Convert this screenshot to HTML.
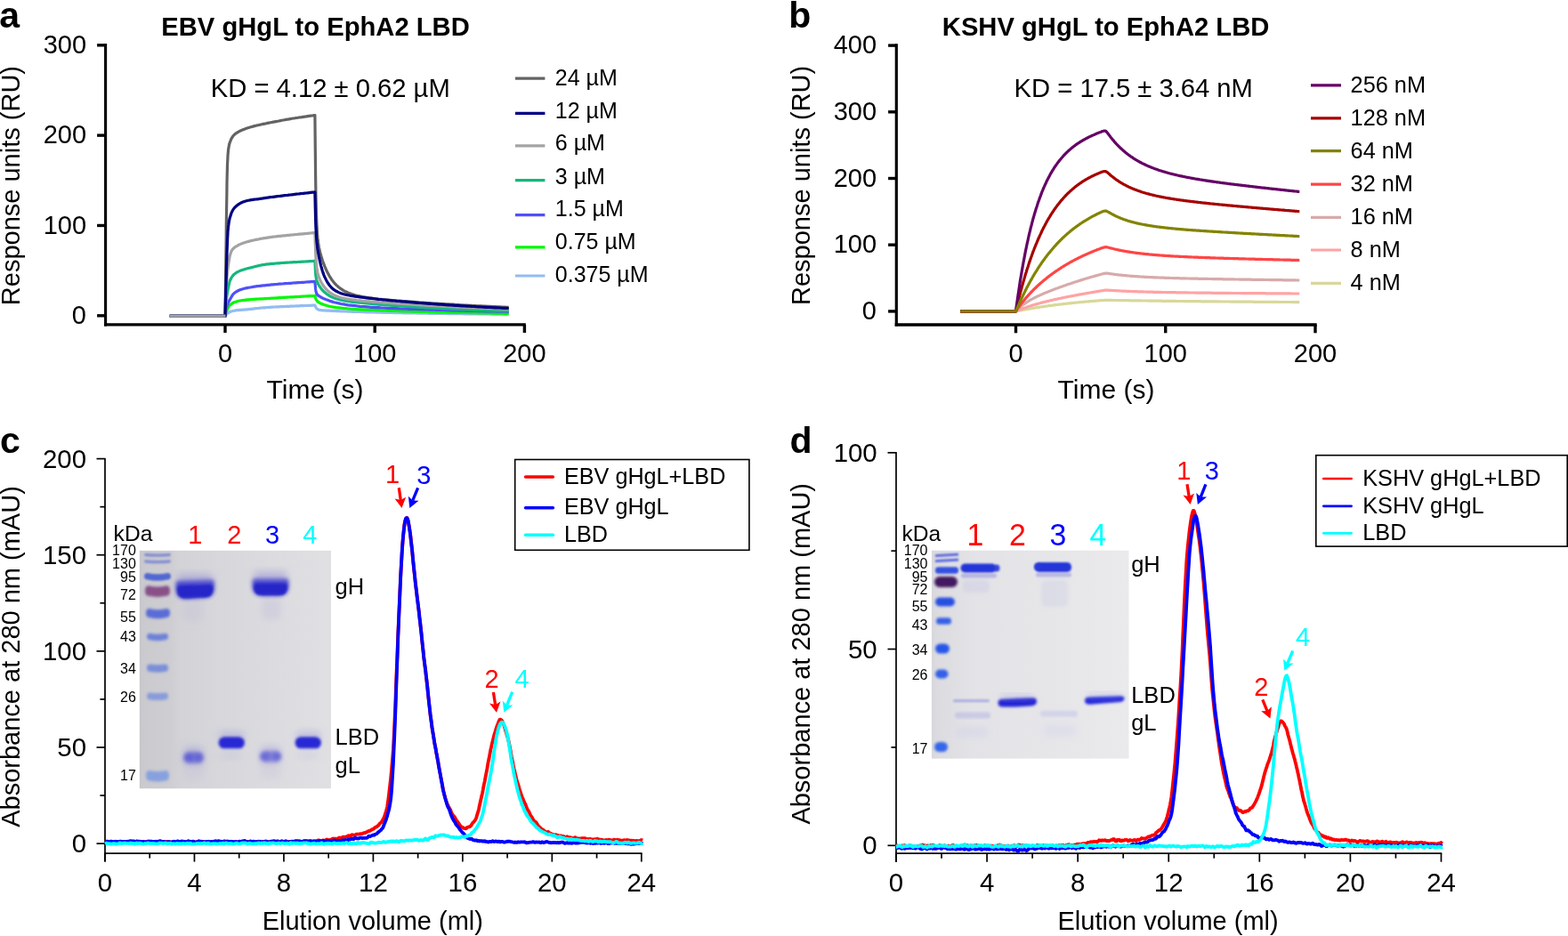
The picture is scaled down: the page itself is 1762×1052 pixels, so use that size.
<!DOCTYPE html><html><head><meta charset="utf-8"><title>Figure</title>
<style>html,body{margin:0;padding:0;background:#fff;overflow:hidden}svg{display:block}text{font-family:"Liberation Sans", Arial, Helvetica, sans-serif}</style></head><body>
<svg width="1762" height="1052" viewBox="0 0 1762 1052">
<rect width="1762" height="1052" fill="#fff"/>
<text x="-0.8" y="31.0" font-size="41" font-weight="bold">a</text>
<text x="181.3" y="39.8" font-size="29.2" font-weight="bold">EBV gHgL to EphA2 LBD</text>
<text x="236.8" y="108.7" font-size="29.2">KD = 4.12 &#177; 0.62 &#181;M</text>
<line x1="118.60" y1="49.10" x2="118.60" y2="366.60" stroke="#000" stroke-width="3.1" stroke-linecap="butt"/>
<line x1="117.05" y1="364.90" x2="590.80" y2="364.90" stroke="#000" stroke-width="3.4" stroke-linecap="butt"/>
<line x1="109.10" y1="354.80" x2="118.60" y2="354.80" stroke="#000" stroke-width="3.4" stroke-linecap="butt"/>
<text transform="translate(97.0,363.8) scale(1,1.03)" font-size="29" text-anchor="end">0</text>
<line x1="109.10" y1="253.47" x2="118.60" y2="253.47" stroke="#000" stroke-width="3.4" stroke-linecap="butt"/>
<text transform="translate(97.0,262.5) scale(1,1.03)" font-size="29" text-anchor="end">100</text>
<line x1="109.10" y1="152.14" x2="118.60" y2="152.14" stroke="#000" stroke-width="3.4" stroke-linecap="butt"/>
<text transform="translate(97.0,161.1) scale(1,1.03)" font-size="29" text-anchor="end">200</text>
<line x1="109.10" y1="50.81" x2="118.60" y2="50.81" stroke="#000" stroke-width="3.4" stroke-linecap="butt"/>
<text transform="translate(97.0,59.8) scale(1,1.03)" font-size="29" text-anchor="end">300</text>
<line x1="253.00" y1="364.90" x2="253.00" y2="374.00" stroke="#000" stroke-width="3.4" stroke-linecap="butt"/>
<text transform="translate(253.0,406.5) scale(1,1.03)" font-size="29" text-anchor="middle">0</text>
<line x1="421.20" y1="364.90" x2="421.20" y2="374.00" stroke="#000" stroke-width="3.4" stroke-linecap="butt"/>
<text transform="translate(421.2,406.5) scale(1,1.03)" font-size="29" text-anchor="middle">100</text>
<line x1="589.40" y1="364.90" x2="589.40" y2="374.00" stroke="#000" stroke-width="3.4" stroke-linecap="butt"/>
<text transform="translate(589.4,406.5) scale(1,1.03)" font-size="29" text-anchor="middle">200</text>
<text x="354.0" y="448.2" font-size="30" text-anchor="middle">Time (s)</text>
<text x="0.0" y="0.0" font-size="29" text-anchor="middle" transform="translate(22.0,208.6) rotate(-90)">Response units (RU)</text>
<line x1="579.00" y1="88.10" x2="612.40" y2="88.10" stroke="#636363" stroke-width="3.2" stroke-linecap="butt"/>
<text x="623.8" y="96.0" font-size="25">24 &#181;M</text>
<line x1="579.00" y1="127.40" x2="612.40" y2="127.40" stroke="#000080" stroke-width="3.2" stroke-linecap="butt"/>
<text x="623.8" y="132.7" font-size="25">12 &#181;M</text>
<line x1="579.00" y1="163.80" x2="612.40" y2="163.80" stroke="#a3a3a3" stroke-width="3.2" stroke-linecap="butt"/>
<text x="623.8" y="169.4" font-size="25">6 &#181;M</text>
<line x1="579.00" y1="202.60" x2="612.40" y2="202.60" stroke="#14b87c" stroke-width="3.2" stroke-linecap="butt"/>
<text x="623.8" y="206.6" font-size="25">3 &#181;M</text>
<line x1="579.00" y1="241.70" x2="612.40" y2="241.70" stroke="#5050fa" stroke-width="3.2" stroke-linecap="butt"/>
<text x="623.8" y="243.2" font-size="25">1.5 &#181;M</text>
<line x1="579.00" y1="277.90" x2="612.40" y2="277.90" stroke="#00f800" stroke-width="3.2" stroke-linecap="butt"/>
<text x="623.8" y="280.4" font-size="25">0.75 &#181;M</text>
<line x1="579.00" y1="310.00" x2="612.40" y2="310.00" stroke="#92bcf2" stroke-width="3.2" stroke-linecap="butt"/>
<text x="623.8" y="317.2" font-size="25">0.375 &#181;M</text>
<path d="M190.8,355.2 L253.0,355.2 L253.0,354.8 L253.2,354.6 L253.3,354.4 L253.5,354.2 L253.7,354.0 L253.8,353.8 L254.0,353.7 L254.2,353.5 L254.3,353.3 L254.5,353.1 L254.7,353.0 L254.9,352.8 L255.0,352.7 L255.2,352.5 L255.4,352.4 L255.5,352.3 L255.7,352.1 L255.9,352.0 L256.0,351.9 L256.2,351.8 L256.4,351.7 L256.5,351.6 L256.7,351.5 L256.9,351.4 L257.0,351.3 L257.2,351.2 L257.4,351.1 L257.5,351.0 L257.7,350.9 L257.9,350.8 L258.0,350.7 L258.4,350.6 L260.0,350.0 L261.6,349.5 L263.2,349.2 L264.9,348.9 L266.5,348.7 L268.1,348.6 L269.7,348.4 L271.3,348.3 L273.0,348.2 L274.6,348.1 L276.2,347.9 L277.8,347.8 L279.4,347.6 L281.1,347.4 L282.7,347.3 L284.3,347.1 L285.9,346.9 L287.5,346.7 L289.1,346.5 L290.8,346.4 L292.4,346.2 L294.0,346.0 L295.6,345.9 L297.2,345.8 L298.9,345.6 L300.5,345.5 L302.1,345.4 L303.7,345.3 L305.3,345.2 L307.0,345.1 L308.6,345.0 L310.2,344.9 L311.8,344.9 L313.4,344.8 L315.1,344.7 L316.7,344.6 L318.3,344.6 L319.9,344.5 L321.5,344.4 L323.2,344.3 L324.8,344.3 L326.4,344.2 L328.0,344.1 L329.6,344.1 L331.3,344.0 L332.9,343.9 L334.5,343.9 L336.1,343.8 L337.7,343.7 L339.3,343.7 L341.0,343.6 L342.6,343.5 L344.2,343.5 L345.8,343.4 L347.4,343.3 L349.1,343.3 L350.7,343.2 L352.3,343.1 L353.9,343.0 L353.9,343.0 L354.3,344.0 L354.6,344.8 L354.9,345.4 L355.3,345.9 L355.6,346.4 L355.9,346.8 L356.3,347.1 L356.6,347.4 L356.9,347.6 L357.3,347.8 L357.6,347.9 L358.0,348.1 L358.3,348.2 L358.6,348.3 L359.0,348.3 L359.3,348.4 L359.6,348.5 L360.0,348.5 L360.3,348.6 L360.6,348.6 L361.0,348.7 L361.3,348.7 L361.7,348.7 L362.0,348.8 L362.3,348.8 L362.7,348.8 L363.0,348.8 L363.3,348.9 L363.7,348.9 L364.0,348.9 L364.9,348.9 L367.5,349.1 L370.1,349.2 L372.7,349.3 L375.3,349.4 L377.9,349.6 L380.6,349.7 L383.2,349.8 L385.8,349.9 L388.4,350.0 L391.0,350.1 L393.7,350.2 L396.3,350.3 L398.9,350.3 L401.5,350.4 L404.1,350.5 L406.8,350.6 L409.4,350.7 L412.0,350.8 L414.6,350.8 L417.2,350.9 L419.8,351.0 L422.5,351.1 L425.1,351.1 L427.7,351.2 L430.3,351.3 L432.9,351.3 L435.6,351.4 L438.2,351.4 L440.8,351.5 L443.4,351.6 L446.0,351.6 L448.7,351.7 L451.3,351.7 L453.9,351.8 L456.5,351.8 L459.1,351.9 L461.7,351.9 L464.4,352.0 L467.0,352.0 L469.6,352.1 L472.2,352.1 L474.8,352.2 L477.5,352.2 L480.1,352.2 L482.7,352.3 L485.3,352.3 L487.9,352.3 L490.6,352.4 L493.2,352.4 L495.8,352.5 L498.4,352.5 L501.0,352.5 L503.6,352.6 L506.3,352.6 L508.9,352.6 L511.5,352.7 L514.1,352.7 L516.7,352.7 L519.4,352.7 L522.0,352.8 L524.6,352.8 L527.2,352.8 L529.8,352.9 L532.5,352.9 L535.1,352.9 L537.7,352.9 L540.3,352.9 L542.9,353.0 L545.6,353.0 L548.2,353.0 L550.8,353.0 L553.4,353.1 L556.0,353.1 L558.6,353.1 L561.3,353.1 L563.9,353.1 L566.5,353.2 L569.1,353.2 L571.7,353.2" fill="none" stroke="#92bcf2" stroke-width="3.2" stroke-linejoin="round" stroke-linecap="butt"/>
<path d="M190.8,355.2 L253.0,355.2 L253.0,354.8 L253.2,354.3 L253.3,353.7 L253.5,353.2 L253.7,352.7 L253.8,352.1 L254.0,351.6 L254.2,351.2 L254.3,350.7 L254.5,350.2 L254.7,349.7 L254.9,349.3 L255.0,348.8 L255.2,348.3 L255.4,347.9 L255.5,347.4 L255.7,347.0 L255.9,346.6 L256.0,346.2 L256.2,345.9 L256.4,345.6 L256.5,345.3 L256.7,345.1 L256.9,344.8 L257.0,344.6 L257.2,344.4 L257.4,344.1 L257.5,343.9 L257.7,343.7 L257.9,343.5 L258.0,343.4 L258.4,343.0 L260.0,341.6 L261.6,340.5 L263.2,339.7 L264.9,339.2 L266.5,338.7 L268.1,338.3 L269.7,338.0 L271.3,337.7 L273.0,337.5 L274.6,337.3 L276.2,337.1 L277.8,336.9 L279.4,336.8 L281.1,336.6 L282.7,336.5 L284.3,336.4 L285.9,336.3 L287.5,336.2 L289.1,336.1 L290.8,336.0 L292.4,335.9 L294.0,335.9 L295.6,335.8 L297.2,335.7 L298.9,335.6 L300.5,335.5 L302.1,335.4 L303.7,335.3 L305.3,335.2 L307.0,335.1 L308.6,335.0 L310.2,334.9 L311.8,334.8 L313.4,334.7 L315.1,334.6 L316.7,334.5 L318.3,334.4 L319.9,334.3 L321.5,334.2 L323.2,334.1 L324.8,334.0 L326.4,333.9 L328.0,333.8 L329.6,333.8 L331.3,333.7 L332.9,333.6 L334.5,333.5 L336.1,333.4 L337.7,333.3 L339.3,333.2 L341.0,333.1 L342.6,333.0 L344.2,332.9 L345.8,332.8 L347.4,332.7 L349.1,332.7 L350.7,332.6 L352.3,332.5 L353.9,332.4 L353.9,332.4 L354.3,333.8 L354.6,335.0 L354.9,335.9 L355.3,336.7 L355.6,337.3 L355.9,337.8 L356.3,338.2 L356.6,338.6 L356.9,338.9 L357.3,339.2 L357.6,339.5 L358.0,339.7 L358.3,339.9 L358.6,340.1 L359.0,340.3 L359.3,340.5 L359.6,340.7 L360.0,340.8 L360.3,341.0 L360.6,341.1 L361.0,341.3 L361.3,341.4 L361.7,341.6 L362.0,341.7 L362.3,341.8 L362.7,342.0 L363.0,342.1 L363.3,342.2 L363.7,342.3 L364.0,342.5 L364.9,342.7 L367.5,343.5 L370.1,344.2 L372.7,344.7 L375.3,345.2 L377.9,345.6 L380.6,345.9 L383.2,346.2 L385.8,346.5 L388.4,346.7 L391.0,347.0 L393.7,347.2 L396.3,347.3 L398.9,347.5 L401.5,347.7 L404.1,347.8 L406.8,347.9 L409.4,348.1 L412.0,348.2 L414.6,348.3 L417.2,348.4 L419.8,348.5 L422.5,348.6 L425.1,348.7 L427.7,348.9 L430.3,348.9 L432.9,349.0 L435.6,349.1 L438.2,349.2 L440.8,349.3 L443.4,349.4 L446.0,349.5 L448.7,349.6 L451.3,349.7 L453.9,349.8 L456.5,349.8 L459.1,349.9 L461.7,350.0 L464.4,350.1 L467.0,350.1 L469.6,350.2 L472.2,350.3 L474.8,350.4 L477.5,350.4 L480.1,350.5 L482.7,350.6 L485.3,350.6 L487.9,350.7 L490.6,350.8 L493.2,350.8 L495.8,350.9 L498.4,351.0 L501.0,351.0 L503.6,351.1 L506.3,351.2 L508.9,351.2 L511.5,351.3 L514.1,351.3 L516.7,351.4 L519.4,351.4 L522.0,351.5 L524.6,351.5 L527.2,351.6 L529.8,351.6 L532.5,351.7 L535.1,351.7 L537.7,351.8 L540.3,351.8 L542.9,351.9 L545.6,351.9 L548.2,352.0 L550.8,352.0 L553.4,352.1 L556.0,352.1 L558.6,352.2 L561.3,352.2 L563.9,352.2 L566.5,352.3 L569.1,352.3 L571.7,352.4" fill="none" stroke="#00f800" stroke-width="3.2" stroke-linejoin="round" stroke-linecap="butt"/>
<path d="M190.8,355.2 L253.0,355.2 L253.0,354.8 L253.2,353.2 L253.3,351.6 L253.5,350.2 L253.7,349.0 L253.8,348.0 L254.0,347.2 L254.2,346.6 L254.3,345.9 L254.5,345.4 L254.7,344.9 L254.9,344.4 L255.0,343.9 L255.2,343.5 L255.4,343.1 L255.5,342.6 L255.7,342.2 L255.9,341.8 L256.0,341.4 L256.2,341.0 L256.4,340.6 L256.5,340.3 L256.7,339.9 L256.9,339.6 L257.0,339.2 L257.2,338.9 L257.4,338.5 L257.5,338.2 L257.7,337.9 L257.9,337.6 L258.0,337.3 L258.4,336.7 L260.0,333.8 L261.6,331.2 L263.2,329.5 L264.9,328.2 L266.5,327.3 L268.1,326.5 L269.7,325.8 L271.3,325.2 L273.0,324.7 L274.6,324.3 L276.2,323.9 L277.8,323.6 L279.4,323.3 L281.1,323.0 L282.7,322.7 L284.3,322.4 L285.9,322.2 L287.5,321.9 L289.1,321.7 L290.8,321.5 L292.4,321.3 L294.0,321.1 L295.6,320.9 L297.2,320.8 L298.9,320.6 L300.5,320.4 L302.1,320.3 L303.7,320.1 L305.3,319.9 L307.0,319.8 L308.6,319.6 L310.2,319.5 L311.8,319.4 L313.4,319.2 L315.1,319.1 L316.7,319.0 L318.3,318.9 L319.9,318.7 L321.5,318.6 L323.2,318.5 L324.8,318.4 L326.4,318.3 L328.0,318.2 L329.6,318.0 L331.3,317.9 L332.9,317.8 L334.5,317.7 L336.1,317.6 L337.7,317.5 L339.3,317.4 L341.0,317.3 L342.6,317.2 L344.2,317.0 L345.8,316.9 L347.4,316.8 L349.1,316.7 L350.7,316.6 L352.3,316.4 L353.9,316.3 L353.9,316.3 L354.3,321.2 L354.6,324.5 L354.9,326.8 L355.3,328.3 L355.6,329.4 L355.9,330.1 L356.3,330.7 L356.6,331.2 L356.9,331.6 L357.3,331.9 L357.6,332.1 L358.0,332.4 L358.3,332.6 L358.6,332.8 L359.0,333.0 L359.3,333.2 L359.6,333.4 L360.0,333.6 L360.3,333.8 L360.6,334.0 L361.0,334.2 L361.3,334.4 L361.7,334.5 L362.0,334.7 L362.3,334.9 L362.7,335.0 L363.0,335.2 L363.3,335.4 L363.7,335.5 L364.0,335.7 L364.9,336.0 L367.5,337.1 L370.1,338.1 L372.7,338.9 L375.3,339.7 L377.9,340.3 L380.6,340.9 L383.2,341.5 L385.8,341.9 L388.4,342.4 L391.0,342.8 L393.7,343.1 L396.3,343.4 L398.9,343.7 L401.5,344.0 L404.1,344.3 L406.8,344.5 L409.4,344.7 L412.0,344.9 L414.6,345.1 L417.2,345.3 L419.8,345.4 L422.5,345.6 L425.1,345.7 L427.7,345.9 L430.3,346.0 L432.9,346.1 L435.6,346.3 L438.2,346.4 L440.8,346.5 L443.4,346.6 L446.0,346.7 L448.7,346.8 L451.3,347.0 L453.9,347.1 L456.5,347.2 L459.1,347.3 L461.7,347.4 L464.4,347.4 L467.0,347.5 L469.6,347.6 L472.2,347.7 L474.8,347.8 L477.5,347.9 L480.1,348.0 L482.7,348.1 L485.3,348.1 L487.9,348.2 L490.6,348.3 L493.2,348.4 L495.8,348.5 L498.4,348.5 L501.0,348.6 L503.6,348.7 L506.3,348.8 L508.9,348.8 L511.5,348.9 L514.1,349.0 L516.7,349.1 L519.4,349.1 L522.0,349.2 L524.6,349.3 L527.2,349.3 L529.8,349.4 L532.5,349.5 L535.1,349.5 L537.7,349.6 L540.3,349.7 L542.9,349.7 L545.6,349.8 L548.2,349.8 L550.8,349.9 L553.4,350.0 L556.0,350.0 L558.6,350.1 L561.3,350.1 L563.9,350.2 L566.5,350.2 L569.1,350.3 L571.7,350.4" fill="none" stroke="#5050fa" stroke-width="3.2" stroke-linejoin="round" stroke-linecap="butt"/>
<path d="M190.8,355.2 L253.0,355.2 L253.0,354.8 L253.2,352.3 L253.3,349.9 L253.5,347.5 L253.7,345.3 L253.8,343.2 L254.0,341.2 L254.2,339.3 L254.3,337.6 L254.5,336.0 L254.7,334.5 L254.9,333.2 L255.0,332.0 L255.2,330.9 L255.4,329.8 L255.5,328.8 L255.7,327.9 L255.9,327.0 L256.0,326.1 L256.2,325.2 L256.4,324.4 L256.5,323.6 L256.7,322.7 L256.9,321.9 L257.0,321.1 L257.2,320.2 L257.4,319.5 L257.5,318.7 L257.7,318.0 L257.9,317.3 L258.0,316.6 L258.4,315.5 L260.0,312.1 L261.6,309.9 L263.2,308.2 L264.9,306.9 L266.5,305.9 L268.1,305.1 L269.7,304.4 L271.3,303.7 L273.0,303.2 L274.6,302.7 L276.2,302.2 L277.8,301.7 L279.4,301.4 L281.1,301.0 L282.7,300.6 L284.3,300.2 L285.9,299.8 L287.5,299.4 L289.1,299.0 L290.8,298.6 L292.4,298.2 L294.0,297.9 L295.6,297.6 L297.2,297.4 L298.9,297.1 L300.5,296.9 L302.1,296.8 L303.7,296.6 L305.3,296.4 L307.0,296.3 L308.6,296.2 L310.2,296.0 L311.8,295.9 L313.4,295.8 L315.1,295.6 L316.7,295.5 L318.3,295.4 L319.9,295.3 L321.5,295.2 L323.2,295.1 L324.8,295.0 L326.4,294.9 L328.0,294.8 L329.6,294.7 L331.3,294.6 L332.9,294.6 L334.5,294.5 L336.1,294.4 L337.7,294.3 L339.3,294.2 L341.0,294.1 L342.6,294.0 L344.2,293.9 L345.8,293.8 L347.4,293.7 L349.1,293.6 L350.7,293.5 L352.3,293.4 L353.9,293.3 L353.9,293.3 L354.3,301.7 L354.6,306.9 L354.9,310.3 L355.3,312.5 L355.6,314.1 L355.9,315.4 L356.3,316.4 L356.6,317.2 L356.9,317.9 L357.3,318.6 L357.6,319.3 L358.0,319.9 L358.3,320.5 L358.6,321.0 L359.0,321.6 L359.3,322.1 L359.6,322.6 L360.0,323.1 L360.3,323.5 L360.6,324.0 L361.0,324.4 L361.3,324.9 L361.7,325.3 L362.0,325.7 L362.3,326.1 L362.7,326.5 L363.0,326.8 L363.3,327.2 L363.7,327.5 L364.0,327.8 L364.9,328.6 L367.5,330.7 L370.1,332.4 L372.7,333.8 L375.3,334.9 L377.9,335.8 L380.6,336.5 L383.2,337.1 L385.8,337.7 L388.4,338.1 L391.0,338.6 L393.7,338.9 L396.3,339.3 L398.9,339.6 L401.5,339.9 L404.1,340.2 L406.8,340.4 L409.4,340.7 L412.0,341.0 L414.6,341.2 L417.2,341.4 L419.8,341.6 L422.5,341.9 L425.1,342.1 L427.7,342.3 L430.3,342.5 L432.9,342.7 L435.6,342.9 L438.2,343.1 L440.8,343.3 L443.4,343.5 L446.0,343.7 L448.7,343.8 L451.3,344.0 L453.9,344.2 L456.5,344.4 L459.1,344.5 L461.7,344.7 L464.4,344.9 L467.0,345.0 L469.6,345.2 L472.2,345.3 L474.8,345.5 L477.5,345.6 L480.1,345.8 L482.7,345.9 L485.3,346.1 L487.9,346.2 L490.6,346.4 L493.2,346.5 L495.8,346.6 L498.4,346.8 L501.0,346.9 L503.6,347.0 L506.3,347.2 L508.9,347.3 L511.5,347.4 L514.1,347.5 L516.7,347.6 L519.4,347.8 L522.0,347.9 L524.6,348.0 L527.2,348.1 L529.8,348.2 L532.5,348.3 L535.1,348.4 L537.7,348.5 L540.3,348.6 L542.9,348.7 L545.6,348.8 L548.2,348.9 L550.8,349.0 L553.4,349.1 L556.0,349.2 L558.6,349.3 L561.3,349.4 L563.9,349.5 L566.5,349.6 L569.1,349.6 L571.7,349.7" fill="none" stroke="#14b87c" stroke-width="3.2" stroke-linejoin="round" stroke-linecap="butt"/>
<path d="M190.8,355.2 L253.0,355.2 L253.0,354.8 L253.2,350.0 L253.3,345.3 L253.5,340.8 L253.7,336.5 L253.8,332.4 L254.0,328.6 L254.2,325.0 L254.3,321.8 L254.5,318.9 L254.7,316.3 L254.9,314.0 L255.0,311.8 L255.2,309.8 L255.4,307.9 L255.5,306.1 L255.7,304.5 L255.9,303.0 L256.0,301.6 L256.2,300.3 L256.4,299.1 L256.5,297.9 L256.7,296.8 L256.9,295.7 L257.0,294.6 L257.2,293.6 L257.4,292.5 L257.5,291.5 L257.7,290.6 L257.9,289.6 L258.0,288.8 L258.4,287.1 L260.0,282.3 L261.6,280.0 L263.2,278.4 L264.9,277.2 L266.5,276.3 L268.1,275.3 L269.7,274.6 L271.3,273.9 L273.0,273.3 L274.6,272.8 L276.2,272.3 L277.8,271.8 L279.4,271.4 L281.1,270.9 L282.7,270.5 L284.3,270.1 L285.9,269.8 L287.5,269.4 L289.1,269.1 L290.8,268.8 L292.4,268.4 L294.0,268.2 L295.6,267.9 L297.2,267.6 L298.9,267.4 L300.5,267.1 L302.1,266.9 L303.7,266.7 L305.3,266.4 L307.0,266.2 L308.6,266.0 L310.2,265.8 L311.8,265.6 L313.4,265.4 L315.1,265.3 L316.7,265.1 L318.3,264.9 L319.9,264.8 L321.5,264.6 L323.2,264.4 L324.8,264.3 L326.4,264.1 L328.0,264.0 L329.6,263.8 L331.3,263.7 L332.9,263.5 L334.5,263.4 L336.1,263.2 L337.7,263.1 L339.3,262.9 L341.0,262.8 L342.6,262.6 L344.2,262.5 L345.8,262.3 L347.4,262.1 L349.1,262.0 L350.7,261.8 L352.3,261.6 L353.9,261.5 L353.9,261.5 L354.3,273.6 L354.6,282.5 L354.9,289.0 L355.3,294.0 L355.6,297.8 L355.9,300.7 L356.3,303.1 L356.6,305.0 L356.9,306.6 L357.3,308.0 L357.6,309.2 L358.0,310.3 L358.3,311.3 L358.6,312.2 L359.0,313.0 L359.3,313.8 L359.6,314.6 L360.0,315.3 L360.3,316.0 L360.6,316.6 L361.0,317.2 L361.3,317.9 L361.7,318.4 L362.0,319.0 L362.3,319.6 L362.7,320.1 L363.0,320.6 L363.3,321.1 L363.7,321.6 L364.0,322.0 L364.9,323.1 L367.5,326.1 L370.1,328.3 L372.7,330.2 L375.3,331.6 L377.9,332.8 L380.6,333.7 L383.2,334.5 L385.8,335.1 L388.4,335.7 L391.0,336.1 L393.7,336.5 L396.3,336.9 L398.9,337.2 L401.5,337.6 L404.1,337.8 L406.8,338.1 L409.4,338.3 L412.0,338.6 L414.6,338.8 L417.2,339.0 L419.8,339.3 L422.5,339.5 L425.1,339.7 L427.7,339.9 L430.3,340.1 L432.9,340.3 L435.6,340.5 L438.2,340.6 L440.8,340.8 L443.4,341.0 L446.0,341.2 L448.7,341.4 L451.3,341.5 L453.9,341.7 L456.5,341.9 L459.1,342.0 L461.7,342.2 L464.4,342.4 L467.0,342.5 L469.6,342.7 L472.2,342.8 L474.8,343.0 L477.5,343.2 L480.1,343.3 L482.7,343.5 L485.3,343.6 L487.9,343.7 L490.6,343.9 L493.2,344.0 L495.8,344.2 L498.4,344.3 L501.0,344.4 L503.6,344.6 L506.3,344.7 L508.9,344.8 L511.5,345.0 L514.1,345.1 L516.7,345.2 L519.4,345.3 L522.0,345.5 L524.6,345.6 L527.2,345.7 L529.8,345.8 L532.5,345.9 L535.1,346.1 L537.7,346.2 L540.3,346.3 L542.9,346.4 L545.6,346.5 L548.2,346.6 L550.8,346.7 L553.4,346.8 L556.0,346.9 L558.6,347.0 L561.3,347.1 L563.9,347.2 L566.5,347.3 L569.1,347.4 L571.7,347.5" fill="none" stroke="#a3a3a3" stroke-width="3.2" stroke-linejoin="round" stroke-linecap="butt"/>
<path d="M190.8,355.2 L253.0,355.2 L253.0,354.8 L253.2,343.1 L253.3,331.2 L253.5,319.0 L253.7,306.6 L253.8,294.0 L254.0,280.7 L254.2,266.7 L254.3,252.9 L254.5,240.0 L254.7,228.6 L254.9,217.3 L255.0,206.5 L255.2,197.2 L255.4,190.1 L255.5,185.5 L255.7,181.6 L255.9,178.1 L256.0,175.1 L256.2,172.6 L256.4,170.6 L256.5,169.1 L256.7,167.8 L256.9,166.6 L257.0,165.6 L257.2,164.6 L257.4,163.7 L257.5,162.9 L257.7,162.2 L257.9,161.5 L258.0,160.9 L258.4,159.8 L260.0,155.9 L261.6,153.3 L263.2,151.5 L264.9,150.1 L266.5,149.0 L268.1,148.1 L269.7,147.2 L271.3,146.5 L273.0,145.8 L274.6,145.2 L276.2,144.6 L277.8,144.0 L279.4,143.5 L281.1,143.0 L282.7,142.5 L284.3,142.1 L285.9,141.6 L287.5,141.2 L289.1,140.8 L290.8,140.5 L292.4,140.1 L294.0,139.8 L295.6,139.4 L297.2,139.1 L298.9,138.8 L300.5,138.4 L302.1,138.1 L303.7,137.8 L305.3,137.5 L307.0,137.2 L308.6,136.9 L310.2,136.6 L311.8,136.3 L313.4,136.0 L315.1,135.6 L316.7,135.3 L318.3,135.0 L319.9,134.7 L321.5,134.4 L323.2,134.2 L324.8,133.9 L326.4,133.6 L328.0,133.3 L329.6,133.0 L331.3,132.8 L332.9,132.5 L334.5,132.3 L336.1,132.0 L337.7,131.8 L339.3,131.6 L341.0,131.3 L342.6,131.1 L344.2,130.9 L345.8,130.6 L347.4,130.4 L349.1,130.2 L350.7,130.0 L352.3,129.7 L353.9,129.5 L353.9,129.5 L354.3,168.8 L354.6,197.1 L354.9,217.6 L355.3,232.7 L355.6,243.8 L355.9,252.1 L356.3,258.4 L356.6,263.3 L356.9,267.2 L357.3,270.4 L357.6,273.0 L358.0,275.2 L358.3,277.2 L358.6,278.9 L359.0,280.5 L359.3,282.0 L359.6,283.4 L360.0,284.7 L360.3,285.9 L360.6,287.1 L361.0,288.3 L361.3,289.4 L361.7,290.5 L362.0,291.5 L362.3,292.5 L362.7,293.5 L363.0,294.5 L363.3,295.4 L363.7,296.3 L364.0,297.2 L364.9,299.4 L367.5,305.3 L370.1,310.1 L372.7,314.2 L375.3,317.6 L377.9,320.4 L380.6,322.7 L383.2,324.7 L385.8,326.4 L388.4,327.8 L391.0,329.0 L393.7,330.0 L396.3,330.9 L398.9,331.7 L401.5,332.4 L404.1,332.9 L406.8,333.5 L409.4,333.9 L412.0,334.4 L414.6,334.8 L417.2,335.1 L419.8,335.5 L422.5,335.8 L425.1,336.1 L427.7,336.3 L430.3,336.6 L432.9,336.9 L435.6,337.1 L438.2,337.3 L440.8,337.6 L443.4,337.8 L446.0,338.0 L448.7,338.2 L451.3,338.4 L453.9,338.6 L456.5,338.8 L459.1,339.0 L461.7,339.2 L464.4,339.4 L467.0,339.6 L469.6,339.8 L472.2,340.0 L474.8,340.1 L477.5,340.3 L480.1,340.5 L482.7,340.6 L485.3,340.8 L487.9,341.0 L490.6,341.1 L493.2,341.3 L495.8,341.5 L498.4,341.6 L501.0,341.8 L503.6,341.9 L506.3,342.1 L508.9,342.2 L511.5,342.4 L514.1,342.5 L516.7,342.7 L519.4,342.8 L522.0,343.0 L524.6,343.1 L527.2,343.3 L529.8,343.4 L532.5,343.5 L535.1,343.7 L537.7,343.8 L540.3,343.9 L542.9,344.1 L545.6,344.2 L548.2,344.3 L550.8,344.4 L553.4,344.6 L556.0,344.7 L558.6,344.8 L561.3,344.9 L563.9,345.0 L566.5,345.1 L569.1,345.3 L571.7,345.4" fill="none" stroke="#636363" stroke-width="3.2" stroke-linejoin="round" stroke-linecap="butt"/>
<path d="M190.8,355.2 L253.0,355.2 L253.0,354.8 L253.2,348.7 L253.3,342.6 L253.5,336.6 L253.7,330.5 L253.8,324.4 L254.0,318.2 L254.2,311.9 L254.3,305.6 L254.5,299.6 L254.7,294.0 L254.9,288.8 L255.0,283.8 L255.2,279.1 L255.4,274.7 L255.5,270.7 L255.7,267.0 L255.9,263.5 L256.0,260.6 L256.2,258.6 L256.4,256.9 L256.5,255.3 L256.7,253.8 L256.9,252.5 L257.0,251.3 L257.2,250.1 L257.4,249.1 L257.5,248.2 L257.7,247.3 L257.9,246.5 L258.0,245.8 L258.4,244.4 L260.0,239.4 L261.6,236.2 L263.2,233.9 L264.9,232.2 L266.5,230.8 L268.1,229.6 L269.7,228.6 L271.3,227.8 L273.0,227.1 L274.6,226.5 L276.2,226.0 L277.8,225.5 L279.4,225.2 L281.1,224.9 L282.7,224.6 L284.3,224.4 L285.9,224.2 L287.5,224.0 L289.1,223.8 L290.8,223.6 L292.4,223.3 L294.0,223.1 L295.6,222.9 L297.2,222.6 L298.9,222.4 L300.5,222.2 L302.1,221.9 L303.7,221.7 L305.3,221.5 L307.0,221.3 L308.6,221.1 L310.2,220.9 L311.8,220.7 L313.4,220.5 L315.1,220.3 L316.7,220.1 L318.3,219.9 L319.9,219.7 L321.5,219.5 L323.2,219.4 L324.8,219.2 L326.4,219.0 L328.0,218.8 L329.6,218.6 L331.3,218.4 L332.9,218.2 L334.5,218.0 L336.1,217.9 L337.7,217.7 L339.3,217.5 L341.0,217.3 L342.6,217.1 L344.2,217.0 L345.8,216.8 L347.4,216.6 L349.1,216.4 L350.7,216.2 L352.3,216.0 L353.9,215.9 L353.9,215.9 L354.3,234.2 L354.6,246.8 L354.9,255.7 L355.3,262.3 L355.6,267.3 L355.9,271.2 L356.3,274.5 L356.6,277.3 L356.9,279.8 L357.3,282.1 L357.6,284.2 L358.0,286.1 L358.3,288.0 L358.6,289.7 L359.0,291.3 L359.3,292.9 L359.6,294.4 L360.0,295.9 L360.3,297.3 L360.6,298.6 L361.0,299.9 L361.3,301.1 L361.7,302.3 L362.0,303.4 L362.3,304.5 L362.7,305.5 L363.0,306.5 L363.3,307.5 L363.7,308.4 L364.0,309.3 L364.9,311.4 L367.5,316.6 L370.1,320.5 L372.7,323.5 L375.3,325.7 L377.9,327.3 L380.6,328.6 L383.2,329.7 L385.8,330.5 L388.4,331.2 L391.0,331.8 L393.7,332.3 L396.3,332.7 L398.9,333.1 L401.5,333.5 L404.1,333.9 L406.8,334.2 L409.4,334.5 L412.0,334.8 L414.6,335.1 L417.2,335.4 L419.8,335.7 L422.5,336.0 L425.1,336.3 L427.7,336.5 L430.3,336.8 L432.9,337.0 L435.6,337.3 L438.2,337.6 L440.8,337.8 L443.4,338.0 L446.0,338.3 L448.7,338.5 L451.3,338.8 L453.9,339.0 L456.5,339.2 L459.1,339.4 L461.7,339.7 L464.4,339.9 L467.0,340.1 L469.6,340.3 L472.2,340.5 L474.8,340.7 L477.5,340.9 L480.1,341.1 L482.7,341.3 L485.3,341.5 L487.9,341.7 L490.6,341.9 L493.2,342.1 L495.8,342.2 L498.4,342.4 L501.0,342.6 L503.6,342.8 L506.3,342.9 L508.9,343.1 L511.5,343.3 L514.1,343.4 L516.7,343.6 L519.4,343.8 L522.0,343.9 L524.6,344.1 L527.2,344.2 L529.8,344.4 L532.5,344.5 L535.1,344.7 L537.7,344.8 L540.3,345.0 L542.9,345.1 L545.6,345.3 L548.2,345.4 L550.8,345.5 L553.4,345.7 L556.0,345.8 L558.6,345.9 L561.3,346.0 L563.9,346.2 L566.5,346.3 L569.1,346.4 L571.7,346.5" fill="none" stroke="#000080" stroke-width="3.2" stroke-linejoin="round" stroke-linecap="butt"/>
<path d="M190.8,355.2 L253.5,355.2" fill="none" stroke="#a3a3a3" stroke-width="3.2" stroke-linejoin="round" stroke-linecap="butt"/>
<text x="886.3" y="30.6" font-size="41" font-weight="bold">b</text>
<text x="1058.8" y="40.0" font-size="29.2" font-weight="bold">KSHV gHgL to EphA2 LBD</text>
<text x="1139.6" y="108.7" font-size="29.2">KD = 17.5 &#177; 3.64 nM</text>
<line x1="1007.30" y1="49.30" x2="1007.30" y2="366.60" stroke="#000" stroke-width="3.2" stroke-linecap="butt"/>
<line x1="1005.70" y1="365.00" x2="1479.70" y2="365.00" stroke="#000" stroke-width="3.4" stroke-linecap="butt"/>
<line x1="998.10" y1="349.90" x2="1007.30" y2="349.90" stroke="#000" stroke-width="3.4" stroke-linecap="butt"/>
<text transform="translate(985.0,358.9) scale(1,1.03)" font-size="29" text-anchor="end">0</text>
<line x1="998.10" y1="275.20" x2="1007.30" y2="275.20" stroke="#000" stroke-width="3.4" stroke-linecap="butt"/>
<text transform="translate(985.0,284.2) scale(1,1.03)" font-size="29" text-anchor="end">100</text>
<line x1="998.10" y1="200.50" x2="1007.30" y2="200.50" stroke="#000" stroke-width="3.4" stroke-linecap="butt"/>
<text transform="translate(985.0,209.5) scale(1,1.03)" font-size="29" text-anchor="end">200</text>
<line x1="998.10" y1="125.80" x2="1007.30" y2="125.80" stroke="#000" stroke-width="3.4" stroke-linecap="butt"/>
<text transform="translate(985.0,134.8) scale(1,1.03)" font-size="29" text-anchor="end">300</text>
<line x1="998.10" y1="51.10" x2="1007.30" y2="51.10" stroke="#000" stroke-width="3.4" stroke-linecap="butt"/>
<text transform="translate(985.0,60.1) scale(1,1.03)" font-size="29" text-anchor="end">400</text>
<line x1="1141.50" y1="365.00" x2="1141.50" y2="374.30" stroke="#000" stroke-width="3.4" stroke-linecap="butt"/>
<text transform="translate(1141.5,406.5) scale(1,1.03)" font-size="29" text-anchor="middle">0</text>
<line x1="1309.75" y1="365.00" x2="1309.75" y2="374.30" stroke="#000" stroke-width="3.4" stroke-linecap="butt"/>
<text transform="translate(1309.8,406.5) scale(1,1.03)" font-size="29" text-anchor="middle">100</text>
<line x1="1478.00" y1="365.00" x2="1478.00" y2="374.30" stroke="#000" stroke-width="3.4" stroke-linecap="butt"/>
<text transform="translate(1478.0,406.5) scale(1,1.03)" font-size="29" text-anchor="middle">200</text>
<text x="1243.0" y="448.2" font-size="30" text-anchor="middle">Time (s)</text>
<text x="0.0" y="0.0" font-size="29" text-anchor="middle" transform="translate(909.7,208.4) rotate(-90)">Response units (RU)</text>
<line x1="1473.00" y1="95.90" x2="1507.00" y2="95.90" stroke="#650065" stroke-width="3.2" stroke-linecap="butt"/>
<text x="1517.6" y="103.9" font-size="25.3">256 nM</text>
<line x1="1473.00" y1="132.90" x2="1507.00" y2="132.90" stroke="#a50000" stroke-width="3.2" stroke-linecap="butt"/>
<text x="1517.6" y="140.9" font-size="25.3">128 nM</text>
<line x1="1473.00" y1="169.70" x2="1507.00" y2="169.70" stroke="#838300" stroke-width="3.2" stroke-linecap="butt"/>
<text x="1517.6" y="177.7" font-size="25.3">64 nM</text>
<line x1="1473.00" y1="207.20" x2="1507.00" y2="207.20" stroke="#ff4545" stroke-width="3.2" stroke-linecap="butt"/>
<text x="1517.6" y="215.2" font-size="25.3">32 nM</text>
<line x1="1473.00" y1="244.30" x2="1507.00" y2="244.30" stroke="#d8aaaa" stroke-width="3.2" stroke-linecap="butt"/>
<text x="1517.6" y="252.3" font-size="25.3">16 nM</text>
<line x1="1473.00" y1="281.00" x2="1507.00" y2="281.00" stroke="#ffa3a3" stroke-width="3.2" stroke-linecap="butt"/>
<text x="1517.6" y="289.0" font-size="25.3">8 nM</text>
<line x1="1473.00" y1="318.40" x2="1507.00" y2="318.40" stroke="#d8d89a" stroke-width="3.2" stroke-linecap="butt"/>
<text x="1517.6" y="326.4" font-size="25.3">4 nM</text>
<path d="M1079.2,349.9 L1141.5,349.9 L1141.5,349.9 L1142.3,349.7 L1143.2,349.6 L1144.0,349.4 L1144.9,349.2 L1145.7,349.1 L1146.5,348.9 L1147.4,348.8 L1148.2,348.6 L1149.1,348.4 L1149.9,348.3 L1150.8,348.1 L1151.6,348.0 L1152.4,347.8 L1153.3,347.7 L1154.1,347.5 L1155.0,347.4 L1155.8,347.2 L1156.6,347.1 L1157.5,346.9 L1158.3,346.8 L1159.2,346.7 L1160.0,346.5 L1160.8,346.4 L1161.7,346.2 L1162.5,346.1 L1163.4,346.0 L1164.2,345.8 L1165.1,345.7 L1165.9,345.6 L1166.7,345.4 L1167.6,345.3 L1168.4,345.2 L1169.3,345.0 L1170.1,344.9 L1170.9,344.8 L1171.8,344.7 L1172.6,344.6 L1173.5,344.4 L1174.3,344.3 L1175.2,344.2 L1176.0,344.1 L1176.8,344.0 L1177.7,343.8 L1178.5,343.7 L1179.4,343.6 L1180.2,343.5 L1181.0,343.4 L1181.9,343.3 L1182.7,343.2 L1183.6,343.0 L1184.4,342.9 L1185.2,342.8 L1186.1,342.7 L1186.9,342.6 L1187.8,342.5 L1188.6,342.4 L1189.5,342.3 L1190.3,342.2 L1191.1,342.1 L1192.0,342.0 L1192.8,341.9 L1193.7,341.8 L1194.5,341.7 L1195.3,341.6 L1196.2,341.5 L1197.0,341.4 L1197.9,341.3 L1198.7,341.2 L1199.5,341.1 L1200.4,341.0 L1201.2,340.9 L1202.1,340.9 L1202.9,340.8 L1203.8,340.7 L1204.6,340.6 L1205.4,340.5 L1206.3,340.4 L1207.1,340.3 L1208.0,340.2 L1208.8,340.2 L1209.6,340.1 L1210.5,340.0 L1211.3,339.9 L1212.2,339.8 L1213.0,339.7 L1213.8,339.7 L1214.7,339.6 L1215.5,339.5 L1216.4,339.4 L1217.2,339.4 L1218.1,339.3 L1218.9,339.2 L1219.7,339.1 L1220.6,339.0 L1221.4,339.0 L1222.3,338.9 L1223.1,338.8 L1223.9,338.8 L1224.8,338.7 L1225.6,338.6 L1226.5,338.5 L1227.3,338.5 L1228.1,338.4 L1229.0,338.3 L1229.8,338.3 L1230.7,338.2 L1231.5,338.1 L1232.4,338.1 L1233.2,338.0 L1234.0,337.9 L1234.9,337.9 L1235.7,337.8 L1236.6,337.7 L1237.4,337.7 L1238.2,337.6 L1239.1,337.6 L1239.9,337.5 L1240.8,337.5 L1241.6,337.4 L1242.5,337.4 L1243.3,337.4 L1244.1,337.4 L1245.0,337.4 L1245.8,337.4 L1246.7,337.4 L1247.5,337.4 L1248.3,337.4 L1249.2,337.4 L1250.0,337.4 L1250.9,337.5 L1251.7,337.5 L1252.5,337.5 L1253.4,337.5 L1254.2,337.5 L1255.1,337.5 L1255.9,337.5 L1256.8,337.6 L1257.6,337.6 L1258.4,337.6 L1259.3,337.6 L1260.1,337.6 L1261.0,337.6 L1261.8,337.6 L1262.6,337.6 L1263.5,337.7 L1264.3,337.7 L1265.2,337.7 L1266.0,337.7 L1266.8,337.7 L1267.7,337.7 L1268.5,337.7 L1269.4,337.8 L1270.2,337.8 L1271.1,337.8 L1271.9,337.8 L1272.7,337.8 L1273.6,337.8 L1274.4,337.8 L1275.3,337.8 L1276.1,337.9 L1276.9,337.9 L1277.8,337.9 L1278.6,337.9 L1279.5,337.9 L1280.3,337.9 L1281.1,337.9 L1282.0,337.9 L1282.8,338.0 L1283.7,338.0 L1284.5,338.0 L1285.4,338.0 L1286.2,338.0 L1287.0,338.0 L1287.9,338.0 L1288.7,338.0 L1289.6,338.0 L1290.4,338.1 L1291.2,338.1 L1292.1,338.1 L1292.9,338.1 L1293.8,338.1 L1294.6,338.1 L1295.4,338.1 L1296.3,338.1 L1297.1,338.1 L1298.0,338.2 L1298.8,338.2 L1299.7,338.2 L1300.5,338.2 L1301.3,338.2 L1302.2,338.2 L1303.0,338.2 L1303.9,338.2 L1304.7,338.2 L1305.5,338.3 L1306.4,338.3 L1307.2,338.3 L1308.1,338.3 L1308.9,338.3 L1309.8,338.3 L1310.6,338.3 L1311.4,338.3 L1312.3,338.3 L1313.1,338.3 L1314.0,338.4 L1314.8,338.4 L1315.6,338.4 L1316.5,338.4 L1317.3,338.4 L1318.2,338.4 L1319.0,338.4 L1319.8,338.4 L1320.7,338.4 L1321.5,338.4 L1322.4,338.5 L1323.2,338.5 L1324.1,338.5 L1324.9,338.5 L1325.7,338.5 L1326.6,338.5 L1327.4,338.5 L1328.3,338.5 L1329.1,338.5 L1329.9,338.5 L1330.8,338.6 L1331.6,338.6 L1332.5,338.6 L1333.3,338.6 L1334.1,338.6 L1335.0,338.6 L1335.8,338.6 L1336.7,338.6 L1337.5,338.6 L1338.4,338.6 L1339.2,338.6 L1340.0,338.7 L1340.9,338.7 L1341.7,338.7 L1342.6,338.7 L1343.4,338.7 L1344.2,338.7 L1345.1,338.7 L1345.9,338.7 L1346.8,338.7 L1347.6,338.7 L1348.4,338.7 L1349.3,338.7 L1350.1,338.8 L1351.0,338.8 L1351.8,338.8 L1352.7,338.8 L1353.5,338.8 L1354.3,338.8 L1355.2,338.8 L1356.0,338.8 L1356.9,338.8 L1357.7,338.8 L1358.5,338.8 L1359.4,338.8 L1360.2,338.9 L1361.1,338.9 L1361.9,338.9 L1362.7,338.9 L1363.6,338.9 L1364.4,338.9 L1365.3,338.9 L1366.1,338.9 L1367.0,338.9 L1367.8,338.9 L1368.6,338.9 L1369.5,338.9 L1370.3,338.9 L1371.2,339.0 L1372.0,339.0 L1372.8,339.0 L1373.7,339.0 L1374.5,339.0 L1375.4,339.0 L1376.2,339.0 L1377.0,339.0 L1377.9,339.0 L1378.7,339.0 L1379.6,339.0 L1380.4,339.0 L1381.3,339.0 L1382.1,339.0 L1382.9,339.1 L1383.8,339.1 L1384.6,339.1 L1385.5,339.1 L1386.3,339.1 L1387.1,339.1 L1388.0,339.1 L1388.8,339.1 L1389.7,339.1 L1390.5,339.1 L1391.4,339.1 L1392.2,339.1 L1393.0,339.1 L1393.9,339.1 L1394.7,339.2 L1395.6,339.2 L1396.4,339.2 L1397.2,339.2 L1398.1,339.2 L1398.9,339.2 L1399.8,339.2 L1400.6,339.2 L1401.4,339.2 L1402.3,339.2 L1403.1,339.2 L1404.0,339.2 L1404.8,339.2 L1405.7,339.2 L1406.5,339.2 L1407.3,339.2 L1408.2,339.3 L1409.0,339.3 L1409.9,339.3 L1410.7,339.3 L1411.5,339.3 L1412.4,339.3 L1413.2,339.3 L1414.1,339.3 L1414.9,339.3 L1415.7,339.3 L1416.6,339.3 L1417.4,339.3 L1418.3,339.3 L1419.1,339.3 L1420.0,339.3 L1420.8,339.3 L1421.6,339.4 L1422.5,339.4 L1423.3,339.4 L1424.2,339.4 L1425.0,339.4 L1425.8,339.4 L1426.7,339.4 L1427.5,339.4 L1428.4,339.4 L1429.2,339.4 L1430.0,339.4 L1430.9,339.4 L1431.7,339.4 L1432.6,339.4 L1433.4,339.4 L1434.3,339.4 L1435.1,339.4 L1435.9,339.4 L1436.8,339.5 L1437.6,339.5 L1438.5,339.5 L1439.3,339.5 L1440.1,339.5 L1441.0,339.5 L1441.8,339.5 L1442.7,339.5 L1443.5,339.5 L1444.3,339.5 L1445.2,339.5 L1446.0,339.5 L1446.9,339.5 L1447.7,339.5 L1448.6,339.5 L1449.4,339.5 L1450.2,339.5 L1451.1,339.5 L1451.9,339.5 L1452.8,339.6 L1453.6,339.6 L1454.4,339.6 L1455.3,339.6 L1456.1,339.6 L1457.0,339.6 L1457.8,339.6 L1458.7,339.6 L1459.5,339.6 L1460.3,339.6 L1460.3,339.6" fill="none" stroke="#d8d89a" stroke-width="3.2" stroke-linejoin="round" stroke-linecap="butt"/>
<path d="M1079.2,349.9 L1141.5,349.9 L1141.5,349.9 L1142.3,349.5 L1143.2,349.2 L1144.0,348.8 L1144.9,348.5 L1145.7,348.2 L1146.5,347.8 L1147.4,347.5 L1148.2,347.2 L1149.1,346.9 L1149.9,346.6 L1150.8,346.3 L1151.6,346.0 L1152.4,345.7 L1153.3,345.4 L1154.1,345.1 L1155.0,344.8 L1155.8,344.5 L1156.6,344.2 L1157.5,344.0 L1158.3,343.7 L1159.2,343.4 L1160.0,343.2 L1160.8,342.9 L1161.7,342.7 L1162.5,342.4 L1163.4,342.2 L1164.2,341.9 L1165.1,341.7 L1165.9,341.4 L1166.7,341.2 L1167.6,341.0 L1168.4,340.8 L1169.3,340.5 L1170.1,340.3 L1170.9,340.1 L1171.8,339.9 L1172.6,339.6 L1173.5,339.4 L1174.3,339.2 L1175.2,339.0 L1176.0,338.8 L1176.8,338.6 L1177.7,338.4 L1178.5,338.2 L1179.4,338.0 L1180.2,337.8 L1181.0,337.6 L1181.9,337.4 L1182.7,337.2 L1183.6,337.0 L1184.4,336.8 L1185.2,336.6 L1186.1,336.4 L1186.9,336.3 L1187.8,336.1 L1188.6,335.9 L1189.5,335.7 L1190.3,335.5 L1191.1,335.4 L1192.0,335.2 L1192.8,335.0 L1193.7,334.8 L1194.5,334.7 L1195.3,334.5 L1196.2,334.3 L1197.0,334.1 L1197.9,334.0 L1198.7,333.8 L1199.5,333.6 L1200.4,333.5 L1201.2,333.3 L1202.1,333.1 L1202.9,333.0 L1203.8,332.8 L1204.6,332.7 L1205.4,332.5 L1206.3,332.3 L1207.1,332.2 L1208.0,332.0 L1208.8,331.9 L1209.6,331.7 L1210.5,331.6 L1211.3,331.4 L1212.2,331.2 L1213.0,331.1 L1213.8,330.9 L1214.7,330.8 L1215.5,330.6 L1216.4,330.5 L1217.2,330.3 L1218.1,330.2 L1218.9,330.0 L1219.7,329.9 L1220.6,329.7 L1221.4,329.6 L1222.3,329.4 L1223.1,329.3 L1223.9,329.1 L1224.8,329.0 L1225.6,328.9 L1226.5,328.7 L1227.3,328.6 L1228.1,328.4 L1229.0,328.3 L1229.8,328.1 L1230.7,328.0 L1231.5,327.8 L1232.4,327.7 L1233.2,327.6 L1234.0,327.4 L1234.9,327.3 L1235.7,327.1 L1236.6,327.0 L1237.4,326.9 L1238.2,326.7 L1239.1,326.6 L1239.9,326.5 L1240.8,326.3 L1241.6,326.2 L1242.5,326.2 L1243.3,326.2 L1244.1,326.2 L1245.0,326.2 L1245.8,326.2 L1246.7,326.3 L1247.5,326.3 L1248.3,326.4 L1249.2,326.4 L1250.0,326.5 L1250.9,326.5 L1251.7,326.6 L1252.5,326.6 L1253.4,326.7 L1254.2,326.7 L1255.1,326.8 L1255.9,326.8 L1256.8,326.9 L1257.6,326.9 L1258.4,326.9 L1259.3,327.0 L1260.1,327.0 L1261.0,327.1 L1261.8,327.1 L1262.6,327.1 L1263.5,327.2 L1264.3,327.2 L1265.2,327.3 L1266.0,327.3 L1266.8,327.3 L1267.7,327.4 L1268.5,327.4 L1269.4,327.4 L1270.2,327.5 L1271.1,327.5 L1271.9,327.5 L1272.7,327.6 L1273.6,327.6 L1274.4,327.6 L1275.3,327.7 L1276.1,327.7 L1276.9,327.7 L1277.8,327.7 L1278.6,327.8 L1279.5,327.8 L1280.3,327.8 L1281.1,327.8 L1282.0,327.9 L1282.8,327.9 L1283.7,327.9 L1284.5,327.9 L1285.4,328.0 L1286.2,328.0 L1287.0,328.0 L1287.9,328.0 L1288.7,328.1 L1289.6,328.1 L1290.4,328.1 L1291.2,328.1 L1292.1,328.2 L1292.9,328.2 L1293.8,328.2 L1294.6,328.2 L1295.4,328.2 L1296.3,328.3 L1297.1,328.3 L1298.0,328.3 L1298.8,328.3 L1299.7,328.3 L1300.5,328.4 L1301.3,328.4 L1302.2,328.4 L1303.0,328.4 L1303.9,328.4 L1304.7,328.4 L1305.5,328.5 L1306.4,328.5 L1307.2,328.5 L1308.1,328.5 L1308.9,328.5 L1309.8,328.5 L1310.6,328.6 L1311.4,328.6 L1312.3,328.6 L1313.1,328.6 L1314.0,328.6 L1314.8,328.6 L1315.6,328.7 L1316.5,328.7 L1317.3,328.7 L1318.2,328.7 L1319.0,328.7 L1319.8,328.7 L1320.7,328.7 L1321.5,328.7 L1322.4,328.8 L1323.2,328.8 L1324.1,328.8 L1324.9,328.8 L1325.7,328.8 L1326.6,328.8 L1327.4,328.8 L1328.3,328.9 L1329.1,328.9 L1329.9,328.9 L1330.8,328.9 L1331.6,328.9 L1332.5,328.9 L1333.3,328.9 L1334.1,328.9 L1335.0,328.9 L1335.8,329.0 L1336.7,329.0 L1337.5,329.0 L1338.4,329.0 L1339.2,329.0 L1340.0,329.0 L1340.9,329.0 L1341.7,329.0 L1342.6,329.0 L1343.4,329.1 L1344.2,329.1 L1345.1,329.1 L1345.9,329.1 L1346.8,329.1 L1347.6,329.1 L1348.4,329.1 L1349.3,329.1 L1350.1,329.1 L1351.0,329.1 L1351.8,329.1 L1352.7,329.2 L1353.5,329.2 L1354.3,329.2 L1355.2,329.2 L1356.0,329.2 L1356.9,329.2 L1357.7,329.2 L1358.5,329.2 L1359.4,329.2 L1360.2,329.2 L1361.1,329.2 L1361.9,329.3 L1362.7,329.3 L1363.6,329.3 L1364.4,329.3 L1365.3,329.3 L1366.1,329.3 L1367.0,329.3 L1367.8,329.3 L1368.6,329.3 L1369.5,329.3 L1370.3,329.3 L1371.2,329.3 L1372.0,329.4 L1372.8,329.4 L1373.7,329.4 L1374.5,329.4 L1375.4,329.4 L1376.2,329.4 L1377.0,329.4 L1377.9,329.4 L1378.7,329.4 L1379.6,329.4 L1380.4,329.4 L1381.3,329.4 L1382.1,329.4 L1382.9,329.4 L1383.8,329.5 L1384.6,329.5 L1385.5,329.5 L1386.3,329.5 L1387.1,329.5 L1388.0,329.5 L1388.8,329.5 L1389.7,329.5 L1390.5,329.5 L1391.4,329.5 L1392.2,329.5 L1393.0,329.5 L1393.9,329.5 L1394.7,329.5 L1395.6,329.6 L1396.4,329.6 L1397.2,329.6 L1398.1,329.6 L1398.9,329.6 L1399.8,329.6 L1400.6,329.6 L1401.4,329.6 L1402.3,329.6 L1403.1,329.6 L1404.0,329.6 L1404.8,329.6 L1405.7,329.6 L1406.5,329.6 L1407.3,329.6 L1408.2,329.7 L1409.0,329.7 L1409.9,329.7 L1410.7,329.7 L1411.5,329.7 L1412.4,329.7 L1413.2,329.7 L1414.1,329.7 L1414.9,329.7 L1415.7,329.7 L1416.6,329.7 L1417.4,329.7 L1418.3,329.7 L1419.1,329.7 L1420.0,329.7 L1420.8,329.7 L1421.6,329.7 L1422.5,329.8 L1423.3,329.8 L1424.2,329.8 L1425.0,329.8 L1425.8,329.8 L1426.7,329.8 L1427.5,329.8 L1428.4,329.8 L1429.2,329.8 L1430.0,329.8 L1430.9,329.8 L1431.7,329.8 L1432.6,329.8 L1433.4,329.8 L1434.3,329.8 L1435.1,329.8 L1435.9,329.9 L1436.8,329.9 L1437.6,329.9 L1438.5,329.9 L1439.3,329.9 L1440.1,329.9 L1441.0,329.9 L1441.8,329.9 L1442.7,329.9 L1443.5,329.9 L1444.3,329.9 L1445.2,329.9 L1446.0,329.9 L1446.9,329.9 L1447.7,329.9 L1448.6,329.9 L1449.4,329.9 L1450.2,329.9 L1451.1,330.0 L1451.9,330.0 L1452.8,330.0 L1453.6,330.0 L1454.4,330.0 L1455.3,330.0 L1456.1,330.0 L1457.0,330.0 L1457.8,330.0 L1458.7,330.0 L1459.5,330.0 L1460.3,330.0 L1460.3,330.0" fill="none" stroke="#ffa3a3" stroke-width="3.2" stroke-linejoin="round" stroke-linecap="butt"/>
<path d="M1079.2,349.9 L1141.5,349.9 L1141.5,349.9 L1142.3,349.0 L1143.2,348.1 L1144.0,347.3 L1144.9,346.5 L1145.7,345.7 L1146.5,345.0 L1147.4,344.3 L1148.2,343.6 L1149.1,342.9 L1149.9,342.3 L1150.8,341.7 L1151.6,341.1 L1152.4,340.5 L1153.3,340.0 L1154.1,339.4 L1155.0,338.9 L1155.8,338.4 L1156.6,337.9 L1157.5,337.4 L1158.3,336.9 L1159.2,336.5 L1160.0,336.0 L1160.8,335.5 L1161.7,335.1 L1162.5,334.7 L1163.4,334.3 L1164.2,333.8 L1165.1,333.4 L1165.9,333.0 L1166.7,332.6 L1167.6,332.2 L1168.4,331.9 L1169.3,331.5 L1170.1,331.1 L1170.9,330.7 L1171.8,330.4 L1172.6,330.0 L1173.5,329.6 L1174.3,329.3 L1175.2,328.9 L1176.0,328.6 L1176.8,328.2 L1177.7,327.9 L1178.5,327.6 L1179.4,327.2 L1180.2,326.9 L1181.0,326.6 L1181.9,326.2 L1182.7,325.9 L1183.6,325.6 L1184.4,325.3 L1185.2,325.0 L1186.1,324.6 L1186.9,324.3 L1187.8,324.0 L1188.6,323.7 L1189.5,323.4 L1190.3,323.1 L1191.1,322.8 L1192.0,322.5 L1192.8,322.2 L1193.7,321.9 L1194.5,321.6 L1195.3,321.3 L1196.2,321.0 L1197.0,320.7 L1197.9,320.4 L1198.7,320.1 L1199.5,319.8 L1200.4,319.5 L1201.2,319.3 L1202.1,319.0 L1202.9,318.7 L1203.8,318.4 L1204.6,318.1 L1205.4,317.9 L1206.3,317.6 L1207.1,317.3 L1208.0,317.0 L1208.8,316.8 L1209.6,316.5 L1210.5,316.2 L1211.3,315.9 L1212.2,315.7 L1213.0,315.4 L1213.8,315.1 L1214.7,314.9 L1215.5,314.6 L1216.4,314.4 L1217.2,314.1 L1218.1,313.8 L1218.9,313.6 L1219.7,313.3 L1220.6,313.1 L1221.4,312.8 L1222.3,312.6 L1223.1,312.3 L1223.9,312.1 L1224.8,311.8 L1225.6,311.6 L1226.5,311.3 L1227.3,311.1 L1228.1,310.8 L1229.0,310.6 L1229.8,310.4 L1230.7,310.1 L1231.5,309.9 L1232.4,309.6 L1233.2,309.4 L1234.0,309.2 L1234.9,308.9 L1235.7,308.7 L1236.6,308.5 L1237.4,308.2 L1238.2,308.0 L1239.1,307.8 L1239.9,307.6 L1240.8,307.4 L1241.6,307.3 L1242.5,307.2 L1243.3,307.2 L1244.1,307.2 L1245.0,307.3 L1245.8,307.4 L1246.7,307.5 L1247.5,307.7 L1248.3,307.8 L1249.2,307.9 L1250.0,308.0 L1250.9,308.1 L1251.7,308.3 L1252.5,308.4 L1253.4,308.5 L1254.2,308.6 L1255.1,308.7 L1255.9,308.8 L1256.8,308.9 L1257.6,309.0 L1258.4,309.1 L1259.3,309.2 L1260.1,309.2 L1261.0,309.3 L1261.8,309.4 L1262.6,309.5 L1263.5,309.6 L1264.3,309.7 L1265.2,309.7 L1266.0,309.8 L1266.8,309.9 L1267.7,310.0 L1268.5,310.0 L1269.4,310.1 L1270.2,310.2 L1271.1,310.3 L1271.9,310.3 L1272.7,310.4 L1273.6,310.4 L1274.4,310.5 L1275.3,310.6 L1276.1,310.6 L1276.9,310.7 L1277.8,310.7 L1278.6,310.8 L1279.5,310.9 L1280.3,310.9 L1281.1,311.0 L1282.0,311.0 L1282.8,311.1 L1283.7,311.1 L1284.5,311.2 L1285.4,311.2 L1286.2,311.3 L1287.0,311.3 L1287.9,311.4 L1288.7,311.4 L1289.6,311.4 L1290.4,311.5 L1291.2,311.5 L1292.1,311.6 L1292.9,311.6 L1293.8,311.6 L1294.6,311.7 L1295.4,311.7 L1296.3,311.8 L1297.1,311.8 L1298.0,311.8 L1298.8,311.9 L1299.7,311.9 L1300.5,311.9 L1301.3,312.0 L1302.2,312.0 L1303.0,312.0 L1303.9,312.1 L1304.7,312.1 L1305.5,312.1 L1306.4,312.2 L1307.2,312.2 L1308.1,312.2 L1308.9,312.3 L1309.8,312.3 L1310.6,312.3 L1311.4,312.3 L1312.3,312.4 L1313.1,312.4 L1314.0,312.4 L1314.8,312.5 L1315.6,312.5 L1316.5,312.5 L1317.3,312.5 L1318.2,312.6 L1319.0,312.6 L1319.8,312.6 L1320.7,312.6 L1321.5,312.7 L1322.4,312.7 L1323.2,312.7 L1324.1,312.7 L1324.9,312.7 L1325.7,312.8 L1326.6,312.8 L1327.4,312.8 L1328.3,312.8 L1329.1,312.9 L1329.9,312.9 L1330.8,312.9 L1331.6,312.9 L1332.5,312.9 L1333.3,313.0 L1334.1,313.0 L1335.0,313.0 L1335.8,313.0 L1336.7,313.0 L1337.5,313.1 L1338.4,313.1 L1339.2,313.1 L1340.0,313.1 L1340.9,313.1 L1341.7,313.1 L1342.6,313.2 L1343.4,313.2 L1344.2,313.2 L1345.1,313.2 L1345.9,313.2 L1346.8,313.3 L1347.6,313.3 L1348.4,313.3 L1349.3,313.3 L1350.1,313.3 L1351.0,313.3 L1351.8,313.4 L1352.7,313.4 L1353.5,313.4 L1354.3,313.4 L1355.2,313.4 L1356.0,313.4 L1356.9,313.4 L1357.7,313.5 L1358.5,313.5 L1359.4,313.5 L1360.2,313.5 L1361.1,313.5 L1361.9,313.5 L1362.7,313.6 L1363.6,313.6 L1364.4,313.6 L1365.3,313.6 L1366.1,313.6 L1367.0,313.6 L1367.8,313.6 L1368.6,313.7 L1369.5,313.7 L1370.3,313.7 L1371.2,313.7 L1372.0,313.7 L1372.8,313.7 L1373.7,313.7 L1374.5,313.8 L1375.4,313.8 L1376.2,313.8 L1377.0,313.8 L1377.9,313.8 L1378.7,313.8 L1379.6,313.8 L1380.4,313.9 L1381.3,313.9 L1382.1,313.9 L1382.9,313.9 L1383.8,313.9 L1384.6,313.9 L1385.5,313.9 L1386.3,313.9 L1387.1,314.0 L1388.0,314.0 L1388.8,314.0 L1389.7,314.0 L1390.5,314.0 L1391.4,314.0 L1392.2,314.0 L1393.0,314.1 L1393.9,314.1 L1394.7,314.1 L1395.6,314.1 L1396.4,314.1 L1397.2,314.1 L1398.1,314.1 L1398.9,314.1 L1399.8,314.2 L1400.6,314.2 L1401.4,314.2 L1402.3,314.2 L1403.1,314.2 L1404.0,314.2 L1404.8,314.2 L1405.7,314.2 L1406.5,314.3 L1407.3,314.3 L1408.2,314.3 L1409.0,314.3 L1409.9,314.3 L1410.7,314.3 L1411.5,314.3 L1412.4,314.3 L1413.2,314.3 L1414.1,314.4 L1414.9,314.4 L1415.7,314.4 L1416.6,314.4 L1417.4,314.4 L1418.3,314.4 L1419.1,314.4 L1420.0,314.4 L1420.8,314.5 L1421.6,314.5 L1422.5,314.5 L1423.3,314.5 L1424.2,314.5 L1425.0,314.5 L1425.8,314.5 L1426.7,314.5 L1427.5,314.6 L1428.4,314.6 L1429.2,314.6 L1430.0,314.6 L1430.9,314.6 L1431.7,314.6 L1432.6,314.6 L1433.4,314.6 L1434.3,314.6 L1435.1,314.7 L1435.9,314.7 L1436.8,314.7 L1437.6,314.7 L1438.5,314.7 L1439.3,314.7 L1440.1,314.7 L1441.0,314.7 L1441.8,314.8 L1442.7,314.8 L1443.5,314.8 L1444.3,314.8 L1445.2,314.8 L1446.0,314.8 L1446.9,314.8 L1447.7,314.8 L1448.6,314.8 L1449.4,314.9 L1450.2,314.9 L1451.1,314.9 L1451.9,314.9 L1452.8,314.9 L1453.6,314.9 L1454.4,314.9 L1455.3,314.9 L1456.1,314.9 L1457.0,315.0 L1457.8,315.0 L1458.7,315.0 L1459.5,315.0 L1460.3,315.0 L1460.3,315.0" fill="none" stroke="#d8aaaa" stroke-width="3.2" stroke-linejoin="round" stroke-linecap="butt"/>
<path d="M1079.2,349.9 L1141.5,349.9 L1141.5,349.9 L1142.3,348.6 L1143.2,347.4 L1144.0,346.2 L1144.9,345.0 L1145.7,343.9 L1146.5,342.8 L1147.4,341.6 L1148.2,340.6 L1149.1,339.5 L1149.9,338.5 L1150.8,337.4 L1151.6,336.4 L1152.4,335.4 L1153.3,334.4 L1154.1,333.5 L1155.0,332.5 L1155.8,331.6 L1156.6,330.7 L1157.5,329.8 L1158.3,328.9 L1159.2,328.0 L1160.0,327.1 L1160.8,326.3 L1161.7,325.4 L1162.5,324.6 L1163.4,323.8 L1164.2,323.0 L1165.1,322.2 L1165.9,321.4 L1166.7,320.6 L1167.6,319.8 L1168.4,319.1 L1169.3,318.3 L1170.1,317.6 L1170.9,316.9 L1171.8,316.2 L1172.6,315.4 L1173.5,314.7 L1174.3,314.1 L1175.2,313.4 L1176.0,312.7 L1176.8,312.0 L1177.7,311.4 L1178.5,310.7 L1179.4,310.1 L1180.2,309.4 L1181.0,308.8 L1181.9,308.2 L1182.7,307.6 L1183.6,307.0 L1184.4,306.4 L1185.2,305.8 L1186.1,305.2 L1186.9,304.6 L1187.8,304.0 L1188.6,303.5 L1189.5,302.9 L1190.3,302.4 L1191.1,301.8 L1192.0,301.3 L1192.8,300.7 L1193.7,300.2 L1194.5,299.7 L1195.3,299.2 L1196.2,298.6 L1197.0,298.1 L1197.9,297.6 L1198.7,297.1 L1199.5,296.6 L1200.4,296.1 L1201.2,295.7 L1202.1,295.2 L1202.9,294.7 L1203.8,294.2 L1204.6,293.8 L1205.4,293.3 L1206.3,292.9 L1207.1,292.4 L1208.0,292.0 L1208.8,291.5 L1209.6,291.1 L1210.5,290.7 L1211.3,290.3 L1212.2,289.8 L1213.0,289.4 L1213.8,289.0 L1214.7,288.6 L1215.5,288.2 L1216.4,287.8 L1217.2,287.4 L1218.1,287.0 L1218.9,286.6 L1219.7,286.2 L1220.6,285.9 L1221.4,285.5 L1222.3,285.1 L1223.1,284.7 L1223.9,284.4 L1224.8,284.0 L1225.6,283.7 L1226.5,283.3 L1227.3,283.0 L1228.1,282.6 L1229.0,282.3 L1229.8,281.9 L1230.7,281.6 L1231.5,281.3 L1232.4,280.9 L1233.2,280.6 L1234.0,280.3 L1234.9,280.0 L1235.7,279.7 L1236.6,279.3 L1237.4,279.0 L1238.2,278.7 L1239.1,278.4 L1239.9,278.2 L1240.8,277.9 L1241.6,277.8 L1242.5,277.7 L1243.3,277.7 L1244.1,277.9 L1245.0,278.0 L1245.8,278.2 L1246.7,278.5 L1247.5,278.7 L1248.3,278.9 L1249.2,279.1 L1250.0,279.3 L1250.9,279.5 L1251.7,279.8 L1252.5,280.0 L1253.4,280.2 L1254.2,280.3 L1255.1,280.5 L1255.9,280.7 L1256.8,280.9 L1257.6,281.1 L1258.4,281.3 L1259.3,281.4 L1260.1,281.6 L1261.0,281.8 L1261.8,281.9 L1262.6,282.1 L1263.5,282.2 L1264.3,282.4 L1265.2,282.5 L1266.0,282.7 L1266.8,282.8 L1267.7,282.9 L1268.5,283.1 L1269.4,283.2 L1270.2,283.3 L1271.1,283.5 L1271.9,283.6 L1272.7,283.7 L1273.6,283.8 L1274.4,284.0 L1275.3,284.1 L1276.1,284.2 L1276.9,284.3 L1277.8,284.4 L1278.6,284.5 L1279.5,284.6 L1280.3,284.7 L1281.1,284.8 L1282.0,284.9 L1282.8,285.0 L1283.7,285.1 L1284.5,285.2 L1285.4,285.3 L1286.2,285.4 L1287.0,285.5 L1287.9,285.6 L1288.7,285.7 L1289.6,285.7 L1290.4,285.8 L1291.2,285.9 L1292.1,286.0 L1292.9,286.1 L1293.8,286.1 L1294.6,286.2 L1295.4,286.3 L1296.3,286.4 L1297.1,286.4 L1298.0,286.5 L1298.8,286.6 L1299.7,286.7 L1300.5,286.7 L1301.3,286.8 L1302.2,286.9 L1303.0,286.9 L1303.9,287.0 L1304.7,287.0 L1305.5,287.1 L1306.4,287.2 L1307.2,287.2 L1308.1,287.3 L1308.9,287.3 L1309.8,287.4 L1310.6,287.5 L1311.4,287.5 L1312.3,287.6 L1313.1,287.6 L1314.0,287.7 L1314.8,287.7 L1315.6,287.8 L1316.5,287.8 L1317.3,287.9 L1318.2,287.9 L1319.0,288.0 L1319.8,288.0 L1320.7,288.1 L1321.5,288.1 L1322.4,288.2 L1323.2,288.2 L1324.1,288.2 L1324.9,288.3 L1325.7,288.3 L1326.6,288.4 L1327.4,288.4 L1328.3,288.5 L1329.1,288.5 L1329.9,288.5 L1330.8,288.6 L1331.6,288.6 L1332.5,288.7 L1333.3,288.7 L1334.1,288.7 L1335.0,288.8 L1335.8,288.8 L1336.7,288.9 L1337.5,288.9 L1338.4,288.9 L1339.2,289.0 L1340.0,289.0 L1340.9,289.0 L1341.7,289.1 L1342.6,289.1 L1343.4,289.1 L1344.2,289.2 L1345.1,289.2 L1345.9,289.2 L1346.8,289.3 L1347.6,289.3 L1348.4,289.3 L1349.3,289.4 L1350.1,289.4 L1351.0,289.4 L1351.8,289.5 L1352.7,289.5 L1353.5,289.5 L1354.3,289.6 L1355.2,289.6 L1356.0,289.6 L1356.9,289.6 L1357.7,289.7 L1358.5,289.7 L1359.4,289.7 L1360.2,289.8 L1361.1,289.8 L1361.9,289.8 L1362.7,289.9 L1363.6,289.9 L1364.4,289.9 L1365.3,289.9 L1366.1,290.0 L1367.0,290.0 L1367.8,290.0 L1368.6,290.0 L1369.5,290.1 L1370.3,290.1 L1371.2,290.1 L1372.0,290.2 L1372.8,290.2 L1373.7,290.2 L1374.5,290.2 L1375.4,290.3 L1376.2,290.3 L1377.0,290.3 L1377.9,290.3 L1378.7,290.4 L1379.6,290.4 L1380.4,290.4 L1381.3,290.4 L1382.1,290.5 L1382.9,290.5 L1383.8,290.5 L1384.6,290.5 L1385.5,290.6 L1386.3,290.6 L1387.1,290.6 L1388.0,290.6 L1388.8,290.7 L1389.7,290.7 L1390.5,290.7 L1391.4,290.7 L1392.2,290.8 L1393.0,290.8 L1393.9,290.8 L1394.7,290.8 L1395.6,290.8 L1396.4,290.9 L1397.2,290.9 L1398.1,290.9 L1398.9,290.9 L1399.8,291.0 L1400.6,291.0 L1401.4,291.0 L1402.3,291.0 L1403.1,291.1 L1404.0,291.1 L1404.8,291.1 L1405.7,291.1 L1406.5,291.1 L1407.3,291.2 L1408.2,291.2 L1409.0,291.2 L1409.9,291.2 L1410.7,291.3 L1411.5,291.3 L1412.4,291.3 L1413.2,291.3 L1414.1,291.3 L1414.9,291.4 L1415.7,291.4 L1416.6,291.4 L1417.4,291.4 L1418.3,291.4 L1419.1,291.5 L1420.0,291.5 L1420.8,291.5 L1421.6,291.5 L1422.5,291.6 L1423.3,291.6 L1424.2,291.6 L1425.0,291.6 L1425.8,291.6 L1426.7,291.7 L1427.5,291.7 L1428.4,291.7 L1429.2,291.7 L1430.0,291.7 L1430.9,291.8 L1431.7,291.8 L1432.6,291.8 L1433.4,291.8 L1434.3,291.9 L1435.1,291.9 L1435.9,291.9 L1436.8,291.9 L1437.6,291.9 L1438.5,292.0 L1439.3,292.0 L1440.1,292.0 L1441.0,292.0 L1441.8,292.0 L1442.7,292.1 L1443.5,292.1 L1444.3,292.1 L1445.2,292.1 L1446.0,292.1 L1446.9,292.2 L1447.7,292.2 L1448.6,292.2 L1449.4,292.2 L1450.2,292.2 L1451.1,292.3 L1451.9,292.3 L1452.8,292.3 L1453.6,292.3 L1454.4,292.3 L1455.3,292.4 L1456.1,292.4 L1457.0,292.4 L1457.8,292.4 L1458.7,292.4 L1459.5,292.5 L1460.3,292.5 L1460.3,292.5" fill="none" stroke="#ff4545" stroke-width="3.2" stroke-linejoin="round" stroke-linecap="butt"/>
<path d="M1079.2,349.9 L1141.5,349.9 L1141.5,349.9 L1142.3,346.3 L1143.2,342.7 L1144.0,339.2 L1144.9,335.8 L1145.7,332.4 L1146.5,329.1 L1147.4,326.0 L1148.2,322.9 L1149.1,319.8 L1149.9,316.8 L1150.8,313.9 L1151.6,311.1 L1152.4,308.3 L1153.3,305.5 L1154.1,302.8 L1155.0,300.2 L1155.8,297.6 L1156.6,295.1 L1157.5,292.6 L1158.3,290.2 L1159.2,287.8 L1160.0,285.5 L1160.8,283.2 L1161.7,281.0 L1162.5,278.8 L1163.4,276.7 L1164.2,274.6 L1165.1,272.6 L1165.9,270.6 L1166.7,268.7 L1167.6,266.8 L1168.4,264.9 L1169.3,263.1 L1170.1,261.3 L1170.9,259.5 L1171.8,257.8 L1172.6,256.1 L1173.5,254.5 L1174.3,252.9 L1175.2,251.3 L1176.0,249.8 L1176.8,248.3 L1177.7,246.8 L1178.5,245.4 L1179.4,244.0 L1180.2,242.6 L1181.0,241.2 L1181.9,239.9 L1182.7,238.6 L1183.6,237.4 L1184.4,236.1 L1185.2,234.9 L1186.1,233.7 L1186.9,232.6 L1187.8,231.4 L1188.6,230.3 L1189.5,229.2 L1190.3,228.2 L1191.1,227.1 L1192.0,226.1 L1192.8,225.1 L1193.7,224.1 L1194.5,223.2 L1195.3,222.2 L1196.2,221.3 L1197.0,220.4 L1197.9,219.5 L1198.7,218.7 L1199.5,217.8 L1200.4,217.0 L1201.2,216.2 L1202.1,215.4 L1202.9,214.6 L1203.8,213.9 L1204.6,213.1 L1205.4,212.4 L1206.3,211.7 L1207.1,211.0 L1208.0,210.3 L1208.8,209.6 L1209.6,209.0 L1210.5,208.4 L1211.3,207.7 L1212.2,207.1 L1213.0,206.5 L1213.8,205.9 L1214.7,205.4 L1215.5,204.8 L1216.4,204.2 L1217.2,203.7 L1218.1,203.2 L1218.9,202.7 L1219.7,202.1 L1220.6,201.6 L1221.4,201.2 L1222.3,200.7 L1223.1,200.2 L1223.9,199.8 L1224.8,199.3 L1225.6,198.9 L1226.5,198.4 L1227.3,198.0 L1228.1,197.6 L1229.0,197.2 L1229.8,196.8 L1230.7,196.4 L1231.5,196.0 L1232.4,195.7 L1233.2,195.3 L1234.0,195.0 L1234.9,194.6 L1235.7,194.3 L1236.6,193.9 L1237.4,193.6 L1238.2,193.3 L1239.1,193.0 L1239.9,192.8 L1240.8,192.6 L1241.6,192.6 L1242.5,192.7 L1243.3,193.1 L1244.1,193.6 L1245.0,194.3 L1245.8,195.0 L1246.7,195.7 L1247.5,196.5 L1248.3,197.2 L1249.2,197.9 L1250.0,198.6 L1250.9,199.3 L1251.7,199.9 L1252.5,200.5 L1253.4,201.2 L1254.2,201.8 L1255.1,202.4 L1255.9,202.9 L1256.8,203.5 L1257.6,204.1 L1258.4,204.6 L1259.3,205.1 L1260.1,205.6 L1261.0,206.1 L1261.8,206.6 L1262.6,207.1 L1263.5,207.5 L1264.3,208.0 L1265.2,208.4 L1266.0,208.9 L1266.8,209.3 L1267.7,209.7 L1268.5,210.1 L1269.4,210.5 L1270.2,210.9 L1271.1,211.2 L1271.9,211.6 L1272.7,212.0 L1273.6,212.3 L1274.4,212.7 L1275.3,213.0 L1276.1,213.3 L1276.9,213.6 L1277.8,213.9 L1278.6,214.3 L1279.5,214.6 L1280.3,214.8 L1281.1,215.1 L1282.0,215.4 L1282.8,215.7 L1283.7,216.0 L1284.5,216.2 L1285.4,216.5 L1286.2,216.7 L1287.0,217.0 L1287.9,217.2 L1288.7,217.5 L1289.6,217.7 L1290.4,217.9 L1291.2,218.1 L1292.1,218.4 L1292.9,218.6 L1293.8,218.8 L1294.6,219.0 L1295.4,219.2 L1296.3,219.4 L1297.1,219.6 L1298.0,219.8 L1298.8,220.0 L1299.7,220.2 L1300.5,220.4 L1301.3,220.5 L1302.2,220.7 L1303.0,220.9 L1303.9,221.1 L1304.7,221.2 L1305.5,221.4 L1306.4,221.6 L1307.2,221.7 L1308.1,221.9 L1308.9,222.0 L1309.8,222.2 L1310.6,222.4 L1311.4,222.5 L1312.3,222.7 L1313.1,222.8 L1314.0,222.9 L1314.8,223.1 L1315.6,223.2 L1316.5,223.4 L1317.3,223.5 L1318.2,223.6 L1319.0,223.8 L1319.8,223.9 L1320.7,224.0 L1321.5,224.1 L1322.4,224.3 L1323.2,224.4 L1324.1,224.5 L1324.9,224.6 L1325.7,224.8 L1326.6,224.9 L1327.4,225.0 L1328.3,225.1 L1329.1,225.2 L1329.9,225.3 L1330.8,225.5 L1331.6,225.6 L1332.5,225.7 L1333.3,225.8 L1334.1,225.9 L1335.0,226.0 L1335.8,226.1 L1336.7,226.2 L1337.5,226.3 L1338.4,226.4 L1339.2,226.5 L1340.0,226.6 L1340.9,226.7 L1341.7,226.8 L1342.6,226.9 L1343.4,227.0 L1344.2,227.1 L1345.1,227.2 L1345.9,227.3 L1346.8,227.4 L1347.6,227.5 L1348.4,227.6 L1349.3,227.7 L1350.1,227.8 L1351.0,227.9 L1351.8,228.0 L1352.7,228.1 L1353.5,228.2 L1354.3,228.2 L1355.2,228.3 L1356.0,228.4 L1356.9,228.5 L1357.7,228.6 L1358.5,228.7 L1359.4,228.8 L1360.2,228.9 L1361.1,229.0 L1361.9,229.0 L1362.7,229.1 L1363.6,229.2 L1364.4,229.3 L1365.3,229.4 L1366.1,229.5 L1367.0,229.5 L1367.8,229.6 L1368.6,229.7 L1369.5,229.8 L1370.3,229.9 L1371.2,230.0 L1372.0,230.0 L1372.8,230.1 L1373.7,230.2 L1374.5,230.3 L1375.4,230.4 L1376.2,230.4 L1377.0,230.5 L1377.9,230.6 L1378.7,230.7 L1379.6,230.8 L1380.4,230.8 L1381.3,230.9 L1382.1,231.0 L1382.9,231.1 L1383.8,231.2 L1384.6,231.2 L1385.5,231.3 L1386.3,231.4 L1387.1,231.5 L1388.0,231.5 L1388.8,231.6 L1389.7,231.7 L1390.5,231.8 L1391.4,231.8 L1392.2,231.9 L1393.0,232.0 L1393.9,232.1 L1394.7,232.1 L1395.6,232.2 L1396.4,232.3 L1397.2,232.4 L1398.1,232.4 L1398.9,232.5 L1399.8,232.6 L1400.6,232.7 L1401.4,232.7 L1402.3,232.8 L1403.1,232.9 L1404.0,233.0 L1404.8,233.0 L1405.7,233.1 L1406.5,233.2 L1407.3,233.3 L1408.2,233.3 L1409.0,233.4 L1409.9,233.5 L1410.7,233.5 L1411.5,233.6 L1412.4,233.7 L1413.2,233.8 L1414.1,233.8 L1414.9,233.9 L1415.7,234.0 L1416.6,234.1 L1417.4,234.1 L1418.3,234.2 L1419.1,234.3 L1420.0,234.3 L1420.8,234.4 L1421.6,234.5 L1422.5,234.6 L1423.3,234.6 L1424.2,234.7 L1425.0,234.8 L1425.8,234.8 L1426.7,234.9 L1427.5,235.0 L1428.4,235.1 L1429.2,235.1 L1430.0,235.2 L1430.9,235.3 L1431.7,235.3 L1432.6,235.4 L1433.4,235.5 L1434.3,235.5 L1435.1,235.6 L1435.9,235.7 L1436.8,235.8 L1437.6,235.8 L1438.5,235.9 L1439.3,236.0 L1440.1,236.0 L1441.0,236.1 L1441.8,236.2 L1442.7,236.2 L1443.5,236.3 L1444.3,236.4 L1445.2,236.5 L1446.0,236.5 L1446.9,236.6 L1447.7,236.7 L1448.6,236.7 L1449.4,236.8 L1450.2,236.9 L1451.1,236.9 L1451.9,237.0 L1452.8,237.1 L1453.6,237.1 L1454.4,237.2 L1455.3,237.3 L1456.1,237.3 L1457.0,237.4 L1457.8,237.5 L1458.7,237.5 L1459.5,237.6 L1460.3,237.6 L1460.3,237.6" fill="none" stroke="#a50000" stroke-width="3.2" stroke-linejoin="round" stroke-linecap="butt"/>
<path d="M1079.2,349.9 L1141.5,349.9 L1141.5,349.9 L1142.3,343.6 L1143.2,337.5 L1144.0,331.6 L1144.9,325.9 L1145.7,320.4 L1146.5,315.1 L1147.4,309.9 L1148.2,305.0 L1149.1,300.1 L1149.9,295.5 L1150.8,290.9 L1151.6,286.6 L1152.4,282.3 L1153.3,278.2 L1154.1,274.2 L1155.0,270.3 L1155.8,266.5 L1156.6,262.9 L1157.5,259.4 L1158.3,255.9 L1159.2,252.6 L1160.0,249.4 L1160.8,246.3 L1161.7,243.3 L1162.5,240.4 L1163.4,237.6 L1164.2,234.8 L1165.1,232.2 L1165.9,229.6 L1166.7,227.1 L1167.6,224.7 L1168.4,222.4 L1169.3,220.1 L1170.1,217.9 L1170.9,215.7 L1171.8,213.7 L1172.6,211.7 L1173.5,209.7 L1174.3,207.8 L1175.2,206.0 L1176.0,204.2 L1176.8,202.5 L1177.7,200.8 L1178.5,199.2 L1179.4,197.6 L1180.2,196.1 L1181.0,194.6 L1181.9,193.1 L1182.7,191.7 L1183.6,190.4 L1184.4,189.0 L1185.2,187.7 L1186.1,186.5 L1186.9,185.3 L1187.8,184.1 L1188.6,182.9 L1189.5,181.8 L1190.3,180.7 L1191.1,179.7 L1192.0,178.7 L1192.8,177.7 L1193.7,176.7 L1194.5,175.7 L1195.3,174.8 L1196.2,173.9 L1197.0,173.1 L1197.9,172.2 L1198.7,171.4 L1199.5,170.6 L1200.4,169.8 L1201.2,169.0 L1202.1,168.3 L1202.9,167.6 L1203.8,166.8 L1204.6,166.1 L1205.4,165.5 L1206.3,164.8 L1207.1,164.2 L1208.0,163.5 L1208.8,162.9 L1209.6,162.3 L1210.5,161.7 L1211.3,161.2 L1212.2,160.6 L1213.0,160.1 L1213.8,159.5 L1214.7,159.0 L1215.5,158.5 L1216.4,158.0 L1217.2,157.5 L1218.1,157.0 L1218.9,156.6 L1219.7,156.1 L1220.6,155.6 L1221.4,155.2 L1222.3,154.8 L1223.1,154.3 L1223.9,153.9 L1224.8,153.5 L1225.6,153.1 L1226.5,152.7 L1227.3,152.3 L1228.1,152.0 L1229.0,151.6 L1229.8,151.2 L1230.7,150.9 L1231.5,150.5 L1232.4,150.1 L1233.2,149.8 L1234.0,149.5 L1234.9,149.1 L1235.7,148.8 L1236.6,148.5 L1237.4,148.2 L1238.2,147.8 L1239.1,147.5 L1239.9,147.3 L1240.8,147.0 L1241.6,147.0 L1242.5,147.3 L1243.3,148.0 L1244.1,148.9 L1245.0,150.0 L1245.8,151.1 L1246.7,152.3 L1247.5,153.4 L1248.3,154.5 L1249.2,155.5 L1250.0,156.6 L1250.9,157.6 L1251.7,158.6 L1252.5,159.6 L1253.4,160.5 L1254.2,161.4 L1255.1,162.3 L1255.9,163.2 L1256.8,164.1 L1257.6,164.9 L1258.4,165.7 L1259.3,166.5 L1260.1,167.3 L1261.0,168.1 L1261.8,168.8 L1262.6,169.6 L1263.5,170.3 L1264.3,171.0 L1265.2,171.7 L1266.0,172.4 L1266.8,173.0 L1267.7,173.7 L1268.5,174.3 L1269.4,174.9 L1270.2,175.5 L1271.1,176.1 L1271.9,176.7 L1272.7,177.2 L1273.6,177.8 L1274.4,178.3 L1275.3,178.9 L1276.1,179.4 L1276.9,179.9 L1277.8,180.4 L1278.6,180.9 L1279.5,181.3 L1280.3,181.8 L1281.1,182.3 L1282.0,182.7 L1282.8,183.1 L1283.7,183.6 L1284.5,184.0 L1285.4,184.4 L1286.2,184.8 L1287.0,185.2 L1287.9,185.6 L1288.7,186.0 L1289.6,186.4 L1290.4,186.7 L1291.2,187.1 L1292.1,187.4 L1292.9,187.8 L1293.8,188.1 L1294.6,188.5 L1295.4,188.8 L1296.3,189.1 L1297.1,189.4 L1298.0,189.7 L1298.8,190.0 L1299.7,190.3 L1300.5,190.6 L1301.3,190.9 L1302.2,191.2 L1303.0,191.5 L1303.9,191.8 L1304.7,192.0 L1305.5,192.3 L1306.4,192.6 L1307.2,192.8 L1308.1,193.1 L1308.9,193.3 L1309.8,193.6 L1310.6,193.8 L1311.4,194.0 L1312.3,194.3 L1313.1,194.5 L1314.0,194.7 L1314.8,195.0 L1315.6,195.2 L1316.5,195.4 L1317.3,195.6 L1318.2,195.8 L1319.0,196.0 L1319.8,196.2 L1320.7,196.4 L1321.5,196.6 L1322.4,196.8 L1323.2,197.0 L1324.1,197.2 L1324.9,197.4 L1325.7,197.6 L1326.6,197.8 L1327.4,197.9 L1328.3,198.1 L1329.1,198.3 L1329.9,198.5 L1330.8,198.6 L1331.6,198.8 L1332.5,199.0 L1333.3,199.2 L1334.1,199.3 L1335.0,199.5 L1335.8,199.6 L1336.7,199.8 L1337.5,200.0 L1338.4,200.1 L1339.2,200.3 L1340.0,200.4 L1340.9,200.6 L1341.7,200.7 L1342.6,200.9 L1343.4,201.0 L1344.2,201.2 L1345.1,201.3 L1345.9,201.4 L1346.8,201.6 L1347.6,201.7 L1348.4,201.9 L1349.3,202.0 L1350.1,202.1 L1351.0,202.3 L1351.8,202.4 L1352.7,202.5 L1353.5,202.7 L1354.3,202.8 L1355.2,202.9 L1356.0,203.1 L1356.9,203.2 L1357.7,203.3 L1358.5,203.4 L1359.4,203.6 L1360.2,203.7 L1361.1,203.8 L1361.9,203.9 L1362.7,204.1 L1363.6,204.2 L1364.4,204.3 L1365.3,204.4 L1366.1,204.5 L1367.0,204.7 L1367.8,204.8 L1368.6,204.9 L1369.5,205.0 L1370.3,205.1 L1371.2,205.2 L1372.0,205.4 L1372.8,205.5 L1373.7,205.6 L1374.5,205.7 L1375.4,205.8 L1376.2,205.9 L1377.0,206.0 L1377.9,206.1 L1378.7,206.2 L1379.6,206.4 L1380.4,206.5 L1381.3,206.6 L1382.1,206.7 L1382.9,206.8 L1383.8,206.9 L1384.6,207.0 L1385.5,207.1 L1386.3,207.2 L1387.1,207.3 L1388.0,207.4 L1388.8,207.5 L1389.7,207.6 L1390.5,207.7 L1391.4,207.8 L1392.2,207.9 L1393.0,208.0 L1393.9,208.1 L1394.7,208.2 L1395.6,208.3 L1396.4,208.4 L1397.2,208.5 L1398.1,208.6 L1398.9,208.7 L1399.8,208.8 L1400.6,208.9 L1401.4,209.0 L1402.3,209.1 L1403.1,209.2 L1404.0,209.3 L1404.8,209.4 L1405.7,209.5 L1406.5,209.6 L1407.3,209.7 L1408.2,209.8 L1409.0,209.9 L1409.9,210.0 L1410.7,210.1 L1411.5,210.2 L1412.4,210.3 L1413.2,210.4 L1414.1,210.5 L1414.9,210.6 L1415.7,210.7 L1416.6,210.8 L1417.4,210.9 L1418.3,211.0 L1419.1,211.1 L1420.0,211.2 L1420.8,211.2 L1421.6,211.3 L1422.5,211.4 L1423.3,211.5 L1424.2,211.6 L1425.0,211.7 L1425.8,211.8 L1426.7,211.9 L1427.5,212.0 L1428.4,212.1 L1429.2,212.2 L1430.0,212.3 L1430.9,212.4 L1431.7,212.4 L1432.6,212.5 L1433.4,212.6 L1434.3,212.7 L1435.1,212.8 L1435.9,212.9 L1436.8,213.0 L1437.6,213.1 L1438.5,213.2 L1439.3,213.3 L1440.1,213.4 L1441.0,213.4 L1441.8,213.5 L1442.7,213.6 L1443.5,213.7 L1444.3,213.8 L1445.2,213.9 L1446.0,214.0 L1446.9,214.1 L1447.7,214.2 L1448.6,214.3 L1449.4,214.3 L1450.2,214.4 L1451.1,214.5 L1451.9,214.6 L1452.8,214.7 L1453.6,214.8 L1454.4,214.9 L1455.3,215.0 L1456.1,215.0 L1457.0,215.1 L1457.8,215.2 L1458.7,215.3 L1459.5,215.4 L1460.3,215.4 L1460.3,215.4" fill="none" stroke="#650065" stroke-width="3.2" stroke-linejoin="round" stroke-linecap="butt"/>
<path d="M1079.2,349.9 L1141.5,349.9 L1141.5,349.9 L1142.3,347.9 L1143.2,345.9 L1144.0,344.0 L1144.9,342.1 L1145.7,340.2 L1146.5,338.4 L1147.4,336.5 L1148.2,334.8 L1149.1,333.0 L1149.9,331.3 L1150.8,329.5 L1151.6,327.9 L1152.4,326.2 L1153.3,324.5 L1154.1,322.9 L1155.0,321.3 L1155.8,319.7 L1156.6,318.2 L1157.5,316.6 L1158.3,315.1 L1159.2,313.6 L1160.0,312.2 L1160.8,310.7 L1161.7,309.3 L1162.5,307.9 L1163.4,306.5 L1164.2,305.1 L1165.1,303.8 L1165.9,302.5 L1166.7,301.2 L1167.6,299.9 L1168.4,298.6 L1169.3,297.4 L1170.1,296.1 L1170.9,294.9 L1171.8,293.7 L1172.6,292.5 L1173.5,291.4 L1174.3,290.2 L1175.2,289.1 L1176.0,288.0 L1176.8,286.9 L1177.7,285.8 L1178.5,284.8 L1179.4,283.7 L1180.2,282.7 L1181.0,281.7 L1181.9,280.7 L1182.7,279.7 L1183.6,278.7 L1184.4,277.7 L1185.2,276.8 L1186.1,275.9 L1186.9,274.9 L1187.8,274.0 L1188.6,273.1 L1189.5,272.3 L1190.3,271.4 L1191.1,270.5 L1192.0,269.7 L1192.8,268.9 L1193.7,268.0 L1194.5,267.2 L1195.3,266.4 L1196.2,265.7 L1197.0,264.9 L1197.9,264.1 L1198.7,263.4 L1199.5,262.6 L1200.4,261.9 L1201.2,261.2 L1202.1,260.5 L1202.9,259.8 L1203.8,259.1 L1204.6,258.4 L1205.4,257.8 L1206.3,257.1 L1207.1,256.5 L1208.0,255.8 L1208.8,255.2 L1209.6,254.6 L1210.5,254.0 L1211.3,253.4 L1212.2,252.8 L1213.0,252.2 L1213.8,251.6 L1214.7,251.0 L1215.5,250.5 L1216.4,249.9 L1217.2,249.4 L1218.1,248.8 L1218.9,248.3 L1219.7,247.8 L1220.6,247.3 L1221.4,246.8 L1222.3,246.3 L1223.1,245.8 L1223.9,245.3 L1224.8,244.8 L1225.6,244.4 L1226.5,243.9 L1227.3,243.4 L1228.1,243.0 L1229.0,242.6 L1229.8,242.1 L1230.7,241.7 L1231.5,241.3 L1232.4,240.8 L1233.2,240.4 L1234.0,240.0 L1234.9,239.6 L1235.7,239.2 L1236.6,238.8 L1237.4,238.5 L1238.2,238.1 L1239.1,237.7 L1239.9,237.4 L1240.8,237.2 L1241.6,237.0 L1242.5,237.1 L1243.3,237.2 L1244.1,237.6 L1245.0,238.0 L1245.8,238.5 L1246.7,239.0 L1247.5,239.4 L1248.3,239.9 L1249.2,240.4 L1250.0,240.9 L1250.9,241.3 L1251.7,241.7 L1252.5,242.2 L1253.4,242.6 L1254.2,243.0 L1255.1,243.4 L1255.9,243.8 L1256.8,244.1 L1257.6,244.5 L1258.4,244.8 L1259.3,245.2 L1260.1,245.5 L1261.0,245.8 L1261.8,246.2 L1262.6,246.5 L1263.5,246.8 L1264.3,247.1 L1265.2,247.3 L1266.0,247.6 L1266.8,247.9 L1267.7,248.2 L1268.5,248.4 L1269.4,248.7 L1270.2,248.9 L1271.1,249.2 L1271.9,249.4 L1272.7,249.6 L1273.6,249.8 L1274.4,250.1 L1275.3,250.3 L1276.1,250.5 L1276.9,250.7 L1277.8,250.9 L1278.6,251.1 L1279.5,251.3 L1280.3,251.4 L1281.1,251.6 L1282.0,251.8 L1282.8,252.0 L1283.7,252.1 L1284.5,252.3 L1285.4,252.5 L1286.2,252.6 L1287.0,252.8 L1287.9,252.9 L1288.7,253.1 L1289.6,253.2 L1290.4,253.4 L1291.2,253.5 L1292.1,253.6 L1292.9,253.8 L1293.8,253.9 L1294.6,254.0 L1295.4,254.2 L1296.3,254.3 L1297.1,254.4 L1298.0,254.5 L1298.8,254.7 L1299.7,254.8 L1300.5,254.9 L1301.3,255.0 L1302.2,255.1 L1303.0,255.2 L1303.9,255.3 L1304.7,255.4 L1305.5,255.5 L1306.4,255.6 L1307.2,255.7 L1308.1,255.8 L1308.9,255.9 L1309.8,256.0 L1310.6,256.1 L1311.4,256.2 L1312.3,256.3 L1313.1,256.4 L1314.0,256.5 L1314.8,256.5 L1315.6,256.6 L1316.5,256.7 L1317.3,256.8 L1318.2,256.9 L1319.0,257.0 L1319.8,257.0 L1320.7,257.1 L1321.5,257.2 L1322.4,257.3 L1323.2,257.3 L1324.1,257.4 L1324.9,257.5 L1325.7,257.6 L1326.6,257.6 L1327.4,257.7 L1328.3,257.8 L1329.1,257.9 L1329.9,257.9 L1330.8,258.0 L1331.6,258.1 L1332.5,258.1 L1333.3,258.2 L1334.1,258.3 L1335.0,258.3 L1335.8,258.4 L1336.7,258.5 L1337.5,258.5 L1338.4,258.6 L1339.2,258.6 L1340.0,258.7 L1340.9,258.8 L1341.7,258.8 L1342.6,258.9 L1343.4,258.9 L1344.2,259.0 L1345.1,259.1 L1345.9,259.1 L1346.8,259.2 L1347.6,259.2 L1348.4,259.3 L1349.3,259.4 L1350.1,259.4 L1351.0,259.5 L1351.8,259.5 L1352.7,259.6 L1353.5,259.6 L1354.3,259.7 L1355.2,259.7 L1356.0,259.8 L1356.9,259.9 L1357.7,259.9 L1358.5,260.0 L1359.4,260.0 L1360.2,260.1 L1361.1,260.1 L1361.9,260.2 L1362.7,260.2 L1363.6,260.3 L1364.4,260.3 L1365.3,260.4 L1366.1,260.4 L1367.0,260.5 L1367.8,260.5 L1368.6,260.6 L1369.5,260.6 L1370.3,260.7 L1371.2,260.7 L1372.0,260.8 L1372.8,260.8 L1373.7,260.9 L1374.5,261.0 L1375.4,261.0 L1376.2,261.0 L1377.0,261.1 L1377.9,261.1 L1378.7,261.2 L1379.6,261.2 L1380.4,261.3 L1381.3,261.3 L1382.1,261.4 L1382.9,261.4 L1383.8,261.5 L1384.6,261.5 L1385.5,261.6 L1386.3,261.6 L1387.1,261.7 L1388.0,261.7 L1388.8,261.8 L1389.7,261.8 L1390.5,261.9 L1391.4,261.9 L1392.2,262.0 L1393.0,262.0 L1393.9,262.1 L1394.7,262.1 L1395.6,262.2 L1396.4,262.2 L1397.2,262.3 L1398.1,262.3 L1398.9,262.3 L1399.8,262.4 L1400.6,262.4 L1401.4,262.5 L1402.3,262.5 L1403.1,262.6 L1404.0,262.6 L1404.8,262.7 L1405.7,262.7 L1406.5,262.8 L1407.3,262.8 L1408.2,262.9 L1409.0,262.9 L1409.9,262.9 L1410.7,263.0 L1411.5,263.0 L1412.4,263.1 L1413.2,263.1 L1414.1,263.2 L1414.9,263.2 L1415.7,263.3 L1416.6,263.3 L1417.4,263.4 L1418.3,263.4 L1419.1,263.4 L1420.0,263.5 L1420.8,263.5 L1421.6,263.6 L1422.5,263.6 L1423.3,263.7 L1424.2,263.7 L1425.0,263.8 L1425.8,263.8 L1426.7,263.9 L1427.5,263.9 L1428.4,263.9 L1429.2,264.0 L1430.0,264.0 L1430.9,264.1 L1431.7,264.1 L1432.6,264.2 L1433.4,264.2 L1434.3,264.3 L1435.1,264.3 L1435.9,264.3 L1436.8,264.4 L1437.6,264.4 L1438.5,264.5 L1439.3,264.5 L1440.1,264.6 L1441.0,264.6 L1441.8,264.7 L1442.7,264.7 L1443.5,264.7 L1444.3,264.8 L1445.2,264.8 L1446.0,264.9 L1446.9,264.9 L1447.7,265.0 L1448.6,265.0 L1449.4,265.0 L1450.2,265.1 L1451.1,265.1 L1451.9,265.2 L1452.8,265.2 L1453.6,265.3 L1454.4,265.3 L1455.3,265.4 L1456.1,265.4 L1457.0,265.4 L1457.8,265.5 L1458.7,265.5 L1459.5,265.6 L1460.3,265.6 L1460.3,265.6" fill="none" stroke="#838300" stroke-width="3.2" stroke-linejoin="round" stroke-linecap="butt"/>
<text x="0.0" y="508.6" font-size="41" font-weight="bold">c</text>
<line x1="118.00" y1="514.90" x2="118.00" y2="968.60" stroke="#000" stroke-width="1.7" stroke-linecap="butt"/>
<line x1="117.20" y1="959.10" x2="721.61" y2="959.10" stroke="#000" stroke-width="1.7" stroke-linecap="butt"/>
<line x1="108.50" y1="948.10" x2="118.00" y2="948.10" stroke="#000" stroke-width="1.7" stroke-linecap="butt"/>
<text transform="translate(97.0,958.1) scale(1,1.03)" font-size="29.4" text-anchor="end">0</text>
<line x1="112.40" y1="894.04" x2="118.00" y2="894.04" stroke="#000" stroke-width="1.7" stroke-linecap="butt"/>
<line x1="108.50" y1="839.98" x2="118.00" y2="839.98" stroke="#000" stroke-width="1.7" stroke-linecap="butt"/>
<text transform="translate(97.0,850.0) scale(1,1.03)" font-size="29.4" text-anchor="end">50</text>
<line x1="112.40" y1="785.91" x2="118.00" y2="785.91" stroke="#000" stroke-width="1.7" stroke-linecap="butt"/>
<line x1="108.50" y1="731.85" x2="118.00" y2="731.85" stroke="#000" stroke-width="1.7" stroke-linecap="butt"/>
<text transform="translate(97.0,741.9) scale(1,1.03)" font-size="29.4" text-anchor="end">100</text>
<line x1="112.40" y1="677.79" x2="118.00" y2="677.79" stroke="#000" stroke-width="1.7" stroke-linecap="butt"/>
<line x1="108.50" y1="623.73" x2="118.00" y2="623.73" stroke="#000" stroke-width="1.7" stroke-linecap="butt"/>
<text transform="translate(97.0,633.7) scale(1,1.03)" font-size="29.4" text-anchor="end">150</text>
<line x1="112.40" y1="569.66" x2="118.00" y2="569.66" stroke="#000" stroke-width="1.7" stroke-linecap="butt"/>
<line x1="108.50" y1="515.60" x2="118.00" y2="515.60" stroke="#000" stroke-width="1.7" stroke-linecap="butt"/>
<text transform="translate(97.0,525.6) scale(1,1.03)" font-size="29.4" text-anchor="end">200</text>
<line x1="118.00" y1="959.10" x2="118.00" y2="968.60" stroke="#000" stroke-width="1.7" stroke-linecap="butt"/>
<text transform="translate(118.0,1001.8) scale(1,1.03)" font-size="29.4" text-anchor="middle">0</text>
<line x1="168.23" y1="959.10" x2="168.23" y2="964.60" stroke="#000" stroke-width="1.7" stroke-linecap="butt"/>
<line x1="218.47" y1="959.10" x2="218.47" y2="968.60" stroke="#000" stroke-width="1.7" stroke-linecap="butt"/>
<text transform="translate(218.5,1001.8) scale(1,1.03)" font-size="29.4" text-anchor="middle">4</text>
<line x1="268.70" y1="959.10" x2="268.70" y2="964.60" stroke="#000" stroke-width="1.7" stroke-linecap="butt"/>
<line x1="318.94" y1="959.10" x2="318.94" y2="968.60" stroke="#000" stroke-width="1.7" stroke-linecap="butt"/>
<text transform="translate(318.9,1001.8) scale(1,1.03)" font-size="29.4" text-anchor="middle">8</text>
<line x1="369.17" y1="959.10" x2="369.17" y2="964.60" stroke="#000" stroke-width="1.7" stroke-linecap="butt"/>
<line x1="419.40" y1="959.10" x2="419.40" y2="968.60" stroke="#000" stroke-width="1.7" stroke-linecap="butt"/>
<text transform="translate(419.4,1001.8) scale(1,1.03)" font-size="29.4" text-anchor="middle">12</text>
<line x1="469.64" y1="959.10" x2="469.64" y2="964.60" stroke="#000" stroke-width="1.7" stroke-linecap="butt"/>
<line x1="519.87" y1="959.10" x2="519.87" y2="968.60" stroke="#000" stroke-width="1.7" stroke-linecap="butt"/>
<text transform="translate(519.9,1001.8) scale(1,1.03)" font-size="29.4" text-anchor="middle">16</text>
<line x1="570.11" y1="959.10" x2="570.11" y2="964.60" stroke="#000" stroke-width="1.7" stroke-linecap="butt"/>
<line x1="620.34" y1="959.10" x2="620.34" y2="968.60" stroke="#000" stroke-width="1.7" stroke-linecap="butt"/>
<text transform="translate(620.3,1001.8) scale(1,1.03)" font-size="29.4" text-anchor="middle">20</text>
<line x1="670.57" y1="959.10" x2="670.57" y2="964.60" stroke="#000" stroke-width="1.7" stroke-linecap="butt"/>
<line x1="720.81" y1="959.10" x2="720.81" y2="968.60" stroke="#000" stroke-width="1.7" stroke-linecap="butt"/>
<text transform="translate(720.8,1001.8) scale(1,1.03)" font-size="29.4" text-anchor="middle">24</text>
<text x="418.8" y="1045.4" font-size="29" text-anchor="middle">Elution volume (ml)</text>
<text x="0.0" y="0.0" font-size="29" text-anchor="middle" transform="translate(22.3,738) rotate(-90)">Absorbance at 280 nm (mAU)</text>
<defs><clipPath id="clipc"><rect x="156.6" y="618.6" width="215.5" height="267.9"/></clipPath><filter id="blca" x="-50%" y="-50%" width="200%" height="200%"><feGaussianBlur stdDeviation="1.1"/></filter><filter id="blcb" x="-50%" y="-50%" width="200%" height="200%"><feGaussianBlur stdDeviation="2.2"/></filter><filter id="blcc" x="-50%" y="-50%" width="200%" height="200%"><feGaussianBlur stdDeviation="4"/></filter><filter id="blcd" x="-50%" y="-50%" width="200%" height="200%"><feGaussianBlur stdDeviation="1.6"/></filter><linearGradient id="gc" x1="0" y1="0" x2="1" y2="0"><stop offset="0" stop-color="#c6c6cb"/><stop offset="0.025" stop-color="#cacacf"/><stop offset="0.16" stop-color="#cdcdd2"/><stop offset="0.21" stop-color="#d2d2d7"/><stop offset="0.4" stop-color="#d6d6db"/><stop offset="0.65" stop-color="#dbdbdf"/><stop offset="1" stop-color="#e0e0e3"/></linearGradient><linearGradient id="gHc" x1="0" y1="0" x2="0" y2="1"><stop offset="0" stop-color="#6a66d4"/><stop offset="0.35" stop-color="#3c3ccc"/><stop offset="1" stop-color="#2424c8"/></linearGradient></defs>
<g clip-path="url(#clipc)">
<rect x="156.6" y="618.6" width="215.5" height="267.9" fill="url(#gc)"/>
<path d="M163.7,621.8 Q177.0,623.0 190.3,621.8 Q192.0,621.8 192.0,623.5 Q192.0,625.2 190.3,625.2 Q177.0,626.4 163.7,625.2 Q162.0,625.2 162.0,623.5 Q162.0,621.8 163.7,621.8 Z" fill="#7c86d4" fill-opacity="0.9" filter="url(#blca)"/>
<path d="M163.7,629.3 Q177.0,630.5 190.3,629.3 Q192.0,629.3 192.0,631.0 Q192.0,632.7 190.3,632.7 Q177.0,633.9 163.7,632.7 Q162.0,632.7 162.0,631.0 Q162.0,629.3 163.7,629.3 Z" fill="#7c86d4" fill-opacity="0.9" filter="url(#blca)"/>
<path d="M165.8,644.0 Q177.0,646.4 188.2,644.0 Q192.0,644.0 192.0,647.8 Q192.0,651.5 188.2,651.5 Q177.0,653.9 165.8,651.5 Q162.0,651.5 162.0,647.8 Q162.0,644.0 165.8,644.0 Z" fill="#4c62d2" fill-opacity="0.95" filter="url(#blca)"/>
<path d="M167.0,658.2 Q177.0,660.6 187.0,658.2 Q191.0,658.2 191.0,664.0 Q191.0,669.8 187.0,669.8 Q177.0,672.1 167.0,669.8 Q163.0,669.8 163.0,664.0 Q163.0,658.2 167.0,658.2 Z" fill="#80407e" fill-opacity="0.88" filter="url(#blcd)"/>
<path d="M168.0,684.0 Q177.5,686.4 187.0,684.0 Q191.0,684.0 191.0,689.0 Q191.0,694.0 187.0,694.0 Q177.5,696.4 168.0,694.0 Q164.0,694.0 164.0,689.0 Q164.0,684.0 168.0,684.0 Z" fill="#5064d6" fill-opacity="0.92" filter="url(#blcd)"/>
<path d="M168.8,711.8 Q177.0,713.8 185.2,711.8 Q189.0,711.8 189.0,715.5 Q189.0,719.2 185.2,719.2 Q177.0,721.2 168.8,719.2 Q165.0,719.2 165.0,715.5 Q165.0,711.8 168.8,711.8 Z" fill="#6078d8" fill-opacity="0.88" filter="url(#blcd)"/>
<path d="M169.0,746.5 Q177.0,747.9 185.0,746.5 Q189.0,746.5 189.0,750.7 Q189.0,755.0 185.0,755.0 Q177.0,756.4 169.0,755.0 Q165.0,755.0 165.0,750.7 Q165.0,746.5 169.0,746.5 Z" fill="#6c84da" fill-opacity="0.85" filter="url(#blcd)"/>
<path d="M169.0,778.4 Q177.0,779.8 185.0,778.4 Q189.0,778.4 189.0,782.4 Q189.0,786.4 185.0,786.4 Q177.0,787.8 169.0,786.4 Q165.0,786.4 165.0,782.4 Q165.0,778.4 169.0,778.4 Z" fill="#7890dc" fill-opacity="0.8" filter="url(#blcd)"/>
<path d="M168.0,866.0 Q177.0,868.0 186.0,866.0 Q190.0,866.0 190.0,871.8 Q190.0,877.5 186.0,877.5 Q177.0,879.5 168.0,877.5 Q164.0,877.5 164.0,871.8 Q164.0,866.0 168.0,866.0 Z" fill="#7c9ae0" fill-opacity="0.85" filter="url(#blcd)"/>
<rect x="199.0" y="645.0" width="40.0" height="12.0" rx="5" fill="#8a84d0" fill-opacity="0.45" filter="url(#blcc)"/>
<path d="M197.5,656.5 Q197.5,652.5 201.5,652.5 L237.0,651.3 Q241.0,651.3 241.0,655.3 L241.0,660.1 Q241.0,672.1 229.0,672.1 L209.5,673.3 Q197.5,673.3 197.5,661.3 Z" fill="url(#gHc)" filter="url(#blcb)"/>
<path d="M199.5,662.5 Q199.5,658.5 203.5,658.5 L235.0,657.3 Q239.0,657.3 239.0,661.3 L239.0,662.1 Q239.0,671.1 230.0,671.1 L208.5,672.3 Q199.5,672.3 199.5,663.3 Z" fill="#2222c8" fill-opacity="0.9" filter="url(#blca)"/>
<rect x="285.0" y="642.0" width="38.0" height="12.0" rx="5" fill="#8a84d0" fill-opacity="0.45" filter="url(#blcc)"/>
<path d="M283.5,654.0 Q283.5,650.0 287.5,650.0 L320.5,650.0 Q324.5,650.0 324.5,654.0 L324.5,657.8 Q324.5,669.8 312.5,669.8 L295.5,669.8 Q283.5,669.8 283.5,657.8 Z" fill="url(#gHc)" filter="url(#blcb)"/>
<path d="M285.5,660.0 Q285.5,656.0 289.5,656.0 L318.5,656.0 Q322.5,656.0 322.5,660.0 L322.5,659.8 Q322.5,668.8 313.5,668.8 L294.5,668.8 Q285.5,668.8 285.5,659.8 Z" fill="#2424c8" fill-opacity="0.9" filter="url(#blca)"/>
<rect x="294.0" y="672.0" width="22.0" height="25.0" rx="5" fill="#b0acd4" fill-opacity="0.25" filter="url(#blcc)"/>
<rect x="206.0" y="674.0" width="22.0" height="25.0" rx="5" fill="#b0acd4" fill-opacity="0.18" filter="url(#blcc)"/>
<rect x="246.0" y="822.0" width="29.0" height="11.0" rx="5" fill="#8a8ad8" fill-opacity="0.35" filter="url(#blcc)"/>
<rect x="245.5" y="828.3" width="29.5" height="13.0" rx="6.5" fill="#2424d4" fill-opacity="0.97" filter="url(#blcd)"/>
<rect x="332.0" y="822.0" width="29.0" height="11.0" rx="5" fill="#8a8ad8" fill-opacity="0.35" filter="url(#blcc)"/>
<rect x="331.5" y="828.3" width="29.5" height="13.0" rx="6.5" fill="#2424d4" fill-opacity="0.97" filter="url(#blcd)"/>
<rect x="206.0" y="839.0" width="23.0" height="22.0" rx="6" fill="#8a86d6" fill-opacity="0.35" filter="url(#blcc)"/>
<rect x="206.5" y="845.0" width="22.0" height="13.0" rx="6" fill="#6a6ad4" fill-opacity="0.8" filter="url(#blcb)"/>
<ellipse cx="212.5" cy="851.5" rx="5.5" ry="4.5" fill="#4a4ad6" fill-opacity="0.55" filter="url(#blcb)"/>
<ellipse cx="223.0" cy="851.5" rx="5.0" ry="4.5" fill="#5050d6" fill-opacity="0.5" filter="url(#blcb)"/>
<rect x="292.0" y="838.0" width="24.0" height="22.0" rx="6" fill="#8a86d6" fill-opacity="0.3" filter="url(#blcc)"/>
<rect x="292.5" y="844.0" width="23.0" height="12.5" rx="6" fill="#7070d6" fill-opacity="0.75" filter="url(#blcb)"/>
<ellipse cx="298.0" cy="850.0" rx="5.5" ry="4.5" fill="#5050d8" fill-opacity="0.5" filter="url(#blcb)"/>
<ellipse cx="311.0" cy="850.0" rx="5.0" ry="4.5" fill="#5050d8" fill-opacity="0.5" filter="url(#blcb)"/>
<rect x="248.0" y="845.0" width="24.0" height="8.0" rx="4" fill="#b0b0dc" fill-opacity="0.25" filter="url(#blcc)"/>
<rect x="334.0" y="845.0" width="24.0" height="8.0" rx="4" fill="#b0b0dc" fill-opacity="0.25" filter="url(#blcc)"/>
<rect x="206.0" y="860.0" width="24.0" height="16.0" rx="4" fill="#c0bcd8" fill-opacity="0.25" filter="url(#blcc)"/>
<rect x="292.0" y="860.0" width="24.0" height="16.0" rx="4" fill="#c0bcd8" fill-opacity="0.25" filter="url(#blcc)"/>
</g>
<text x="127.6" y="608.0" font-size="24.6">kDa</text>
<text x="152.8" y="624.1" font-size="16" text-anchor="end">170</text>
<text x="152.8" y="639.0" font-size="16" text-anchor="end">130</text>
<text x="152.8" y="654.3" font-size="16" text-anchor="end">95</text>
<text x="152.8" y="674.0" font-size="16" text-anchor="end">72</text>
<text x="152.8" y="699.2" font-size="16" text-anchor="end">55</text>
<text x="152.8" y="720.5" font-size="16" text-anchor="end">43</text>
<text x="152.8" y="757.0" font-size="16" text-anchor="end">34</text>
<text x="152.8" y="789.0" font-size="16" text-anchor="end">26</text>
<text x="152.8" y="876.8" font-size="16" text-anchor="end">17</text>
<text transform="translate(219.4,611.1) scale(1,1.03)" font-size="29" text-anchor="middle" fill="#ff0000">1</text>
<text transform="translate(263.2,611.1) scale(1,1.03)" font-size="29" text-anchor="middle" fill="#ff0000">2</text>
<text transform="translate(306.0,611.1) scale(1,1.03)" font-size="29" text-anchor="middle" fill="#0000ff">3</text>
<text transform="translate(348.3,611.1) scale(1,1.03)" font-size="29" text-anchor="middle" fill="#00ffff">4</text>
<text x="376.5" y="667.8" font-size="25.5">gH</text>
<text x="376.5" y="837.3" font-size="25.5">LBD</text>
<text x="376.5" y="868.6" font-size="25.5">gL</text>
<path d="M118.0,946.6 L118.7,946.4 L119.3,946.1 L120.0,946.0 L120.7,946.1 L121.4,946.3 L122.0,946.1 L122.7,946.0 L123.4,946.3 L124.0,946.3 L124.7,946.2 L125.4,946.3 L126.1,946.4 L126.7,946.9 L127.4,946.9 L128.1,947.2 L128.8,946.9 L129.4,946.9 L130.1,946.4 L130.8,946.3 L131.4,946.1 L132.1,946.7 L132.8,946.8 L133.5,946.8 L134.1,946.3 L134.8,946.5 L135.5,946.6 L136.1,946.8 L136.8,946.6 L137.5,946.3 L138.2,946.3 L138.8,946.1 L139.5,946.1 L140.2,946.1 L140.8,946.1 L141.5,946.3 L142.2,946.1 L142.9,946.4 L143.5,946.4 L144.2,946.1 L144.9,946.2 L145.5,946.0 L146.2,946.3 L146.9,946.1 L147.6,945.8 L148.2,945.7 L148.9,945.8 L149.6,946.2 L150.3,946.3 L150.9,946.1 L151.6,945.9 L152.3,946.1 L152.9,945.9 L153.6,945.7 L154.3,945.9 L155.0,945.9 L155.6,946.4 L156.3,946.2 L157.0,946.5 L157.6,946.5 L158.3,946.6 L159.0,946.1 L159.7,945.8 L160.3,946.0 L161.0,946.4 L161.7,946.5 L162.3,946.6 L163.0,946.5 L163.7,946.7 L164.4,946.0 L165.0,945.8 L165.7,945.8 L166.4,946.2 L167.1,946.4 L167.7,946.0 L168.4,946.0 L169.1,946.0 L169.7,946.2 L170.4,946.2 L171.1,946.1 L171.8,946.5 L172.4,946.4 L173.1,946.5 L173.8,946.0 L174.4,945.9 L175.1,945.8 L175.8,945.9 L176.5,946.1 L177.1,945.9 L177.8,946.0 L178.5,945.8 L179.1,946.3 L179.8,946.2 L180.5,946.7 L181.2,946.9 L181.8,947.0 L182.5,946.8 L183.2,946.4 L183.8,945.8 L184.5,945.8 L185.2,946.0 L185.9,946.4 L186.5,946.1 L187.2,946.0 L187.9,946.1 L188.6,946.1 L189.2,945.9 L189.9,946.1 L190.6,946.3 L191.2,946.4 L191.9,946.4 L192.6,946.3 L193.3,946.5 L193.9,946.1 L194.6,946.1 L195.3,945.9 L195.9,946.2 L196.6,946.3 L197.3,946.7 L198.0,946.8 L198.6,946.7 L199.3,946.8 L200.0,946.3 L200.6,946.8 L201.3,946.2 L202.0,946.5 L202.7,946.0 L203.3,946.1 L204.0,946.3 L204.7,946.2 L205.4,945.9 L206.0,945.6 L206.7,945.9 L207.4,946.3 L208.0,946.5 L208.7,946.2 L209.4,946.2 L210.1,946.0 L210.7,946.4 L211.4,946.5 L212.1,946.7 L212.7,946.3 L213.4,946.2 L214.1,945.7 L214.8,946.0 L215.4,946.1 L216.1,946.4 L216.8,946.5 L217.4,946.3 L218.1,946.4 L218.8,946.3 L219.5,946.6 L220.1,946.7 L220.8,946.3 L221.5,946.1 L222.1,946.2 L222.8,946.4 L223.5,946.0 L224.2,946.1 L224.8,946.2 L225.5,946.6 L226.2,946.7 L226.9,946.5 L227.5,946.4 L228.2,946.0 L228.9,946.3 L229.5,946.2 L230.2,946.3 L230.9,946.2 L231.6,946.5 L232.2,946.7 L232.9,946.4 L233.6,946.2 L234.2,945.9 L234.9,946.2 L235.6,946.2 L236.3,946.4 L236.9,946.2 L237.6,946.2 L238.3,946.1 L238.9,946.2 L239.6,945.9 L240.3,945.7 L241.0,945.7 L241.6,946.0 L242.3,946.5 L243.0,946.4 L243.7,946.0 L244.3,945.8 L245.0,945.8 L245.7,945.9 L246.3,945.7 L247.0,945.6 L247.7,945.9 L248.4,945.7 L249.0,946.2 L249.7,945.9 L250.4,946.1 L251.0,945.7 L251.7,945.4 L252.4,945.2 L253.1,945.7 L253.7,946.4 L254.4,946.6 L255.1,946.5 L255.7,946.2 L256.4,946.2 L257.1,946.3 L257.8,946.7 L258.4,946.9 L259.1,946.5 L259.8,946.1 L260.4,946.2 L261.1,946.3 L261.8,946.6 L262.5,946.7 L263.1,946.7 L263.8,946.7 L264.5,946.6 L265.2,946.4 L265.8,945.9 L266.5,946.2 L267.2,946.4 L267.8,946.7 L268.5,946.6 L269.2,946.5 L269.9,946.4 L270.5,946.1 L271.2,946.1 L271.9,945.5 L272.5,945.9 L273.2,945.8 L273.9,946.2 L274.6,945.9 L275.2,946.4 L275.9,946.5 L276.6,946.3 L277.2,946.0 L277.9,945.9 L278.6,946.1 L279.3,945.9 L279.9,945.9 L280.6,946.3 L281.3,946.7 L282.0,947.1 L282.6,947.3 L283.3,947.3 L284.0,946.6 L284.6,945.9 L285.3,946.0 L286.0,946.5 L286.7,946.3 L287.3,946.0 L288.0,945.8 L288.7,946.0 L289.3,946.0 L290.0,945.9 L290.7,945.7 L291.4,945.7 L292.0,946.1 L292.7,946.1 L293.4,946.3 L294.0,945.8 L294.7,946.2 L295.4,946.1 L296.1,946.3 L296.7,946.3 L297.4,945.9 L298.1,945.6 L298.7,945.4 L299.4,945.6 L300.1,945.9 L300.8,946.3 L301.4,946.4 L302.1,946.5 L302.8,945.9 L303.5,946.2 L304.1,946.3 L304.8,946.3 L305.5,945.8 L306.1,945.7 L306.8,945.7 L307.5,945.6 L308.2,945.8 L308.8,945.9 L309.5,946.6 L310.2,946.1 L310.8,945.8 L311.5,945.2 L312.2,945.4 L312.9,945.6 L313.5,945.8 L314.2,945.9 L314.9,946.0 L315.5,946.0 L316.2,945.7 L316.9,945.5 L317.6,945.5 L318.2,946.0 L318.9,946.2 L319.6,945.9 L320.3,945.6 L320.9,945.5 L321.6,945.9 L322.3,946.2 L322.9,946.2 L323.6,946.0 L324.3,945.8 L325.0,945.8 L325.6,946.1 L326.3,945.9 L327.0,946.2 L327.6,946.2 L328.3,946.4 L329.0,945.9 L329.7,946.0 L330.3,945.7 L331.0,945.5 L331.7,945.4 L332.3,945.6 L333.0,945.9 L333.7,945.8 L334.4,945.9 L335.0,945.8 L335.7,945.4 L336.4,945.2 L337.0,945.3 L337.7,946.0 L338.4,945.8 L339.1,946.0 L339.7,946.0 L340.4,945.8 L341.1,945.7 L341.8,945.2 L342.4,945.2 L343.1,944.9 L343.8,945.0 L344.4,944.9 L345.1,945.0 L345.8,945.2 L346.5,945.9 L347.1,945.8 L347.8,945.3 L348.5,944.8 L349.1,945.0 L349.8,945.5 L350.5,945.7 L351.2,945.5 L351.8,945.3 L352.5,945.1 L353.2,945.1 L353.8,945.1 L354.5,945.1 L355.2,945.1 L355.9,945.0 L356.5,944.9 L357.2,944.5 L357.9,944.3 L358.6,944.4 L359.2,945.1 L359.9,945.1 L360.6,945.5 L361.2,945.4 L361.9,945.3 L362.6,944.6 L363.3,944.3 L363.9,944.8 L364.6,945.0 L365.3,945.0 L365.9,944.4 L366.6,943.8 L367.3,943.5 L368.0,943.7 L368.6,944.4 L369.3,944.3 L370.0,944.1 L370.6,944.0 L371.3,943.8 L372.0,943.9 L372.7,943.3 L373.3,943.0 L374.0,942.4 L374.7,942.7 L375.3,942.7 L376.0,942.8 L376.7,942.6 L377.4,942.7 L378.0,942.8 L378.7,942.9 L379.4,942.5 L380.1,942.2 L380.7,941.7 L381.4,941.5 L382.1,941.7 L382.7,941.8 L383.4,941.9 L384.1,941.3 L384.8,941.1 L385.4,940.7 L386.1,940.7 L386.8,940.7 L387.4,941.0 L388.1,940.7 L388.8,940.3 L389.5,940.3 L390.1,940.1 L390.8,939.9 L391.5,939.1 L392.1,939.3 L392.8,939.4 L393.5,939.7 L394.2,939.0 L394.8,938.8 L395.5,938.1 L396.2,938.6 L396.9,938.4 L397.5,938.9 L398.2,938.7 L398.9,938.4 L399.5,938.1 L400.2,937.7 L400.9,937.7 L401.6,937.5 L402.2,937.7 L402.9,937.7 L403.6,937.4 L404.2,937.3 L404.9,937.2 L405.6,937.1 L406.3,937.1 L406.9,937.1 L407.6,936.9 L408.3,936.3 L408.9,936.2 L409.6,936.0 L410.3,936.2 L411.0,935.8 L411.6,935.4 L412.3,935.2 L413.0,934.4 L413.6,934.5 L414.3,934.0 L415.0,934.1 L415.7,933.8 L416.3,933.4 L417.0,933.0 L417.7,932.4 L418.4,932.1 L419.0,931.9 L419.7,931.7 L420.4,931.2 L421.0,930.3 L421.7,930.0 L422.4,929.5 L423.1,929.5 L423.7,928.7 L424.4,928.3 L425.1,927.7 L425.7,927.2 L426.4,926.1 L427.1,925.3 L427.8,924.8 L428.4,924.3 L429.1,923.3 L429.8,922.0 L430.4,920.9 L431.1,919.5 L431.8,918.0 L432.5,916.3 L433.1,914.1 L433.8,912.1 L434.5,909.4 L435.2,906.6 L435.8,902.1 L436.5,897.2 L437.2,891.6 L437.8,886.2 L438.5,880.0 L439.2,873.6 L439.9,866.4 L440.5,859.4 L441.2,851.5 L441.9,842.4 L442.5,831.0 L443.2,816.9 L443.9,800.9 L444.6,783.7 L445.2,766.4 L445.9,749.1 L446.6,731.5 L447.2,715.3 L447.9,699.1 L448.6,684.0 L449.3,668.1 L449.9,654.1 L450.6,640.6 L451.3,629.0 L451.9,618.2 L452.6,608.6 L453.3,600.2 L454.0,593.7 L454.6,589.0 L455.3,585.7 L456.0,583.2 L456.7,582.0 L457.3,581.9 L458.0,583.3 L458.7,586.0 L459.3,589.3 L460.0,593.3 L460.7,597.5 L461.4,602.5 L462.0,608.5 L462.7,615.1 L463.4,622.0 L464.0,628.6 L464.7,635.2 L465.4,641.7 L466.1,648.3 L466.7,654.2 L467.4,660.1 L468.1,665.5 L468.7,671.1 L469.4,676.5 L470.1,682.1 L470.8,687.7 L471.4,693.4 L472.1,699.1 L472.8,705.4 L473.5,711.9 L474.1,718.5 L474.8,725.2 L475.5,731.3 L476.1,737.5 L476.8,743.5 L477.5,749.0 L478.2,754.4 L478.8,759.5 L479.5,765.4 L480.2,771.5 L480.8,777.9 L481.5,784.4 L482.2,790.9 L482.9,796.9 L483.5,802.9 L484.2,808.1 L484.9,813.0 L485.5,817.4 L486.2,821.9 L486.9,826.1 L487.6,830.5 L488.2,834.3 L488.9,838.3 L489.6,841.7 L490.2,845.5 L490.9,849.3 L491.6,853.1 L492.3,856.7 L492.9,860.1 L493.6,863.6 L494.3,867.8 L495.0,871.5 L495.6,875.0 L496.3,878.1 L497.0,881.6 L497.6,885.5 L498.3,888.6 L499.0,891.4 L499.7,894.2 L500.3,896.7 L501.0,899.2 L501.7,900.9 L502.3,903.1 L503.0,904.3 L503.7,905.8 L504.4,907.1 L505.0,908.5 L505.7,909.4 L506.4,910.7 L507.0,912.4 L507.7,914.1 L508.4,915.3 L509.1,916.2 L509.7,916.9 L510.4,917.7 L511.1,918.7 L511.8,920.0 L512.4,921.1 L513.1,922.3 L513.8,923.1 L514.4,923.9 L515.1,924.9 L515.8,926.0 L516.5,926.9 L517.1,927.9 L517.8,928.9 L518.5,929.4 L519.1,929.7 L519.8,929.7 L520.5,930.5 L521.2,930.8 L521.8,931.2 L522.5,931.0 L523.2,931.3 L523.8,931.2 L524.5,930.6 L525.2,929.8 L525.9,929.6 L526.5,929.5 L527.2,929.1 L527.9,929.1 L528.5,928.7 L529.2,928.2 L529.9,926.8 L530.6,925.8 L531.2,924.9 L531.9,924.2 L532.6,923.6 L533.3,922.7 L533.9,921.8 L534.6,920.6 L535.3,919.0 L535.9,916.6 L536.6,914.4 L537.3,912.1 L538.0,909.7 L538.6,906.5 L539.3,903.5 L540.0,900.2 L540.6,897.6 L541.3,894.5 L542.0,891.6 L542.7,888.0 L543.3,884.4 L544.0,881.2 L544.7,878.1 L545.3,874.7 L546.0,871.0 L546.7,867.5 L547.4,863.9 L548.0,860.1 L548.7,856.2 L549.4,853.0 L550.1,849.4 L550.7,846.1 L551.4,842.4 L552.1,839.5 L552.7,836.6 L553.4,833.8 L554.1,831.1 L554.8,828.2 L555.4,825.8 L556.1,823.5 L556.8,821.4 L557.4,819.4 L558.1,816.9 L558.8,815.2 L559.5,813.5 L560.1,811.9 L560.8,810.1 L561.5,808.8 L562.1,808.6 L562.8,808.9 L563.5,809.4 L564.2,810.1 L564.8,811.5 L565.5,813.2 L566.2,814.7 L566.8,816.6 L567.5,819.0 L568.2,821.5 L568.9,823.4 L569.5,825.6 L570.2,827.8 L570.9,830.5 L571.6,833.1 L572.2,836.2 L572.9,839.5 L573.6,843.3 L574.2,846.9 L574.9,850.8 L575.6,854.0 L576.3,857.3 L576.9,860.5 L577.6,863.9 L578.3,866.9 L578.9,869.5 L579.6,872.5 L580.3,875.3 L581.0,878.1 L581.6,879.8 L582.3,881.8 L583.0,884.0 L583.6,886.7 L584.3,888.6 L585.0,890.6 L585.7,892.8 L586.3,894.8 L587.0,896.5 L587.7,897.9 L588.4,900.0 L589.0,901.2 L589.7,902.6 L590.4,903.8 L591.0,905.5 L591.7,907.7 L592.4,909.0 L593.1,910.5 L593.7,911.2 L594.4,912.5 L595.1,913.7 L595.7,915.4 L596.4,916.6 L597.1,917.8 L597.8,918.6 L598.4,919.9 L599.1,920.8 L599.8,922.2 L600.4,922.8 L601.1,923.5 L601.8,923.6 L602.5,924.3 L603.1,925.1 L603.8,926.5 L604.5,927.8 L605.1,928.7 L605.8,929.1 L606.5,929.6 L607.2,930.4 L607.8,930.9 L608.5,931.8 L609.2,931.9 L609.9,932.6 L610.5,932.9 L611.2,933.4 L611.9,934.0 L612.5,934.5 L613.2,935.3 L613.9,935.5 L614.6,935.4 L615.2,934.9 L615.9,934.9 L616.6,935.4 L617.2,936.2 L617.9,936.4 L618.6,936.8 L619.3,936.9 L619.9,937.4 L620.6,937.6 L621.3,937.9 L621.9,938.0 L622.6,938.4 L623.3,938.6 L624.0,938.2 L624.6,938.2 L625.3,938.3 L626.0,938.8 L626.6,938.8 L627.3,939.1 L628.0,939.4 L628.7,939.5 L629.3,939.3 L630.0,939.4 L630.7,939.4 L631.4,939.7 L632.0,939.8 L632.7,940.3 L633.4,940.0 L634.0,940.5 L634.7,940.6 L635.4,941.2 L636.1,940.7 L636.7,940.5 L637.4,940.2 L638.1,940.7 L638.7,940.8 L639.4,941.2 L640.1,941.1 L640.8,941.2 L641.4,941.4 L642.1,941.8 L642.8,942.1 L643.4,942.2 L644.1,942.0 L644.8,941.9 L645.5,941.6 L646.1,941.2 L646.8,941.4 L647.5,941.8 L648.2,942.4 L648.8,942.6 L649.5,942.6 L650.2,942.4 L650.8,942.4 L651.5,942.6 L652.2,942.6 L652.9,942.5 L653.5,942.1 L654.2,942.3 L654.9,942.2 L655.5,942.3 L656.2,942.1 L656.9,942.2 L657.6,942.2 L658.2,942.4 L658.9,942.8 L659.6,943.0 L660.2,943.2 L660.9,942.9 L661.6,943.2 L662.3,942.8 L662.9,942.9 L663.6,942.9 L664.3,943.6 L664.9,943.7 L665.6,943.5 L666.3,943.4 L667.0,943.3 L667.6,943.5 L668.3,943.2 L669.0,943.4 L669.7,943.3 L670.3,943.3 L671.0,942.6 L671.7,942.9 L672.3,943.2 L673.0,944.0 L673.7,943.6 L674.4,943.8 L675.0,943.7 L675.7,943.9 L676.4,943.9 L677.0,944.1 L677.7,944.2 L678.4,944.5 L679.1,944.6 L679.7,944.6 L680.4,944.2 L681.1,943.9 L681.7,944.3 L682.4,944.4 L683.1,944.2 L683.8,943.8 L684.4,943.7 L685.1,944.1 L685.8,944.1 L686.5,944.3 L687.1,944.3 L687.8,944.7 L688.5,944.3 L689.1,944.0 L689.8,943.6 L690.5,944.1 L691.2,943.9 L691.8,944.3 L692.5,944.3 L693.2,944.0 L693.8,943.7 L694.5,943.8 L695.2,944.4 L695.9,944.5 L696.5,944.2 L697.2,944.3 L697.9,944.7 L698.5,945.1 L699.2,945.0 L699.9,944.6 L700.6,944.3 L701.2,944.3 L701.9,944.1 L702.6,944.7 L703.2,944.6 L703.9,944.3 L704.6,944.0 L705.3,944.1 L705.9,944.5 L706.6,944.3 L707.3,944.6 L708.0,944.7 L708.6,945.0 L709.3,944.6 L710.0,944.7 L710.6,944.8 L711.3,945.0 L712.0,944.9 L712.7,945.0 L713.3,945.2 L714.0,945.2 L714.7,945.0 L715.3,945.0 L716.0,945.1 L716.7,945.1 L717.4,945.2 L718.0,945.1 L718.7,945.5 L719.4,945.0 L720.0,944.5 L720.7,943.9 L721.4,944.2 L722.1,944.5" fill="none" stroke="#ff0000" stroke-width="3.8" stroke-linejoin="round" stroke-linecap="butt"/>
<path d="M118.0,945.7 L118.7,946.0 L119.3,945.9 L120.0,945.7 L120.7,945.7 L121.4,945.9 L122.0,946.4 L122.7,946.3 L123.4,946.1 L124.0,945.6 L124.7,945.7 L125.4,945.7 L126.1,945.8 L126.7,946.0 L127.4,946.2 L128.1,945.9 L128.8,946.0 L129.4,945.7 L130.1,946.1 L130.8,946.1 L131.4,946.0 L132.1,945.9 L132.8,946.0 L133.5,946.3 L134.1,946.1 L134.8,945.6 L135.5,945.6 L136.1,945.7 L136.8,945.8 L137.5,945.8 L138.2,945.8 L138.8,946.0 L139.5,946.0 L140.2,946.2 L140.8,946.1 L141.5,946.0 L142.2,946.0 L142.9,946.1 L143.5,945.9 L144.2,945.7 L144.9,945.5 L145.5,945.4 L146.2,945.4 L146.9,945.1 L147.6,945.5 L148.2,945.5 L148.9,946.0 L149.6,945.4 L150.3,945.3 L150.9,945.6 L151.6,946.2 L152.3,946.4 L152.9,945.8 L153.6,945.5 L154.3,945.6 L155.0,945.7 L155.6,945.7 L156.3,945.7 L157.0,945.6 L157.6,946.2 L158.3,946.1 L159.0,946.5 L159.7,945.8 L160.3,946.0 L161.0,946.0 L161.7,946.1 L162.3,946.2 L163.0,946.2 L163.7,946.7 L164.4,946.5 L165.0,946.2 L165.7,945.6 L166.4,945.6 L167.1,945.5 L167.7,945.7 L168.4,945.7 L169.1,945.8 L169.7,945.6 L170.4,945.7 L171.1,945.8 L171.8,946.1 L172.4,946.0 L173.1,946.1 L173.8,945.9 L174.4,946.0 L175.1,945.7 L175.8,946.1 L176.5,945.9 L177.1,946.0 L177.8,945.9 L178.5,945.5 L179.1,945.5 L179.8,945.1 L180.5,945.3 L181.2,945.5 L181.8,946.0 L182.5,946.1 L183.2,945.9 L183.8,945.8 L184.5,946.0 L185.2,946.4 L185.9,946.4 L186.5,946.8 L187.2,946.4 L187.9,946.5 L188.6,946.2 L189.2,946.3 L189.9,946.1 L190.6,946.2 L191.2,946.6 L191.9,946.8 L192.6,947.0 L193.3,946.8 L193.9,946.2 L194.6,946.0 L195.3,945.7 L195.9,946.3 L196.6,946.0 L197.3,946.2 L198.0,946.0 L198.6,945.9 L199.3,945.5 L200.0,945.4 L200.6,945.5 L201.3,946.1 L202.0,946.0 L202.7,946.1 L203.3,945.7 L204.0,945.8 L204.7,945.4 L205.4,946.0 L206.0,946.1 L206.7,946.2 L207.4,945.9 L208.0,946.0 L208.7,946.2 L209.4,946.5 L210.1,946.3 L210.7,945.7 L211.4,945.2 L212.1,945.4 L212.7,946.1 L213.4,946.4 L214.1,946.0 L214.8,946.0 L215.4,946.0 L216.1,946.1 L216.8,945.7 L217.4,945.6 L218.1,946.1 L218.8,946.6 L219.5,946.7 L220.1,946.9 L220.8,946.4 L221.5,946.4 L222.1,945.8 L222.8,945.6 L223.5,945.2 L224.2,945.5 L224.8,945.7 L225.5,945.8 L226.2,945.7 L226.9,946.1 L227.5,946.3 L228.2,946.5 L228.9,946.0 L229.5,946.5 L230.2,946.4 L230.9,946.7 L231.6,946.3 L232.2,946.0 L232.9,945.9 L233.6,945.9 L234.2,945.7 L234.9,946.2 L235.6,946.2 L236.3,946.5 L236.9,946.1 L237.6,946.0 L238.3,946.1 L238.9,946.2 L239.6,946.1 L240.3,945.8 L241.0,945.8 L241.6,945.6 L242.3,945.2 L243.0,945.3 L243.7,945.7 L244.3,945.7 L245.0,945.2 L245.7,945.2 L246.3,945.8 L247.0,946.0 L247.7,946.1 L248.4,946.2 L249.0,945.9 L249.7,946.0 L250.4,946.0 L251.0,946.4 L251.7,946.3 L252.4,946.4 L253.1,946.2 L253.7,945.9 L254.4,945.7 L255.1,945.5 L255.7,945.7 L256.4,945.7 L257.1,945.9 L257.8,946.0 L258.4,945.9 L259.1,946.1 L259.8,945.7 L260.4,945.9 L261.1,945.8 L261.8,946.2 L262.5,946.3 L263.1,946.2 L263.8,946.2 L264.5,945.8 L265.2,946.0 L265.8,946.3 L266.5,946.7 L267.2,947.0 L267.8,946.5 L268.5,946.1 L269.2,945.6 L269.9,945.9 L270.5,946.2 L271.2,946.0 L271.9,945.7 L272.5,945.5 L273.2,945.6 L273.9,945.2 L274.6,944.9 L275.2,945.1 L275.9,945.6 L276.6,945.7 L277.2,945.9 L277.9,946.2 L278.6,946.3 L279.3,946.4 L279.9,946.1 L280.6,946.1 L281.3,945.4 L282.0,945.6 L282.6,945.6 L283.3,946.2 L284.0,945.9 L284.6,945.7 L285.3,945.7 L286.0,946.0 L286.7,946.6 L287.3,946.7 L288.0,946.4 L288.7,946.0 L289.3,946.0 L290.0,946.2 L290.7,946.2 L291.4,945.9 L292.0,945.9 L292.7,946.0 L293.4,946.5 L294.0,946.6 L294.7,946.2 L295.4,946.3 L296.1,946.1 L296.7,946.4 L297.4,946.0 L298.1,946.1 L298.7,946.2 L299.4,946.1 L300.1,946.0 L300.8,946.4 L301.4,946.4 L302.1,946.5 L302.8,946.3 L303.5,946.2 L304.1,945.9 L304.8,945.6 L305.5,945.7 L306.1,945.7 L306.8,945.6 L307.5,945.3 L308.2,945.2 L308.8,945.4 L309.5,945.7 L310.2,945.8 L310.8,946.1 L311.5,946.0 L312.2,946.3 L312.9,946.1 L313.5,946.5 L314.2,946.6 L314.9,946.5 L315.5,945.9 L316.2,945.5 L316.9,945.6 L317.6,945.8 L318.2,946.2 L318.9,946.1 L319.6,946.1 L320.3,945.8 L320.9,945.5 L321.6,945.4 L322.3,945.9 L322.9,946.4 L323.6,946.7 L324.3,946.7 L325.0,946.2 L325.6,945.9 L326.3,945.9 L327.0,946.1 L327.6,945.8 L328.3,945.6 L329.0,945.9 L329.7,946.2 L330.3,946.1 L331.0,945.8 L331.7,945.5 L332.3,945.3 L333.0,945.1 L333.7,945.1 L334.4,945.2 L335.0,945.8 L335.7,946.1 L336.4,946.2 L337.0,945.9 L337.7,945.7 L338.4,945.8 L339.1,946.0 L339.7,945.8 L340.4,945.6 L341.1,945.4 L341.8,945.5 L342.4,945.4 L343.1,945.4 L343.8,946.1 L344.4,946.4 L345.1,946.6 L345.8,946.3 L346.5,946.1 L347.1,945.7 L347.8,945.6 L348.5,945.9 L349.1,945.7 L349.8,945.7 L350.5,945.7 L351.2,946.1 L351.8,945.9 L352.5,945.8 L353.2,945.7 L353.8,945.9 L354.5,945.9 L355.2,946.0 L355.9,945.8 L356.5,945.7 L357.2,945.6 L357.9,945.8 L358.6,945.1 L359.2,945.3 L359.9,945.0 L360.6,945.6 L361.2,945.4 L361.9,945.6 L362.6,945.4 L363.3,945.1 L363.9,945.1 L364.6,945.4 L365.3,945.8 L365.9,945.7 L366.6,945.5 L367.3,945.1 L368.0,945.1 L368.6,944.9 L369.3,944.9 L370.0,944.9 L370.6,945.4 L371.3,946.0 L372.0,946.3 L372.7,945.6 L373.3,945.5 L374.0,944.9 L374.7,945.1 L375.3,944.5 L376.0,944.6 L376.7,944.7 L377.4,945.1 L378.0,945.2 L378.7,945.1 L379.4,945.2 L380.1,945.1 L380.7,944.8 L381.4,945.0 L382.1,944.9 L382.7,945.4 L383.4,944.9 L384.1,944.7 L384.8,944.4 L385.4,944.2 L386.1,944.7 L386.8,944.3 L387.4,944.5 L388.1,944.0 L388.8,944.1 L389.5,944.4 L390.1,944.6 L390.8,944.5 L391.5,943.5 L392.1,943.2 L392.8,943.1 L393.5,943.6 L394.2,943.3 L394.8,942.9 L395.5,942.5 L396.2,942.8 L396.9,943.4 L397.5,943.1 L398.2,942.4 L398.9,941.9 L399.5,941.7 L400.2,942.1 L400.9,942.4 L401.6,942.3 L402.2,942.5 L402.9,942.3 L403.6,942.4 L404.2,941.9 L404.9,941.7 L405.6,941.5 L406.3,941.8 L406.9,942.1 L407.6,942.0 L408.3,941.9 L408.9,941.8 L409.6,942.0 L410.3,941.8 L411.0,941.8 L411.6,941.7 L412.3,941.8 L413.0,941.2 L413.6,940.7 L414.3,939.7 L415.0,939.9 L415.7,940.0 L416.3,940.0 L417.0,939.5 L417.7,939.2 L418.4,938.8 L419.0,938.6 L419.7,938.5 L420.4,938.8 L421.0,938.3 L421.7,937.7 L422.4,937.3 L423.1,937.2 L423.7,936.8 L424.4,935.9 L425.1,935.4 L425.7,934.8 L426.4,934.2 L427.1,933.8 L427.8,933.3 L428.4,932.6 L429.1,931.5 L429.8,930.9 L430.4,929.9 L431.1,928.3 L431.8,926.1 L432.5,924.9 L433.1,922.8 L433.8,921.5 L434.5,918.9 L435.2,917.1 L435.8,914.4 L436.5,912.0 L437.2,909.7 L437.8,906.4 L438.5,902.5 L439.2,897.6 L439.9,890.4 L440.5,881.5 L441.2,870.0 L441.9,858.4 L442.5,844.3 L443.2,828.9 L443.9,811.4 L444.6,793.3 L445.2,774.4 L445.9,755.2 L446.6,736.6 L447.2,718.5 L447.9,701.2 L448.6,684.5 L449.3,668.6 L449.9,654.1 L450.6,640.1 L451.3,627.7 L451.9,616.9 L452.6,607.8 L453.3,600.4 L454.0,594.0 L454.6,588.9 L455.3,585.2 L456.0,582.7 L456.7,582.1 L457.3,582.1 L458.0,583.2 L458.7,585.5 L459.3,588.8 L460.0,593.3 L460.7,598.2 L461.4,603.9 L462.0,609.3 L462.7,614.8 L463.4,620.9 L464.0,627.8 L464.7,634.8 L465.4,641.5 L466.1,647.6 L466.7,653.9 L467.4,659.7 L468.1,665.4 L468.7,671.0 L469.4,676.5 L470.1,682.3 L470.8,687.8 L471.4,693.8 L472.1,699.5 L472.8,705.8 L473.5,711.9 L474.1,718.3 L474.8,724.8 L475.5,731.3 L476.1,737.7 L476.8,743.1 L477.5,748.2 L478.2,753.3 L478.8,759.1 L479.5,764.9 L480.2,771.4 L480.8,777.3 L481.5,784.2 L482.2,790.9 L482.9,796.9 L483.5,802.2 L484.2,807.2 L484.9,812.7 L485.5,817.7 L486.2,821.8 L486.9,826.4 L487.6,830.6 L488.2,834.6 L488.9,838.1 L489.6,841.5 L490.2,845.3 L490.9,848.5 L491.6,852.6 L492.3,856.2 L492.9,860.7 L493.6,864.6 L494.3,868.1 L495.0,871.7 L495.6,875.1 L496.3,879.1 L497.0,882.7 L497.6,886.3 L498.3,889.6 L499.0,892.4 L499.7,894.9 L500.3,897.2 L501.0,899.5 L501.7,902.1 L502.3,904.2 L503.0,906.1 L503.7,907.6 L504.4,908.9 L505.0,910.4 L505.7,912.3 L506.4,914.5 L507.0,916.3 L507.7,918.0 L508.4,919.6 L509.1,920.8 L509.7,922.0 L510.4,922.9 L511.1,924.1 L511.8,925.2 L512.4,926.7 L513.1,927.4 L513.8,928.3 L514.4,928.7 L515.1,929.8 L515.8,930.6 L516.5,931.9 L517.1,932.8 L517.8,933.4 L518.5,934.4 L519.1,935.0 L519.8,936.0 L520.5,936.3 L521.2,937.1 L521.8,937.9 L522.5,938.8 L523.2,939.5 L523.8,940.5 L524.5,941.1 L525.2,941.8 L525.9,942.1 L526.5,942.3 L527.2,942.4 L527.9,943.0 L528.5,942.9 L529.2,943.0 L529.9,942.7 L530.6,943.4 L531.2,943.9 L531.9,944.1 L532.6,944.1 L533.3,944.6 L533.9,944.7 L534.6,944.3 L535.3,944.5 L535.9,944.5 L536.6,945.2 L537.3,944.9 L538.0,944.9 L538.6,945.3 L539.3,945.2 L540.0,945.3 L540.6,945.1 L541.3,945.2 L542.0,945.6 L542.7,945.6 L543.3,945.3 L544.0,945.5 L544.7,945.2 L545.3,945.9 L546.0,945.6 L546.7,945.8 L547.4,946.1 L548.0,946.3 L548.7,946.5 L549.4,946.1 L550.1,945.8 L550.7,945.8 L551.4,945.9 L552.1,946.0 L552.7,945.7 L553.4,945.2 L554.1,945.4 L554.8,945.7 L555.4,946.0 L556.1,945.8 L556.8,945.5 L557.4,945.5 L558.1,945.7 L558.8,946.0 L559.5,946.1 L560.1,945.7 L560.8,945.7 L561.5,945.8 L562.1,946.4 L562.8,946.2 L563.5,945.8 L564.2,945.8 L564.8,946.1 L565.5,946.2 L566.2,946.6 L566.8,946.7 L567.5,946.6 L568.2,946.3 L568.9,946.0 L569.5,945.9 L570.2,945.7 L570.9,945.8 L571.6,945.6 L572.2,945.6 L572.9,945.7 L573.6,946.0 L574.2,946.1 L574.9,946.2 L575.6,946.3 L576.3,946.5 L576.9,946.7 L577.6,946.8 L578.3,946.8 L578.9,946.5 L579.6,946.8 L580.3,946.9 L581.0,946.8 L581.6,946.4 L582.3,946.6 L583.0,946.4 L583.6,946.7 L584.3,946.6 L585.0,946.4 L585.7,946.3 L586.3,946.4 L587.0,946.4 L587.7,946.4 L588.4,946.3 L589.0,946.5 L589.7,946.2 L590.4,946.7 L591.0,946.9 L591.7,947.3 L592.4,947.1 L593.1,947.1 L593.7,947.1 L594.4,946.8 L595.1,946.8 L595.7,946.6 L596.4,946.6 L597.1,946.6 L597.8,946.6 L598.4,946.3 L599.1,946.1 L599.8,946.3 L600.4,946.7 L601.1,946.9 L601.8,946.7 L602.5,946.5 L603.1,946.5 L603.8,946.6 L604.5,946.6 L605.1,946.5 L605.8,946.5 L606.5,946.9 L607.2,947.0 L607.8,947.2 L608.5,946.5 L609.2,946.4 L609.9,946.4 L610.5,947.0 L611.2,947.0 L611.9,946.7 L612.5,946.6 L613.2,946.1 L613.9,946.2 L614.6,945.9 L615.2,946.3 L615.9,946.3 L616.6,946.9 L617.2,947.0 L617.9,947.1 L618.6,946.9 L619.3,947.3 L619.9,947.1 L620.6,947.2 L621.3,946.8 L621.9,947.1 L622.6,947.0 L623.3,946.9 L624.0,947.1 L624.6,947.2 L625.3,947.3 L626.0,947.0 L626.6,946.9 L627.3,947.1 L628.0,947.3 L628.7,947.2 L629.3,946.9 L630.0,946.9 L630.7,946.6 L631.4,946.7 L632.0,946.5 L632.7,946.7 L633.4,947.2 L634.0,947.5 L634.7,947.9 L635.4,947.7 L636.1,947.4 L636.7,947.3 L637.4,947.2 L638.1,947.6 L638.7,947.4 L639.4,947.7 L640.1,947.4 L640.8,947.6 L641.4,947.5 L642.1,947.7 L642.8,947.8 L643.4,947.6 L644.1,947.2 L644.8,946.9 L645.5,947.1 L646.1,947.4 L646.8,947.7 L647.5,947.4 L648.2,947.7 L648.8,947.2 L649.5,947.5 L650.2,947.2 L650.8,947.4 L651.5,947.1 L652.2,946.9 L652.9,946.7 L653.5,946.9 L654.2,946.7 L654.9,946.7 L655.5,946.8 L656.2,946.7 L656.9,947.0 L657.6,946.9 L658.2,947.4 L658.9,947.5 L659.6,947.4 L660.2,947.5 L660.9,947.3 L661.6,947.4 L662.3,947.1 L662.9,947.7 L663.6,947.8 L664.3,947.7 L664.9,947.4 L665.6,947.4 L666.3,948.0 L667.0,947.7 L667.6,947.9 L668.3,947.2 L669.0,947.8 L669.7,947.5 L670.3,947.7 L671.0,947.2 L671.7,947.5 L672.3,947.6 L673.0,947.3 L673.7,947.3 L674.4,947.3 L675.0,947.9 L675.7,947.9 L676.4,947.5 L677.0,947.1 L677.7,947.1 L678.4,947.7 L679.1,947.8 L679.7,947.5 L680.4,946.9 L681.1,946.9 L681.7,947.4 L682.4,947.6 L683.1,948.1 L683.8,948.2 L684.4,948.0 L685.1,947.9 L685.8,947.1 L686.5,947.3 L687.1,947.3 L687.8,947.6 L688.5,947.3 L689.1,947.0 L689.8,947.5 L690.5,947.8 L691.2,947.6 L691.8,947.5 L692.5,947.7 L693.2,947.8 L693.8,947.7 L694.5,947.7 L695.2,948.0 L695.9,948.2 L696.5,948.0 L697.2,947.9 L697.9,947.5 L698.5,947.4 L699.2,947.8 L699.9,947.9 L700.6,947.9 L701.2,947.5 L701.9,947.3 L702.6,947.7 L703.2,948.0 L703.9,948.0 L704.6,948.1 L705.3,948.4 L705.9,948.4 L706.6,948.3 L707.3,947.9 L708.0,948.4 L708.6,948.6 L709.3,948.8 L710.0,948.6 L710.6,948.2 L711.3,948.5 L712.0,948.2 L712.7,948.6 L713.3,948.3 L714.0,948.3 L714.7,948.1 L715.3,948.2 L716.0,948.0 L716.7,948.2 L717.4,947.8 L718.0,948.1 L718.7,947.7 L719.4,947.8 L720.0,947.7 L720.7,948.1 L721.4,947.8 L722.1,948.2" fill="none" stroke="#0000ff" stroke-width="3.8" stroke-linejoin="round" stroke-linecap="butt"/>
<path d="M118.0,948.4 L118.7,948.0 L119.3,947.9 L120.0,947.7 L120.7,948.1 L121.4,948.3 L122.0,948.2 L122.7,948.3 L123.4,948.2 L124.0,948.6 L124.7,948.5 L125.4,948.7 L126.1,948.3 L126.7,948.2 L127.4,948.4 L128.1,948.2 L128.8,948.3 L129.4,948.2 L130.1,948.6 L130.8,948.8 L131.4,948.6 L132.1,948.5 L132.8,948.2 L133.5,948.1 L134.1,947.6 L134.8,947.3 L135.5,947.6 L136.1,948.1 L136.8,948.2 L137.5,948.0 L138.2,947.6 L138.8,947.8 L139.5,947.6 L140.2,947.7 L140.8,947.5 L141.5,947.7 L142.2,947.8 L142.9,947.9 L143.5,947.9 L144.2,947.8 L144.9,948.0 L145.5,947.6 L146.2,947.9 L146.9,947.5 L147.6,947.9 L148.2,948.0 L148.9,947.7 L149.6,947.8 L150.3,948.0 L150.9,948.6 L151.6,948.6 L152.3,947.9 L152.9,947.7 L153.6,947.4 L154.3,948.1 L155.0,948.0 L155.6,948.1 L156.3,947.5 L157.0,947.7 L157.6,947.7 L158.3,948.1 L159.0,948.1 L159.7,948.3 L160.3,948.4 L161.0,948.7 L161.7,948.5 L162.3,948.4 L163.0,948.0 L163.7,948.4 L164.4,948.2 L165.0,948.0 L165.7,947.5 L166.4,947.5 L167.1,947.7 L167.7,947.7 L168.4,948.1 L169.1,948.0 L169.7,948.2 L170.4,948.1 L171.1,947.9 L171.8,947.8 L172.4,947.9 L173.1,948.2 L173.8,948.1 L174.4,948.3 L175.1,948.3 L175.8,948.4 L176.5,948.3 L177.1,948.3 L177.8,948.4 L178.5,947.8 L179.1,947.5 L179.8,947.3 L180.5,947.7 L181.2,947.6 L181.8,947.6 L182.5,947.6 L183.2,948.0 L183.8,948.0 L184.5,947.7 L185.2,947.7 L185.9,947.4 L186.5,947.8 L187.2,947.7 L187.9,948.4 L188.6,947.8 L189.2,948.0 L189.9,947.8 L190.6,948.0 L191.2,947.6 L191.9,947.9 L192.6,948.1 L193.3,948.7 L193.9,948.4 L194.6,948.4 L195.3,948.2 L195.9,948.3 L196.6,948.4 L197.3,948.5 L198.0,948.2 L198.6,947.8 L199.3,948.1 L200.0,948.2 L200.6,948.6 L201.3,948.1 L202.0,948.3 L202.7,948.2 L203.3,948.6 L204.0,948.2 L204.7,948.2 L205.4,948.0 L206.0,948.0 L206.7,948.1 L207.4,948.4 L208.0,948.4 L208.7,948.2 L209.4,947.9 L210.1,947.9 L210.7,947.7 L211.4,947.9 L212.1,948.2 L212.7,948.2 L213.4,947.6 L214.1,947.6 L214.8,948.2 L215.4,948.6 L216.1,948.6 L216.8,948.7 L217.4,948.5 L218.1,948.7 L218.8,948.6 L219.5,948.4 L220.1,948.3 L220.8,948.1 L221.5,948.1 L222.1,947.8 L222.8,947.9 L223.5,948.0 L224.2,948.3 L224.8,947.9 L225.5,947.8 L226.2,947.8 L226.9,948.2 L227.5,948.2 L228.2,947.8 L228.9,947.5 L229.5,947.3 L230.2,947.5 L230.9,947.9 L231.6,948.5 L232.2,948.3 L232.9,948.3 L233.6,947.4 L234.2,947.5 L234.9,947.9 L235.6,948.6 L236.3,948.6 L236.9,948.5 L237.6,948.5 L238.3,948.6 L238.9,948.3 L239.6,948.1 L240.3,948.2 L241.0,948.1 L241.6,948.2 L242.3,948.1 L243.0,948.6 L243.7,948.6 L244.3,948.4 L245.0,948.4 L245.7,948.3 L246.3,948.3 L247.0,948.0 L247.7,947.9 L248.4,948.3 L249.0,948.0 L249.7,947.8 L250.4,947.5 L251.0,948.1 L251.7,948.6 L252.4,948.4 L253.1,947.7 L253.7,947.4 L254.4,947.3 L255.1,947.8 L255.7,947.9 L256.4,948.2 L257.1,948.0 L257.8,948.3 L258.4,948.1 L259.1,947.9 L259.8,947.8 L260.4,948.3 L261.1,948.5 L261.8,948.4 L262.5,948.6 L263.1,948.5 L263.8,948.3 L264.5,947.9 L265.2,947.6 L265.8,947.6 L266.5,947.7 L267.2,948.1 L267.8,948.4 L268.5,948.4 L269.2,948.3 L269.9,948.2 L270.5,948.1 L271.2,947.8 L271.9,947.5 L272.5,947.3 L273.2,947.5 L273.9,947.6 L274.6,947.4 L275.2,947.6 L275.9,947.3 L276.6,947.8 L277.2,947.8 L277.9,948.5 L278.6,948.4 L279.3,948.2 L279.9,947.6 L280.6,947.7 L281.3,947.8 L282.0,948.2 L282.6,948.2 L283.3,948.4 L284.0,948.3 L284.6,948.5 L285.3,948.3 L286.0,948.3 L286.7,948.0 L287.3,948.3 L288.0,948.6 L288.7,948.0 L289.3,948.1 L290.0,947.5 L290.7,947.8 L291.4,947.5 L292.0,948.1 L292.7,948.0 L293.4,947.6 L294.0,947.5 L294.7,947.8 L295.4,948.0 L296.1,947.7 L296.7,947.2 L297.4,947.5 L298.1,947.5 L298.7,948.2 L299.4,947.6 L300.1,947.9 L300.8,948.1 L301.4,948.6 L302.1,948.4 L302.8,947.5 L303.5,947.6 L304.1,947.6 L304.8,947.8 L305.5,947.4 L306.1,947.4 L306.8,947.3 L307.5,947.6 L308.2,947.6 L308.8,947.8 L309.5,947.9 L310.2,948.1 L310.8,947.8 L311.5,948.1 L312.2,947.7 L312.9,947.7 L313.5,947.5 L314.2,947.9 L314.9,948.1 L315.5,948.0 L316.2,947.7 L316.9,947.6 L317.6,947.5 L318.2,947.7 L318.9,947.7 L319.6,948.3 L320.3,948.0 L320.9,948.0 L321.6,947.8 L322.3,947.7 L322.9,947.6 L323.6,948.1 L324.3,948.3 L325.0,948.8 L325.6,948.0 L326.3,947.4 L327.0,947.2 L327.6,947.4 L328.3,948.0 L329.0,947.8 L329.7,947.7 L330.3,947.4 L331.0,947.7 L331.7,947.5 L332.3,948.0 L333.0,947.7 L333.7,947.8 L334.4,947.4 L335.0,947.7 L335.7,948.1 L336.4,948.3 L337.0,948.1 L337.7,947.7 L338.4,947.9 L339.1,947.8 L339.7,947.9 L340.4,947.5 L341.1,947.5 L341.8,947.3 L342.4,947.4 L343.1,947.3 L343.8,947.5 L344.4,947.2 L345.1,947.8 L345.8,947.6 L346.5,948.1 L347.1,947.7 L347.8,948.2 L348.5,948.5 L349.1,948.6 L349.8,948.5 L350.5,948.0 L351.2,948.2 L351.8,947.8 L352.5,947.8 L353.2,947.6 L353.8,948.0 L354.5,948.3 L355.2,948.4 L355.9,948.4 L356.5,948.2 L357.2,948.0 L357.9,948.2 L358.6,948.3 L359.2,948.4 L359.9,948.1 L360.6,947.6 L361.2,947.3 L361.9,947.4 L362.6,948.2 L363.3,948.6 L363.9,948.9 L364.6,948.4 L365.3,948.3 L365.9,947.9 L366.6,948.2 L367.3,948.0 L368.0,947.7 L368.6,947.7 L369.3,947.8 L370.0,948.3 L370.6,947.9 L371.3,948.1 L372.0,948.2 L372.7,948.6 L373.3,948.7 L374.0,948.4 L374.7,947.5 L375.3,947.4 L376.0,947.3 L376.7,947.8 L377.4,947.9 L378.0,948.1 L378.7,948.2 L379.4,948.1 L380.1,947.7 L380.7,948.0 L381.4,947.8 L382.1,948.1 L382.7,947.8 L383.4,947.9 L384.1,947.8 L384.8,947.6 L385.4,947.5 L386.1,947.6 L386.8,948.0 L387.4,947.8 L388.1,947.5 L388.8,946.8 L389.5,946.9 L390.1,947.7 L390.8,947.9 L391.5,948.3 L392.1,948.1 L392.8,947.9 L393.5,947.9 L394.2,947.8 L394.8,948.4 L395.5,948.3 L396.2,948.2 L396.9,947.9 L397.5,948.1 L398.2,947.7 L398.9,947.8 L399.5,947.8 L400.2,948.4 L400.9,947.9 L401.6,947.2 L402.2,947.0 L402.9,947.4 L403.6,947.9 L404.2,947.7 L404.9,947.8 L405.6,947.4 L406.3,947.3 L406.9,947.1 L407.6,947.2 L408.3,947.4 L408.9,947.1 L409.6,947.4 L410.3,947.3 L411.0,947.7 L411.6,947.6 L412.3,947.8 L413.0,947.8 L413.6,947.8 L414.3,948.2 L415.0,948.3 L415.7,947.8 L416.3,947.0 L417.0,946.6 L417.7,946.6 L418.4,947.1 L419.0,947.2 L419.7,947.4 L420.4,947.5 L421.0,947.6 L421.7,947.6 L422.4,947.4 L423.1,947.4 L423.7,947.3 L424.4,947.2 L425.1,946.7 L425.7,946.8 L426.4,946.7 L427.1,946.9 L427.8,946.8 L428.4,946.9 L429.1,946.9 L429.8,946.7 L430.4,946.3 L431.1,945.9 L431.8,946.4 L432.5,946.6 L433.1,946.9 L433.8,946.4 L434.5,946.4 L435.2,946.3 L435.8,946.1 L436.5,946.0 L437.2,946.0 L437.8,945.9 L438.5,945.6 L439.2,945.5 L439.9,945.5 L440.5,945.8 L441.2,945.4 L441.9,945.6 L442.5,945.5 L443.2,945.8 L443.9,945.9 L444.6,945.6 L445.2,945.4 L445.9,945.2 L446.6,945.3 L447.2,946.1 L447.9,946.1 L448.6,946.3 L449.3,945.4 L449.9,945.2 L450.6,944.7 L451.3,944.8 L451.9,945.0 L452.6,945.1 L453.3,945.1 L454.0,945.1 L454.6,945.3 L455.3,944.9 L456.0,944.7 L456.7,944.3 L457.3,944.6 L458.0,944.6 L458.7,944.8 L459.3,944.6 L460.0,944.4 L460.7,944.3 L461.4,944.5 L462.0,944.8 L462.7,944.5 L463.4,944.4 L464.0,944.3 L464.7,944.3 L465.4,944.0 L466.1,943.8 L466.7,944.1 L467.4,943.8 L468.1,943.8 L468.7,943.6 L469.4,944.1 L470.1,944.4 L470.8,944.8 L471.4,944.6 L472.1,944.2 L472.8,943.9 L473.5,944.2 L474.1,944.6 L474.8,944.5 L475.5,944.5 L476.1,944.0 L476.8,943.6 L477.5,942.6 L478.2,942.5 L478.8,942.7 L479.5,943.3 L480.2,944.1 L480.8,943.9 L481.5,943.6 L482.2,942.4 L482.9,941.9 L483.5,941.5 L484.2,941.5 L484.9,941.2 L485.5,940.8 L486.2,940.9 L486.9,940.9 L487.6,941.3 L488.2,940.5 L488.9,939.9 L489.6,939.3 L490.2,939.7 L490.9,939.8 L491.6,939.8 L492.3,939.3 L492.9,939.2 L493.6,938.9 L494.3,938.9 L495.0,938.5 L495.6,938.4 L496.3,938.3 L497.0,938.5 L497.6,938.6 L498.3,938.4 L499.0,938.5 L499.7,938.5 L500.3,938.9 L501.0,939.3 L501.7,939.3 L502.3,939.6 L503.0,939.3 L503.7,939.6 L504.4,939.9 L505.0,940.4 L505.7,940.7 L506.4,940.7 L507.0,940.9 L507.7,940.8 L508.4,940.9 L509.1,940.7 L509.7,941.1 L510.4,941.1 L511.1,941.4 L511.8,941.4 L512.4,941.4 L513.1,941.2 L513.8,941.3 L514.4,941.7 L515.1,941.6 L515.8,941.4 L516.5,941.1 L517.1,941.3 L517.8,941.1 L518.5,940.5 L519.1,940.3 L519.8,940.2 L520.5,940.5 L521.2,940.9 L521.8,940.8 L522.5,940.9 L523.2,939.9 L523.8,939.8 L524.5,939.7 L525.2,939.8 L525.9,939.4 L526.5,939.1 L527.2,938.7 L527.9,938.7 L528.5,938.2 L529.2,937.6 L529.9,936.4 L530.6,935.7 L531.2,935.3 L531.9,934.8 L532.6,934.1 L533.3,933.1 L533.9,932.3 L534.6,931.5 L535.3,930.8 L535.9,929.8 L536.6,928.4 L537.3,927.1 L538.0,925.9 L538.6,925.0 L539.3,923.7 L540.0,922.4 L540.6,920.2 L541.3,918.3 L542.0,916.3 L542.7,913.9 L543.3,911.3 L544.0,908.1 L544.7,904.7 L545.3,901.0 L546.0,897.7 L546.7,894.1 L547.4,890.7 L548.0,886.7 L548.7,883.1 L549.4,879.9 L550.1,876.6 L550.7,873.4 L551.4,869.8 L552.1,866.0 L552.7,862.2 L553.4,858.1 L554.1,853.5 L554.8,848.5 L555.4,843.4 L556.1,839.2 L556.8,834.8 L557.4,830.9 L558.1,826.9 L558.8,823.8 L559.5,820.9 L560.1,818.7 L560.8,816.6 L561.5,815.1 L562.1,813.5 L562.8,812.6 L563.5,811.8 L564.2,811.6 L564.8,811.8 L565.5,812.8 L566.2,813.9 L566.8,815.2 L567.5,816.8 L568.2,818.8 L568.9,821.1 L569.5,823.8 L570.2,826.5 L570.9,830.1 L571.6,834.3 L572.2,838.4 L572.9,842.7 L573.6,846.9 L574.2,851.6 L574.9,856.0 L575.6,859.2 L576.3,862.8 L576.9,866.4 L577.6,870.1 L578.3,873.5 L578.9,875.9 L579.6,879.3 L580.3,882.6 L581.0,885.8 L581.6,888.3 L582.3,890.5 L583.0,893.5 L583.6,895.7 L584.3,897.5 L585.0,899.7 L585.7,901.7 L586.3,904.2 L587.0,905.2 L587.7,907.1 L588.4,908.7 L589.0,910.5 L589.7,911.8 L590.4,913.2 L591.0,914.4 L591.7,915.8 L592.4,917.1 L593.1,917.8 L593.7,918.7 L594.4,919.4 L595.1,920.6 L595.7,921.8 L596.4,922.8 L597.1,923.9 L597.8,924.5 L598.4,925.1 L599.1,925.6 L599.8,926.4 L600.4,927.1 L601.1,927.9 L601.8,928.7 L602.5,929.4 L603.1,930.4 L603.8,930.5 L604.5,931.1 L605.1,931.4 L605.8,932.4 L606.5,933.0 L607.2,933.7 L607.8,933.7 L608.5,934.2 L609.2,934.7 L609.9,935.0 L610.5,935.2 L611.2,935.5 L611.9,935.8 L612.5,936.3 L613.2,936.6 L613.9,937.1 L614.6,937.4 L615.2,937.7 L615.9,938.0 L616.6,937.7 L617.2,937.5 L617.9,937.8 L618.6,938.0 L619.3,938.5 L619.9,938.5 L620.6,938.9 L621.3,939.0 L621.9,938.7 L622.6,939.0 L623.3,939.5 L624.0,939.9 L624.6,940.2 L625.3,940.1 L626.0,941.2 L626.6,941.1 L627.3,941.0 L628.0,940.3 L628.7,940.5 L629.3,940.4 L630.0,940.7 L630.7,940.9 L631.4,941.5 L632.0,941.7 L632.7,941.8 L633.4,941.7 L634.0,942.0 L634.7,942.3 L635.4,942.5 L636.1,942.6 L636.7,942.6 L637.4,942.8 L638.1,943.1 L638.7,943.5 L639.4,943.2 L640.1,943.2 L640.8,943.1 L641.4,943.4 L642.1,943.0 L642.8,943.4 L643.4,943.7 L644.1,943.9 L644.8,943.6 L645.5,943.7 L646.1,944.1 L646.8,944.1 L647.5,943.8 L648.2,943.6 L648.8,944.0 L649.5,944.2 L650.2,944.3 L650.8,944.1 L651.5,944.5 L652.2,944.6 L652.9,944.9 L653.5,944.9 L654.2,944.9 L654.9,945.0 L655.5,944.9 L656.2,944.9 L656.9,945.3 L657.6,945.3 L658.2,945.3 L658.9,945.0 L659.6,944.8 L660.2,945.2 L660.9,945.7 L661.6,945.9 L662.3,945.6 L662.9,944.9 L663.6,944.8 L664.3,945.2 L664.9,945.5 L665.6,945.9 L666.3,946.0 L667.0,945.7 L667.6,945.5 L668.3,945.0 L669.0,945.5 L669.7,945.2 L670.3,945.4 L671.0,945.3 L671.7,945.9 L672.3,946.3 L673.0,946.3 L673.7,945.8 L674.4,945.4 L675.0,945.7 L675.7,946.0 L676.4,946.3 L677.0,946.0 L677.7,945.9 L678.4,945.7 L679.1,946.0 L679.7,945.9 L680.4,946.0 L681.1,945.9 L681.7,946.4 L682.4,946.4 L683.1,946.2 L683.8,946.1 L684.4,946.2 L685.1,946.5 L685.8,946.2 L686.5,946.1 L687.1,946.7 L687.8,946.8 L688.5,947.2 L689.1,947.1 L689.8,947.1 L690.5,946.9 L691.2,946.6 L691.8,946.1 L692.5,945.9 L693.2,945.9 L693.8,946.8 L694.5,947.1 L695.2,947.5 L695.9,947.5 L696.5,947.6 L697.2,947.5 L697.9,947.5 L698.5,947.5 L699.2,947.6 L699.9,947.9 L700.6,947.6 L701.2,947.3 L701.9,946.8 L702.6,946.7 L703.2,946.8 L703.9,946.9 L704.6,947.5 L705.3,946.9 L705.9,946.8 L706.6,946.6 L707.3,947.3 L708.0,947.5 L708.6,947.9 L709.3,947.8 L710.0,947.7 L710.6,947.3 L711.3,947.3 L712.0,947.3 L712.7,947.5 L713.3,947.3 L714.0,947.7 L714.7,947.6 L715.3,947.6 L716.0,947.7 L716.7,947.1 L717.4,947.4 L718.0,946.7 L718.7,947.4 L719.4,947.1 L720.0,947.8 L720.7,947.9 L721.4,948.0 L722.1,947.6" fill="none" stroke="#00ffff" stroke-width="3.8" stroke-linejoin="round" stroke-linecap="butt"/>
<rect x="578.7" y="516.5" width="263.2" height="101.8" fill="#fff" stroke="#000" stroke-width="1.6"/>
<line x1="590.60" y1="536.00" x2="621.40" y2="536.00" stroke="#ff0000" stroke-width="3.6" stroke-linecap="round"/>
<text x="634.0" y="544.2" font-size="25.2">EBV gHgL+LBD</text>
<line x1="590.60" y1="570.70" x2="621.40" y2="570.70" stroke="#0000ff" stroke-width="3.6" stroke-linecap="round"/>
<text x="634.0" y="578.4" font-size="25.2">EBV gHgL</text>
<line x1="590.60" y1="601.30" x2="621.40" y2="601.30" stroke="#00ffff" stroke-width="3.6" stroke-linecap="round"/>
<text x="634.0" y="609.2" font-size="25.2">LBD</text>
<text transform="translate(441.0,542.9) scale(1,1.03)" font-size="29" text-anchor="middle" fill="#ff0000">1</text>
<text transform="translate(476.2,543.6) scale(1,1.03)" font-size="29" text-anchor="middle" fill="#0000ff">3</text>
<line x1="448.30" y1="548.30" x2="450.24" y2="561.99" stroke="#ff0000" stroke-width="3.3"/>
<path d="M451.50,570.90 L443.65,560.40 L450.24,561.99 L456.13,558.63Z" fill="#ff0000"/>
<line x1="469.60" y1="548.30" x2="463.72" y2="562.58" stroke="#0000ff" stroke-width="3.3"/>
<path d="M460.30,570.90 L458.85,557.87 L463.72,562.58 L470.50,562.66Z" fill="#0000ff"/>
<text transform="translate(552.6,772.9) scale(1,1.03)" font-size="29" text-anchor="middle" fill="#ff0000">2</text>
<text transform="translate(586.6,772.9) scale(1,1.03)" font-size="29" text-anchor="middle" fill="#00ffff">4</text>
<line x1="554.40" y1="777.90" x2="556.60" y2="791.91" stroke="#ff0000" stroke-width="3.3"/>
<path d="M558.00,800.80 L549.99,790.42 L556.60,791.91 L562.44,788.46Z" fill="#ff0000"/>
<line x1="575.70" y1="777.60" x2="569.68" y2="792.46" stroke="#00ffff" stroke-width="3.3"/>
<path d="M566.30,800.80 L564.78,787.78 L569.68,792.46 L576.46,792.51Z" fill="#00ffff"/>
<text x="887.5" y="508.5" font-size="41" font-weight="bold">d</text>
<line x1="1007.00" y1="508.00" x2="1007.00" y2="968.70" stroke="#000" stroke-width="1.7" stroke-linecap="butt"/>
<line x1="1006.20" y1="959.20" x2="1620.28" y2="959.20" stroke="#000" stroke-width="1.7" stroke-linecap="butt"/>
<line x1="997.50" y1="950.30" x2="1007.00" y2="950.30" stroke="#000" stroke-width="1.7" stroke-linecap="butt"/>
<text transform="translate(985.7,960.3) scale(1,1.03)" font-size="29.4" text-anchor="end">0</text>
<line x1="1001.40" y1="839.92" x2="1007.00" y2="839.92" stroke="#000" stroke-width="1.7" stroke-linecap="butt"/>
<line x1="997.50" y1="729.55" x2="1007.00" y2="729.55" stroke="#000" stroke-width="1.7" stroke-linecap="butt"/>
<text transform="translate(985.7,739.5) scale(1,1.03)" font-size="29.4" text-anchor="end">50</text>
<line x1="1001.40" y1="619.17" x2="1007.00" y2="619.17" stroke="#000" stroke-width="1.7" stroke-linecap="butt"/>
<line x1="997.50" y1="508.80" x2="1007.00" y2="508.80" stroke="#000" stroke-width="1.7" stroke-linecap="butt"/>
<text transform="translate(985.7,518.8) scale(1,1.03)" font-size="29.4" text-anchor="end">100</text>
<line x1="1007.00" y1="959.20" x2="1007.00" y2="968.70" stroke="#000" stroke-width="1.7" stroke-linecap="butt"/>
<text transform="translate(1007.0,1001.8) scale(1,1.03)" font-size="29.4" text-anchor="middle">0</text>
<line x1="1058.04" y1="959.20" x2="1058.04" y2="964.70" stroke="#000" stroke-width="1.7" stroke-linecap="butt"/>
<line x1="1109.08" y1="959.20" x2="1109.08" y2="968.70" stroke="#000" stroke-width="1.7" stroke-linecap="butt"/>
<text transform="translate(1109.1,1001.8) scale(1,1.03)" font-size="29.4" text-anchor="middle">4</text>
<line x1="1160.12" y1="959.20" x2="1160.12" y2="964.70" stroke="#000" stroke-width="1.7" stroke-linecap="butt"/>
<line x1="1211.16" y1="959.20" x2="1211.16" y2="968.70" stroke="#000" stroke-width="1.7" stroke-linecap="butt"/>
<text transform="translate(1211.2,1001.8) scale(1,1.03)" font-size="29.4" text-anchor="middle">8</text>
<line x1="1262.20" y1="959.20" x2="1262.20" y2="964.70" stroke="#000" stroke-width="1.7" stroke-linecap="butt"/>
<line x1="1313.24" y1="959.20" x2="1313.24" y2="968.70" stroke="#000" stroke-width="1.7" stroke-linecap="butt"/>
<text transform="translate(1313.2,1001.8) scale(1,1.03)" font-size="29.4" text-anchor="middle">12</text>
<line x1="1364.28" y1="959.20" x2="1364.28" y2="964.70" stroke="#000" stroke-width="1.7" stroke-linecap="butt"/>
<line x1="1415.32" y1="959.20" x2="1415.32" y2="968.70" stroke="#000" stroke-width="1.7" stroke-linecap="butt"/>
<text transform="translate(1415.3,1001.8) scale(1,1.03)" font-size="29.4" text-anchor="middle">16</text>
<line x1="1466.36" y1="959.20" x2="1466.36" y2="964.70" stroke="#000" stroke-width="1.7" stroke-linecap="butt"/>
<line x1="1517.40" y1="959.20" x2="1517.40" y2="968.70" stroke="#000" stroke-width="1.7" stroke-linecap="butt"/>
<text transform="translate(1517.4,1001.8) scale(1,1.03)" font-size="29.4" text-anchor="middle">20</text>
<line x1="1568.44" y1="959.20" x2="1568.44" y2="964.70" stroke="#000" stroke-width="1.7" stroke-linecap="butt"/>
<line x1="1619.48" y1="959.20" x2="1619.48" y2="968.70" stroke="#000" stroke-width="1.7" stroke-linecap="butt"/>
<text transform="translate(1619.5,1001.8) scale(1,1.03)" font-size="29.4" text-anchor="middle">24</text>
<text x="1312.6" y="1045.4" font-size="29" text-anchor="middle">Elution volume (ml)</text>
<text x="0.0" y="0.0" font-size="29" text-anchor="middle" transform="translate(909.6,734.8) rotate(-90)">Absorbance at 280 nm (mAU)</text>
<defs><clipPath id="clipd"><rect x="1046.8" y="618.4" width="221.9" height="234.4"/></clipPath><filter id="blda" x="-50%" y="-50%" width="200%" height="200%"><feGaussianBlur stdDeviation="1.1"/></filter><filter id="bldb" x="-50%" y="-50%" width="200%" height="200%"><feGaussianBlur stdDeviation="2.2"/></filter><filter id="bldc" x="-50%" y="-50%" width="200%" height="200%"><feGaussianBlur stdDeviation="4"/></filter><filter id="bldd" x="-50%" y="-50%" width="200%" height="200%"><feGaussianBlur stdDeviation="1.6"/></filter><linearGradient id="gd" x1="0" y1="0" x2="1" y2="0"><stop offset="0" stop-color="#d8d8dc"/><stop offset="0.03" stop-color="#dcdce0"/><stop offset="0.13" stop-color="#e0e0e4"/><stop offset="0.2" stop-color="#e3e3e7"/><stop offset="0.6" stop-color="#e6e6e9"/><stop offset="1" stop-color="#eaeaec"/></linearGradient></defs>
<g clip-path="url(#clipd)">
<rect x="1046.8" y="618.4" width="221.9" height="234.4" fill="url(#gd)"/>
<path d="M1051,623.2 L1077,621.8 L1077,624.6 L1051,626.0 Z" fill="#4a5ade" fill-opacity="0.95" filter="url(#blda)"/>
<path d="M1051,629.2 L1077,627.8 L1077,630.6 L1051,632.0 Z" fill="#4a5ade" fill-opacity="0.95" filter="url(#blda)"/>
<rect x="1051.0" y="637.2" width="26.0" height="7.5" rx="3.5" fill="#2a48e0" fill-opacity="0.95" filter="url(#blda)"/>
<rect x="1050.0" y="648.0" width="26.0" height="12.0" rx="6" fill="#3a0a5a" fill-opacity="0.95" filter="url(#bldd)"/>
<rect x="1051.0" y="671.5" width="22.0" height="10.0" rx="5" fill="#2048e0" fill-opacity="0.95" filter="url(#bldd)"/>
<rect x="1052.0" y="694.3" width="17.0" height="7.5" rx="3.5" fill="#2a58e8" fill-opacity="0.95" filter="url(#bldd)"/>
<rect x="1051.0" y="723.5" width="16.0" height="11.0" rx="5.5" fill="#2050e8" fill-opacity="0.95" filter="url(#bldd)"/>
<rect x="1051.0" y="752.5" width="14.5" height="10.0" rx="5" fill="#2a58e8" fill-opacity="0.95" filter="url(#bldd)"/>
<rect x="1050.0" y="834.0" width="15.0" height="11.0" rx="5.5" fill="#2a60ea" fill-opacity="0.95" filter="url(#bldd)"/>
<rect x="1079.5" y="633.5" width="40.0" height="10.0" rx="5" fill="#1e2ed8" fill-opacity="0.97" filter="url(#blda)"/>
<ellipse cx="1120.0" cy="638.5" rx="3.5" ry="4.0" fill="#2a3ad8" fill-opacity="0.9" filter="url(#blda)"/>
<rect x="1163.0" y="632.0" width="41.0" height="11.0" rx="5" fill="#1e2ed8" fill-opacity="0.97" filter="url(#blda)"/>
<ellipse cx="1166.0" cy="637.0" rx="4.0" ry="4.0" fill="#2a3ad8" fill-opacity="0.9" filter="url(#blda)"/>
<rect x="1080.0" y="644.5" width="40.0" height="5.0" rx="2.5" fill="#8a8ae0" fill-opacity="0.5" filter="url(#blda)"/>
<rect x="1164.0" y="643.5" width="40.0" height="5.0" rx="2.5" fill="#8a8ae0" fill-opacity="0.5" filter="url(#blda)"/>
<rect x="1082.0" y="652.0" width="30.0" height="14.0" rx="4" fill="#a0a0e0" fill-opacity="0.18" filter="url(#bldb)"/>
<rect x="1170.0" y="652.0" width="30.0" height="30.0" rx="4" fill="#a0a0e0" fill-opacity="0.15" filter="url(#bldb)"/>
<path d="M1126,785.8 Q1145,784.2 1160,784.2 Q1165,784.2 1165,788.5 Q1165,793 1158,793.4 Q1140,794.6 1127,794.6 Q1121.5,794.6 1121.5,790 Q1121.5,786 1126,785.8 Z" fill="#1a1ad4" fill-opacity="0.97" filter="url(#bldd)"/>
<rect x="1124.0" y="781.0" width="38.0" height="6.0" rx="3" fill="#8a8ae0" fill-opacity="0.35" filter="url(#bldc)"/>
<path d="M1223,783.4 Q1245,782.4 1258,782.2 Q1264,782.2 1263.5,785.5 Q1263,789 1256,789.2 Q1240,790.6 1225,791.8 Q1219,792 1219,787.5 Q1219,783.6 1223,783.4 Z" fill="#1e22d8" fill-opacity="0.96" filter="url(#bldd)"/>
<rect x="1221.0" y="779.0" width="40.0" height="6.0" rx="3" fill="#8a8ae0" fill-opacity="0.3" filter="url(#bldc)"/>
<rect x="1071.0" y="786.0" width="41.0" height="3.2" rx="1.5" fill="#9090dc" fill-opacity="0.6" filter="url(#blda)"/>
<rect x="1073.0" y="800.5" width="40.0" height="7.0" rx="3" fill="#b4b4e6" fill-opacity="0.55" filter="url(#bldd)"/>
<rect x="1169.0" y="798.8" width="42.0" height="7.0" rx="3" fill="#bcbce8" fill-opacity="0.45" filter="url(#bldd)"/>
<rect x="1075.0" y="817.0" width="36.0" height="12.0" rx="4" fill="#c8c8ea" fill-opacity="0.35" filter="url(#bldc)"/>
<rect x="1172.0" y="815.0" width="38.0" height="12.0" rx="4" fill="#c8c8ea" fill-opacity="0.3" filter="url(#bldc)"/>
</g>
<text x="1013.5" y="608.1" font-size="24.6">kDa</text>
<text x="1042.5" y="624.0" font-size="16" text-anchor="end">170</text>
<text x="1042.5" y="639.4" font-size="16" text-anchor="end">130</text>
<text x="1042.5" y="653.5" font-size="16" text-anchor="end">95</text>
<text x="1042.5" y="668.2" font-size="16" text-anchor="end">72</text>
<text x="1042.5" y="687.0" font-size="16" text-anchor="end">55</text>
<text x="1042.5" y="707.5" font-size="16" text-anchor="end">43</text>
<text x="1042.5" y="736.2" font-size="16" text-anchor="end">34</text>
<text x="1042.5" y="763.7" font-size="16" text-anchor="end">26</text>
<text x="1042.5" y="847.3" font-size="16" text-anchor="end">17</text>
<text transform="translate(1095.9,612.8) scale(1,1.03)" font-size="33.8" text-anchor="middle" fill="#ff0000">1</text>
<text transform="translate(1143.4,612.8) scale(1,1.03)" font-size="33.8" text-anchor="middle" fill="#ff0000">2</text>
<text transform="translate(1188.8,612.8) scale(1,1.03)" font-size="33.8" text-anchor="middle" fill="#0000ff">3</text>
<text transform="translate(1234.0,612.8) scale(1,1.03)" font-size="33.8" text-anchor="middle" fill="#00ffff">4</text>
<text x="1271.2" y="643.3" font-size="25.5">gH</text>
<text x="1271.2" y="790.4" font-size="25.5">LBD</text>
<text x="1271.2" y="821.1" font-size="25.5">gL</text>
<path d="M1007.0,950.6 L1007.7,950.2 L1008.4,951.0 L1009.0,951.6 L1009.7,951.9 L1010.4,951.4 L1011.1,951.1 L1011.8,951.0 L1012.5,951.3 L1013.1,950.8 L1013.8,950.5 L1014.5,950.6 L1015.2,950.6 L1015.9,950.4 L1016.6,950.2 L1017.2,950.8 L1017.9,951.3 L1018.6,951.7 L1019.3,951.6 L1020.0,951.3 L1020.7,950.8 L1021.3,950.5 L1022.0,950.4 L1022.7,950.5 L1023.4,950.9 L1024.1,951.6 L1024.8,951.8 L1025.4,951.8 L1026.1,951.3 L1026.8,951.3 L1027.5,951.4 L1028.2,951.5 L1028.8,951.4 L1029.5,951.0 L1030.2,950.9 L1030.9,950.8 L1031.6,950.8 L1032.3,950.9 L1032.9,951.1 L1033.6,950.5 L1034.3,950.4 L1035.0,950.1 L1035.7,950.2 L1036.4,949.6 L1037.0,950.2 L1037.7,950.0 L1038.4,950.4 L1039.1,950.2 L1039.8,950.8 L1040.5,950.7 L1041.1,950.6 L1041.8,950.6 L1042.5,950.4 L1043.2,950.6 L1043.9,950.9 L1044.5,951.0 L1045.2,950.6 L1045.9,950.0 L1046.6,950.5 L1047.3,950.4 L1048.0,950.6 L1048.6,949.8 L1049.3,950.5 L1050.0,950.5 L1050.7,951.1 L1051.4,951.2 L1052.1,951.5 L1052.7,951.1 L1053.4,950.8 L1054.1,950.8 L1054.8,950.8 L1055.5,950.4 L1056.2,949.9 L1056.8,950.4 L1057.5,950.7 L1058.2,950.7 L1058.9,950.7 L1059.6,950.8 L1060.3,950.9 L1060.9,950.3 L1061.6,950.4 L1062.3,951.4 L1063.0,952.2 L1063.7,952.2 L1064.3,951.5 L1065.0,950.9 L1065.7,950.6 L1066.4,950.8 L1067.1,950.9 L1067.8,951.2 L1068.4,951.0 L1069.1,951.2 L1069.8,950.2 L1070.5,949.9 L1071.2,950.0 L1071.9,951.0 L1072.5,951.4 L1073.2,951.6 L1073.9,951.5 L1074.6,951.6 L1075.3,950.9 L1076.0,950.8 L1076.6,950.8 L1077.3,951.5 L1078.0,951.7 L1078.7,951.5 L1079.4,951.2 L1080.0,950.5 L1080.7,950.7 L1081.4,950.3 L1082.1,950.5 L1082.8,950.4 L1083.5,951.2 L1084.1,951.7 L1084.8,951.5 L1085.5,950.5 L1086.2,950.1 L1086.9,950.1 L1087.6,950.6 L1088.2,950.7 L1088.9,951.1 L1089.6,950.8 L1090.3,950.6 L1091.0,950.4 L1091.7,950.8 L1092.3,950.7 L1093.0,950.6 L1093.7,950.7 L1094.4,950.4 L1095.1,950.4 L1095.8,950.2 L1096.4,950.3 L1097.1,950.0 L1097.8,950.1 L1098.5,950.3 L1099.2,950.9 L1099.8,951.1 L1100.5,951.9 L1101.2,951.2 L1101.9,951.6 L1102.6,950.7 L1103.3,951.3 L1103.9,951.1 L1104.6,951.3 L1105.3,951.0 L1106.0,950.5 L1106.7,950.0 L1107.4,950.0 L1108.0,949.9 L1108.7,950.6 L1109.4,950.5 L1110.1,950.7 L1110.8,950.6 L1111.5,950.9 L1112.1,950.9 L1112.8,950.7 L1113.5,950.6 L1114.2,950.7 L1114.9,951.0 L1115.6,950.9 L1116.2,951.2 L1116.9,951.2 L1117.6,951.0 L1118.3,951.2 L1119.0,951.3 L1119.6,951.5 L1120.3,951.2 L1121.0,950.3 L1121.7,951.2 L1122.4,950.3 L1123.1,950.6 L1123.7,949.6 L1124.4,950.1 L1125.1,950.4 L1125.8,951.0 L1126.5,950.7 L1127.2,951.1 L1127.8,950.9 L1128.5,950.9 L1129.2,950.9 L1129.9,950.9 L1130.6,951.1 L1131.3,951.2 L1131.9,950.7 L1132.6,950.7 L1133.3,950.7 L1134.0,951.1 L1134.7,951.4 L1135.3,951.2 L1136.0,951.1 L1136.7,951.1 L1137.4,950.6 L1138.1,950.9 L1138.8,950.4 L1139.4,950.7 L1140.1,950.2 L1140.8,950.7 L1141.5,950.8 L1142.2,951.4 L1142.9,951.0 L1143.5,950.6 L1144.2,949.7 L1144.9,949.5 L1145.6,949.7 L1146.3,950.4 L1147.0,950.6 L1147.6,950.7 L1148.3,950.2 L1149.0,950.1 L1149.7,950.3 L1150.4,950.9 L1151.1,950.8 L1151.7,950.5 L1152.4,950.3 L1153.1,950.4 L1153.8,950.6 L1154.5,950.6 L1155.1,951.1 L1155.8,951.5 L1156.5,951.2 L1157.2,951.4 L1157.9,951.0 L1158.6,951.4 L1159.2,950.9 L1159.9,950.8 L1160.6,950.6 L1161.3,951.2 L1162.0,951.2 L1162.7,951.6 L1163.3,951.1 L1164.0,950.9 L1164.7,950.5 L1165.4,950.0 L1166.1,950.0 L1166.8,949.8 L1167.4,950.3 L1168.1,950.5 L1168.8,950.4 L1169.5,950.1 L1170.2,950.4 L1170.9,950.4 L1171.5,950.5 L1172.2,949.9 L1172.9,950.0 L1173.6,950.5 L1174.3,951.1 L1174.9,950.7 L1175.6,950.3 L1176.3,950.3 L1177.0,950.7 L1177.7,950.9 L1178.4,951.0 L1179.0,951.7 L1179.7,952.0 L1180.4,951.4 L1181.1,950.8 L1181.8,950.4 L1182.5,950.4 L1183.1,950.2 L1183.8,950.7 L1184.5,950.8 L1185.2,951.2 L1185.9,951.0 L1186.6,951.0 L1187.2,950.8 L1187.9,950.5 L1188.6,950.7 L1189.3,950.8 L1190.0,950.2 L1190.6,950.1 L1191.3,950.4 L1192.0,950.8 L1192.7,950.4 L1193.4,949.7 L1194.1,950.1 L1194.7,950.0 L1195.4,950.3 L1196.1,950.3 L1196.8,950.7 L1197.5,950.5 L1198.2,950.0 L1198.8,949.6 L1199.5,949.6 L1200.2,949.5 L1200.9,949.6 L1201.6,949.3 L1202.3,950.0 L1202.9,950.4 L1203.6,950.4 L1204.3,950.4 L1205.0,950.0 L1205.7,950.2 L1206.4,949.9 L1207.0,949.9 L1207.7,949.5 L1208.4,950.0 L1209.1,949.6 L1209.8,949.3 L1210.4,948.6 L1211.1,948.8 L1211.8,949.1 L1212.5,948.6 L1213.2,948.8 L1213.9,948.9 L1214.5,949.3 L1215.2,948.7 L1215.9,948.5 L1216.6,948.1 L1217.3,948.2 L1218.0,948.1 L1218.6,948.3 L1219.3,948.2 L1220.0,948.1 L1220.7,947.8 L1221.4,947.7 L1222.1,947.1 L1222.7,946.9 L1223.4,946.8 L1224.1,946.8 L1224.8,946.9 L1225.5,946.2 L1226.1,946.5 L1226.8,946.1 L1227.5,946.1 L1228.2,946.2 L1228.9,946.2 L1229.6,945.6 L1230.2,945.9 L1230.9,945.9 L1231.6,946.2 L1232.3,945.8 L1233.0,946.2 L1233.7,945.6 L1234.3,945.3 L1235.0,944.3 L1235.7,944.7 L1236.4,944.5 L1237.1,944.9 L1237.8,944.8 L1238.4,944.4 L1239.1,944.4 L1239.8,944.5 L1240.5,944.7 L1241.2,944.4 L1241.9,944.2 L1242.5,944.5 L1243.2,945.0 L1243.9,945.1 L1244.6,944.9 L1245.3,944.8 L1245.9,945.2 L1246.6,945.1 L1247.3,944.8 L1248.0,944.3 L1248.7,944.2 L1249.4,943.7 L1250.0,944.0 L1250.7,943.1 L1251.4,943.4 L1252.1,943.2 L1252.8,944.3 L1253.5,945.4 L1254.1,945.5 L1254.8,945.3 L1255.5,944.0 L1256.2,944.4 L1256.9,943.9 L1257.6,944.5 L1258.2,943.9 L1258.9,945.1 L1259.6,945.0 L1260.3,945.3 L1261.0,944.4 L1261.7,944.4 L1262.3,944.7 L1263.0,944.6 L1263.7,944.4 L1264.4,943.9 L1265.1,943.9 L1265.7,943.8 L1266.4,944.0 L1267.1,944.6 L1267.8,945.3 L1268.5,945.0 L1269.2,944.4 L1269.8,944.0 L1270.5,944.5 L1271.2,944.6 L1271.9,944.7 L1272.6,944.6 L1273.3,944.8 L1273.9,944.2 L1274.6,944.1 L1275.3,944.0 L1276.0,944.9 L1276.7,945.1 L1277.4,944.6 L1278.0,943.9 L1278.7,943.6 L1279.4,943.6 L1280.1,943.8 L1280.8,943.9 L1281.4,943.4 L1282.1,943.0 L1282.8,941.9 L1283.5,942.3 L1284.2,942.3 L1284.9,942.6 L1285.5,942.3 L1286.2,942.4 L1286.9,942.8 L1287.6,942.5 L1288.3,941.8 L1289.0,941.4 L1289.6,940.9 L1290.3,940.5 L1291.0,940.2 L1291.7,940.2 L1292.4,940.3 L1293.1,939.9 L1293.7,939.4 L1294.4,939.0 L1295.1,938.7 L1295.8,938.7 L1296.5,938.7 L1297.2,938.7 L1297.8,937.9 L1298.5,937.0 L1299.2,935.7 L1299.9,935.4 L1300.6,934.8 L1301.2,934.3 L1301.9,933.4 L1302.6,933.1 L1303.3,932.9 L1304.0,932.4 L1304.7,931.8 L1305.3,930.8 L1306.0,929.7 L1306.7,928.6 L1307.4,927.1 L1308.1,926.3 L1308.8,924.8 L1309.4,924.0 L1310.1,922.4 L1310.8,920.4 L1311.5,918.3 L1312.2,915.5 L1312.9,913.0 L1313.5,910.0 L1314.2,907.4 L1314.9,904.3 L1315.6,900.4 L1316.3,896.0 L1317.0,890.4 L1317.6,884.9 L1318.3,878.3 L1319.0,871.9 L1319.7,864.7 L1320.4,857.6 L1321.0,849.7 L1321.7,841.3 L1322.4,832.1 L1323.1,823.0 L1323.8,813.3 L1324.5,802.7 L1325.1,792.0 L1325.8,781.2 L1326.5,770.6 L1327.2,758.7 L1327.9,745.2 L1328.6,731.1 L1329.2,715.8 L1329.9,700.2 L1330.6,683.7 L1331.3,668.7 L1332.0,654.7 L1332.7,642.5 L1333.3,631.3 L1334.0,622.3 L1334.7,614.7 L1335.4,607.6 L1336.1,601.5 L1336.7,595.8 L1337.4,590.7 L1338.1,585.8 L1338.8,581.5 L1339.5,578.2 L1340.2,575.4 L1340.8,573.9 L1341.5,573.8 L1342.2,575.5 L1342.9,577.8 L1343.6,581.2 L1344.3,584.7 L1344.9,588.9 L1345.6,593.9 L1346.3,598.8 L1347.0,603.6 L1347.7,608.0 L1348.4,613.5 L1349.0,618.8 L1349.7,625.0 L1350.4,631.5 L1351.1,639.3 L1351.8,646.7 L1352.5,654.3 L1353.1,662.2 L1353.8,670.8 L1354.5,680.3 L1355.2,689.6 L1355.9,698.4 L1356.5,706.3 L1357.2,714.4 L1357.9,721.7 L1358.6,729.1 L1359.3,736.6 L1360.0,745.0 L1360.6,754.4 L1361.3,763.8 L1362.0,772.9 L1362.7,780.5 L1363.4,787.2 L1364.1,793.9 L1364.7,799.9 L1365.4,805.9 L1366.1,810.6 L1366.8,815.7 L1367.5,820.5 L1368.2,825.2 L1368.8,830.1 L1369.5,834.9 L1370.2,840.2 L1370.9,844.8 L1371.6,849.3 L1372.2,853.5 L1372.9,858.1 L1373.6,861.7 L1374.3,865.6 L1375.0,869.2 L1375.7,872.6 L1376.3,875.1 L1377.0,877.7 L1377.7,881.2 L1378.4,884.2 L1379.1,886.4 L1379.8,888.1 L1380.4,889.5 L1381.1,891.9 L1381.8,893.5 L1382.5,895.9 L1383.2,896.9 L1383.9,898.7 L1384.5,899.9 L1385.2,902.0 L1385.9,903.9 L1386.6,905.8 L1387.3,906.9 L1388.0,907.7 L1388.6,907.9 L1389.3,908.0 L1390.0,908.2 L1390.7,909.3 L1391.4,910.2 L1392.0,910.9 L1392.7,910.6 L1393.4,910.8 L1394.1,910.8 L1394.8,911.5 L1395.5,912.4 L1396.1,912.9 L1396.8,913.2 L1397.5,912.6 L1398.2,912.4 L1398.9,912.2 L1399.6,912.3 L1400.2,911.7 L1400.9,911.5 L1401.6,911.3 L1402.3,911.4 L1403.0,910.9 L1403.7,910.4 L1404.3,909.6 L1405.0,908.4 L1405.7,908.3 L1406.4,907.8 L1407.1,907.6 L1407.8,906.3 L1408.4,905.5 L1409.1,904.5 L1409.8,903.1 L1410.5,901.9 L1411.2,900.6 L1411.8,899.4 L1412.5,897.8 L1413.2,896.2 L1413.9,894.3 L1414.6,892.5 L1415.3,890.5 L1415.9,888.7 L1416.6,886.7 L1417.3,884.4 L1418.0,882.1 L1418.7,879.0 L1419.4,876.3 L1420.0,873.6 L1420.7,871.0 L1421.4,868.2 L1422.1,866.2 L1422.8,863.7 L1423.5,861.9 L1424.1,859.6 L1424.8,857.9 L1425.5,856.1 L1426.2,854.4 L1426.9,852.2 L1427.5,850.4 L1428.2,847.9 L1428.9,845.8 L1429.6,843.1 L1430.3,840.2 L1431.0,837.4 L1431.6,833.5 L1432.3,830.8 L1433.0,828.2 L1433.7,826.1 L1434.4,823.4 L1435.1,821.4 L1435.7,819.2 L1436.4,817.1 L1437.1,814.7 L1437.8,812.8 L1438.5,811.3 L1439.2,810.4 L1439.8,810.3 L1440.5,810.9 L1441.2,811.5 L1441.9,812.3 L1442.6,813.1 L1443.3,814.3 L1443.9,816.0 L1444.6,817.0 L1445.3,818.2 L1446.0,820.1 L1446.7,822.7 L1447.3,825.8 L1448.0,827.9 L1448.7,830.5 L1449.4,833.0 L1450.1,836.0 L1450.8,838.7 L1451.4,841.5 L1452.1,843.7 L1452.8,846.5 L1453.5,848.6 L1454.2,851.3 L1454.9,853.4 L1455.5,856.2 L1456.2,858.7 L1456.9,862.0 L1457.6,864.7 L1458.3,868.0 L1459.0,870.8 L1459.6,874.1 L1460.3,877.1 L1461.0,881.0 L1461.7,884.2 L1462.4,888.2 L1463.1,890.5 L1463.7,894.2 L1464.4,896.9 L1465.1,900.5 L1465.8,902.0 L1466.5,904.5 L1467.1,906.4 L1467.8,909.2 L1468.5,911.6 L1469.2,913.9 L1469.9,915.6 L1470.6,917.1 L1471.2,918.7 L1471.9,920.8 L1472.6,922.4 L1473.3,924.4 L1474.0,925.6 L1474.7,926.4 L1475.3,927.4 L1476.0,928.6 L1476.7,930.3 L1477.4,931.6 L1478.1,932.2 L1478.8,933.2 L1479.4,934.0 L1480.1,935.2 L1480.8,935.8 L1481.5,935.6 L1482.2,936.9 L1482.8,937.3 L1483.5,938.1 L1484.2,938.3 L1484.9,939.0 L1485.6,939.5 L1486.3,939.1 L1486.9,939.5 L1487.6,940.4 L1488.3,940.9 L1489.0,940.5 L1489.7,940.4 L1490.4,941.6 L1491.0,941.8 L1491.7,942.0 L1492.4,941.3 L1493.1,942.0 L1493.8,942.2 L1494.5,942.9 L1495.1,942.6 L1495.8,942.3 L1496.5,942.9 L1497.2,943.7 L1497.9,943.7 L1498.6,943.4 L1499.2,943.6 L1499.9,944.2 L1500.6,944.2 L1501.3,943.9 L1502.0,944.1 L1502.6,944.2 L1503.3,944.4 L1504.0,944.2 L1504.7,944.4 L1505.4,944.4 L1506.1,944.6 L1506.7,944.1 L1507.4,943.9 L1508.1,944.0 L1508.8,944.2 L1509.5,944.2 L1510.2,943.9 L1510.8,944.0 L1511.5,943.6 L1512.2,943.6 L1512.9,943.8 L1513.6,944.4 L1514.3,944.6 L1514.9,944.5 L1515.6,944.4 L1516.3,945.1 L1517.0,945.8 L1517.7,945.7 L1518.3,945.1 L1519.0,944.4 L1519.7,944.9 L1520.4,944.9 L1521.1,945.3 L1521.8,944.8 L1522.4,945.0 L1523.1,945.2 L1523.8,945.5 L1524.5,946.2 L1525.2,946.3 L1525.9,946.6 L1526.5,945.9 L1527.2,945.7 L1527.9,945.0 L1528.6,945.0 L1529.3,945.2 L1530.0,945.4 L1530.6,945.7 L1531.3,945.4 L1532.0,945.4 L1532.7,945.6 L1533.4,945.8 L1534.1,945.9 L1534.7,945.7 L1535.4,945.5 L1536.1,945.1 L1536.8,945.1 L1537.5,945.5 L1538.1,946.6 L1538.8,946.6 L1539.5,946.6 L1540.2,946.6 L1540.9,946.5 L1541.6,946.3 L1542.2,945.9 L1542.9,946.1 L1543.6,946.6 L1544.3,946.2 L1545.0,946.5 L1545.7,946.3 L1546.3,946.0 L1547.0,945.6 L1547.7,945.4 L1548.4,946.0 L1549.1,946.4 L1549.8,946.6 L1550.4,946.4 L1551.1,946.4 L1551.8,946.3 L1552.5,946.1 L1553.2,945.6 L1553.9,946.1 L1554.5,946.8 L1555.2,947.5 L1555.9,946.8 L1556.6,946.4 L1557.3,945.8 L1557.9,946.3 L1558.6,946.8 L1559.3,947.0 L1560.0,946.8 L1560.7,946.7 L1561.4,946.7 L1562.0,946.6 L1562.7,946.3 L1563.4,946.7 L1564.1,947.5 L1564.8,947.6 L1565.5,947.3 L1566.1,946.8 L1566.8,946.9 L1567.5,947.1 L1568.2,946.9 L1568.9,946.8 L1569.6,946.6 L1570.2,947.1 L1570.9,947.3 L1571.6,947.3 L1572.3,947.3 L1573.0,947.5 L1573.6,947.6 L1574.3,947.1 L1575.0,946.7 L1575.7,946.2 L1576.4,946.6 L1577.1,946.7 L1577.7,947.6 L1578.4,947.7 L1579.1,947.2 L1579.8,946.8 L1580.5,946.4 L1581.2,946.6 L1581.8,946.8 L1582.5,947.0 L1583.2,947.2 L1583.9,947.0 L1584.6,946.9 L1585.3,946.8 L1585.9,947.0 L1586.6,947.3 L1587.3,947.6 L1588.0,947.9 L1588.7,947.4 L1589.4,947.9 L1590.0,947.7 L1590.7,947.4 L1591.4,946.9 L1592.1,947.2 L1592.8,947.9 L1593.4,947.4 L1594.1,947.2 L1594.8,947.0 L1595.5,947.4 L1596.2,947.4 L1596.9,946.7 L1597.5,946.8 L1598.2,946.8 L1598.9,947.9 L1599.6,947.8 L1600.3,947.6 L1601.0,947.2 L1601.6,947.3 L1602.3,947.8 L1603.0,947.9 L1603.7,948.1 L1604.4,947.8 L1605.1,948.3 L1605.7,948.4 L1606.4,948.6 L1607.1,948.2 L1607.8,948.4 L1608.5,948.2 L1609.1,948.2 L1609.8,948.1 L1610.5,948.3 L1611.2,948.6 L1611.9,948.1 L1612.6,948.6 L1613.2,948.5 L1613.9,949.2 L1614.6,948.7 L1615.3,948.3 L1616.0,948.1 L1616.7,947.9 L1617.3,948.4 L1618.0,947.7 L1618.7,947.5 L1619.4,946.9 L1620.1,947.9 L1620.8,948.4" fill="none" stroke="#ff0000" stroke-width="3.8" stroke-linejoin="round" stroke-linecap="butt"/>
<path d="M1007.0,953.0 L1007.7,952.9 L1008.4,953.2 L1009.0,952.7 L1009.7,952.6 L1010.4,952.1 L1011.1,952.2 L1011.8,952.4 L1012.5,953.5 L1013.1,953.4 L1013.8,953.7 L1014.5,952.8 L1015.2,953.2 L1015.9,953.5 L1016.6,953.8 L1017.2,953.5 L1017.9,952.6 L1018.6,952.7 L1019.3,953.1 L1020.0,953.1 L1020.7,953.2 L1021.3,952.3 L1022.0,952.8 L1022.7,952.8 L1023.4,953.1 L1024.1,952.6 L1024.8,952.8 L1025.4,952.6 L1026.1,953.2 L1026.8,952.4 L1027.5,953.0 L1028.2,953.4 L1028.8,953.7 L1029.5,953.3 L1030.2,952.2 L1030.9,951.8 L1031.6,951.9 L1032.3,952.6 L1032.9,953.3 L1033.6,953.6 L1034.3,953.8 L1035.0,953.7 L1035.7,954.4 L1036.4,954.1 L1037.0,954.1 L1037.7,952.5 L1038.4,952.3 L1039.1,952.5 L1039.8,953.1 L1040.5,953.7 L1041.1,953.8 L1041.8,954.5 L1042.5,953.7 L1043.2,953.3 L1043.9,953.1 L1044.5,953.6 L1045.2,953.5 L1045.9,953.0 L1046.6,952.9 L1047.3,953.4 L1048.0,953.8 L1048.6,953.9 L1049.3,953.4 L1050.0,953.4 L1050.7,953.8 L1051.4,953.7 L1052.1,953.8 L1052.7,953.1 L1053.4,953.4 L1054.1,952.9 L1054.8,952.7 L1055.5,952.5 L1056.2,952.6 L1056.8,953.4 L1057.5,953.8 L1058.2,953.9 L1058.9,953.1 L1059.6,952.5 L1060.3,952.0 L1060.9,952.4 L1061.6,952.7 L1062.3,953.1 L1063.0,953.2 L1063.7,953.3 L1064.3,954.0 L1065.0,953.7 L1065.7,954.0 L1066.4,953.5 L1067.1,954.3 L1067.8,953.6 L1068.4,954.1 L1069.1,953.4 L1069.8,954.2 L1070.5,954.1 L1071.2,954.0 L1071.9,953.7 L1072.5,953.6 L1073.2,954.1 L1073.9,954.6 L1074.6,954.5 L1075.3,954.2 L1076.0,953.9 L1076.6,953.8 L1077.3,954.2 L1078.0,954.2 L1078.7,954.3 L1079.4,954.3 L1080.0,953.3 L1080.7,953.8 L1081.4,953.4 L1082.1,953.8 L1082.8,953.9 L1083.5,954.7 L1084.1,954.8 L1084.8,954.3 L1085.5,953.7 L1086.2,953.5 L1086.9,953.5 L1087.6,954.0 L1088.2,955.1 L1088.9,955.0 L1089.6,954.9 L1090.3,954.0 L1091.0,954.0 L1091.7,954.2 L1092.3,953.7 L1093.0,953.5 L1093.7,952.8 L1094.4,953.7 L1095.1,954.1 L1095.8,954.6 L1096.4,954.3 L1097.1,954.6 L1097.8,954.3 L1098.5,954.1 L1099.2,953.6 L1099.8,953.9 L1100.5,953.6 L1101.2,953.6 L1101.9,954.3 L1102.6,954.9 L1103.3,955.0 L1103.9,953.9 L1104.6,953.8 L1105.3,953.8 L1106.0,954.3 L1106.7,954.0 L1107.4,954.1 L1108.0,954.1 L1108.7,954.5 L1109.4,954.2 L1110.1,954.2 L1110.8,954.5 L1111.5,954.5 L1112.1,954.5 L1112.8,953.9 L1113.5,954.0 L1114.2,953.4 L1114.9,953.2 L1115.6,953.5 L1116.2,953.9 L1116.9,954.6 L1117.6,954.0 L1118.3,953.8 L1119.0,953.0 L1119.6,953.6 L1120.3,954.4 L1121.0,954.3 L1121.7,954.2 L1122.4,953.5 L1123.1,954.0 L1123.7,953.8 L1124.4,953.7 L1125.1,954.2 L1125.8,954.1 L1126.5,954.4 L1127.2,954.1 L1127.8,953.9 L1128.5,953.5 L1129.2,953.5 L1129.9,954.6 L1130.6,954.8 L1131.3,954.6 L1131.9,954.0 L1132.6,954.5 L1133.3,954.9 L1134.0,955.3 L1134.7,954.9 L1135.3,954.5 L1136.0,953.9 L1136.7,954.3 L1137.4,954.7 L1138.1,955.1 L1138.8,955.2 L1139.4,955.5 L1140.1,955.2 L1140.8,955.1 L1141.5,954.9 L1142.2,955.8 L1142.9,955.8 L1143.5,956.6 L1144.2,956.5 L1144.9,956.1 L1145.6,954.8 L1146.3,954.4 L1147.0,954.5 L1147.6,955.0 L1148.3,955.5 L1149.0,955.6 L1149.7,955.3 L1150.4,955.3 L1151.1,954.8 L1151.7,955.2 L1152.4,955.4 L1153.1,955.9 L1153.8,956.0 L1154.5,955.7 L1155.1,955.0 L1155.8,954.4 L1156.5,953.8 L1157.2,953.7 L1157.9,953.2 L1158.6,953.4 L1159.2,953.3 L1159.9,953.5 L1160.6,953.3 L1161.3,953.5 L1162.0,954.0 L1162.7,954.3 L1163.3,954.4 L1164.0,953.7 L1164.7,953.6 L1165.4,953.6 L1166.1,953.4 L1166.8,952.9 L1167.4,952.6 L1168.1,952.5 L1168.8,953.0 L1169.5,953.3 L1170.2,953.6 L1170.9,953.5 L1171.5,953.5 L1172.2,953.1 L1172.9,953.1 L1173.6,953.2 L1174.3,953.5 L1174.9,952.9 L1175.6,952.5 L1176.3,952.3 L1177.0,953.0 L1177.7,953.1 L1178.4,953.7 L1179.0,953.6 L1179.7,952.9 L1180.4,953.0 L1181.1,952.4 L1181.8,953.3 L1182.5,953.0 L1183.1,953.2 L1183.8,952.7 L1184.5,952.5 L1185.2,953.3 L1185.9,953.4 L1186.6,953.7 L1187.2,952.4 L1187.9,952.6 L1188.6,952.2 L1189.3,953.3 L1190.0,953.4 L1190.6,953.9 L1191.3,953.2 L1192.0,953.1 L1192.7,952.5 L1193.4,953.0 L1194.1,953.1 L1194.7,952.9 L1195.4,952.9 L1196.1,953.3 L1196.8,953.6 L1197.5,953.6 L1198.2,953.2 L1198.8,953.0 L1199.5,952.9 L1200.2,952.5 L1200.9,953.0 L1201.6,952.2 L1202.3,952.1 L1202.9,952.0 L1203.6,952.5 L1204.3,953.2 L1205.0,952.9 L1205.7,952.5 L1206.4,952.7 L1207.0,952.4 L1207.7,953.2 L1208.4,953.0 L1209.1,953.8 L1209.8,952.7 L1210.4,952.4 L1211.1,951.8 L1211.8,952.6 L1212.5,952.3 L1213.2,953.0 L1213.9,952.7 L1214.5,952.4 L1215.2,951.8 L1215.9,951.8 L1216.6,952.3 L1217.3,952.4 L1218.0,952.4 L1218.6,952.2 L1219.3,951.9 L1220.0,951.8 L1220.7,952.2 L1221.4,952.1 L1222.1,952.2 L1222.7,951.6 L1223.4,951.5 L1224.1,951.6 L1224.8,952.7 L1225.5,952.7 L1226.1,952.4 L1226.8,951.9 L1227.5,952.7 L1228.2,953.3 L1228.9,952.7 L1229.6,952.4 L1230.2,952.2 L1230.9,952.4 L1231.6,951.7 L1232.3,951.5 L1233.0,951.6 L1233.7,952.1 L1234.3,951.6 L1235.0,951.2 L1235.7,951.0 L1236.4,952.0 L1237.1,952.5 L1237.8,952.3 L1238.4,952.0 L1239.1,951.5 L1239.8,951.6 L1240.5,951.2 L1241.2,951.3 L1241.9,951.2 L1242.5,951.5 L1243.2,951.8 L1243.9,951.2 L1244.6,951.3 L1245.3,951.3 L1245.9,951.7 L1246.6,951.4 L1247.3,951.4 L1248.0,952.1 L1248.7,951.9 L1249.4,951.3 L1250.0,950.4 L1250.7,950.6 L1251.4,950.5 L1252.1,951.2 L1252.8,951.2 L1253.5,951.7 L1254.1,951.3 L1254.8,951.1 L1255.5,950.5 L1256.2,950.8 L1256.9,950.6 L1257.6,951.1 L1258.2,951.0 L1258.9,951.4 L1259.6,951.7 L1260.3,951.3 L1261.0,951.2 L1261.7,950.7 L1262.3,950.5 L1263.0,950.7 L1263.7,950.6 L1264.4,951.1 L1265.1,951.0 L1265.7,951.2 L1266.4,950.8 L1267.1,950.8 L1267.8,950.4 L1268.5,950.7 L1269.2,951.0 L1269.8,951.1 L1270.5,950.4 L1271.2,949.7 L1271.9,949.2 L1272.6,948.9 L1273.3,948.8 L1273.9,948.9 L1274.6,949.5 L1275.3,949.9 L1276.0,949.9 L1276.7,949.4 L1277.4,948.9 L1278.0,948.7 L1278.7,948.7 L1279.4,948.5 L1280.1,948.3 L1280.8,948.0 L1281.4,948.0 L1282.1,948.1 L1282.8,948.3 L1283.5,948.1 L1284.2,947.6 L1284.9,947.2 L1285.5,947.3 L1286.2,946.6 L1286.9,946.6 L1287.6,946.3 L1288.3,946.7 L1289.0,946.6 L1289.6,946.3 L1290.3,945.6 L1291.0,944.8 L1291.7,944.4 L1292.4,944.5 L1293.1,944.5 L1293.7,944.1 L1294.4,944.1 L1295.1,944.0 L1295.8,944.0 L1296.5,943.4 L1297.2,942.8 L1297.8,942.3 L1298.5,942.9 L1299.2,942.3 L1299.9,941.4 L1300.6,939.9 L1301.2,939.9 L1301.9,940.4 L1302.6,940.3 L1303.3,939.9 L1304.0,938.8 L1304.7,938.3 L1305.3,937.0 L1306.0,935.9 L1306.7,935.5 L1307.4,934.8 L1308.1,934.5 L1308.8,933.3 L1309.4,932.5 L1310.1,931.3 L1310.8,929.4 L1311.5,928.5 L1312.2,926.8 L1312.9,925.1 L1313.5,922.9 L1314.2,921.3 L1314.9,920.0 L1315.6,918.1 L1316.3,915.3 L1317.0,911.7 L1317.6,907.1 L1318.3,901.7 L1319.0,896.3 L1319.7,890.6 L1320.4,884.5 L1321.0,878.4 L1321.7,871.6 L1322.4,864.3 L1323.1,855.5 L1323.8,845.6 L1324.5,835.4 L1325.1,823.8 L1325.8,812.1 L1326.5,800.1 L1327.2,788.9 L1327.9,777.1 L1328.6,764.8 L1329.2,752.7 L1329.9,740.3 L1330.6,727.9 L1331.3,715.4 L1332.0,703.0 L1332.7,690.8 L1333.3,678.8 L1334.0,666.5 L1334.7,654.2 L1335.4,641.5 L1336.1,631.1 L1336.7,621.6 L1337.4,614.3 L1338.1,607.5 L1338.8,602.2 L1339.5,597.6 L1340.2,592.5 L1340.8,588.2 L1341.5,583.7 L1342.2,581.6 L1342.9,580.0 L1343.6,579.8 L1344.3,581.0 L1344.9,583.1 L1345.6,587.2 L1346.3,590.7 L1347.0,595.4 L1347.7,599.5 L1348.4,604.6 L1349.0,609.5 L1349.7,614.5 L1350.4,621.1 L1351.1,627.6 L1351.8,635.1 L1352.5,641.4 L1353.1,649.0 L1353.8,656.3 L1354.5,664.3 L1355.2,671.3 L1355.9,678.3 L1356.5,685.4 L1357.2,692.7 L1357.9,700.9 L1358.6,708.8 L1359.3,717.2 L1360.0,726.2 L1360.6,735.8 L1361.3,746.9 L1362.0,757.5 L1362.7,768.2 L1363.4,776.9 L1364.1,784.5 L1364.7,791.3 L1365.4,797.6 L1366.1,803.3 L1366.8,808.8 L1367.5,814.4 L1368.2,819.9 L1368.8,823.8 L1369.5,828.6 L1370.2,832.5 L1370.9,836.8 L1371.6,839.7 L1372.2,843.6 L1372.9,847.6 L1373.6,850.9 L1374.3,853.7 L1375.0,857.3 L1375.7,860.8 L1376.3,864.5 L1377.0,867.3 L1377.7,870.5 L1378.4,874.1 L1379.1,878.1 L1379.8,881.6 L1380.4,884.0 L1381.1,886.3 L1381.8,889.2 L1382.5,891.7 L1383.2,894.9 L1383.9,897.2 L1384.5,900.5 L1385.2,902.5 L1385.9,904.9 L1386.6,906.4 L1387.3,908.7 L1388.0,910.8 L1388.6,913.7 L1389.3,915.0 L1390.0,916.6 L1390.7,917.6 L1391.4,919.5 L1392.0,920.8 L1392.7,921.8 L1393.4,922.7 L1394.1,923.5 L1394.8,924.6 L1395.5,925.7 L1396.1,927.3 L1396.8,928.0 L1397.5,928.7 L1398.2,928.7 L1398.9,930.3 L1399.6,931.6 L1400.2,933.2 L1400.9,933.5 L1401.6,933.3 L1402.3,933.1 L1403.0,933.4 L1403.7,934.2 L1404.3,934.7 L1405.0,935.4 L1405.7,935.8 L1406.4,936.5 L1407.1,937.5 L1407.8,938.2 L1408.4,938.2 L1409.1,938.1 L1409.8,938.4 L1410.5,939.3 L1411.2,939.6 L1411.8,939.5 L1412.5,939.6 L1413.2,940.0 L1413.9,941.5 L1414.6,941.8 L1415.3,942.3 L1415.9,942.0 L1416.6,941.8 L1417.3,941.1 L1418.0,941.3 L1418.7,941.4 L1419.4,941.6 L1420.0,941.4 L1420.7,941.5 L1421.4,942.3 L1422.1,942.6 L1422.8,943.4 L1423.5,943.3 L1424.1,942.8 L1424.8,943.0 L1425.5,943.1 L1426.2,943.8 L1426.9,943.5 L1427.5,943.4 L1428.2,943.0 L1428.9,943.4 L1429.6,943.9 L1430.3,944.4 L1431.0,944.4 L1431.6,944.4 L1432.3,944.3 L1433.0,943.9 L1433.7,943.9 L1434.4,944.1 L1435.1,944.3 L1435.7,944.4 L1436.4,944.8 L1437.1,945.7 L1437.8,945.4 L1438.5,945.1 L1439.2,944.9 L1439.8,945.1 L1440.5,945.0 L1441.2,944.7 L1441.9,945.3 L1442.6,945.7 L1443.3,946.0 L1443.9,945.5 L1444.6,945.6 L1445.3,945.9 L1446.0,946.3 L1446.7,946.9 L1447.3,946.8 L1448.0,946.9 L1448.7,946.3 L1449.4,946.6 L1450.1,946.7 L1450.8,947.2 L1451.4,947.2 L1452.1,947.0 L1452.8,946.9 L1453.5,946.5 L1454.2,947.1 L1454.9,947.0 L1455.5,947.7 L1456.2,947.6 L1456.9,947.8 L1457.6,947.2 L1458.3,947.0 L1459.0,947.0 L1459.6,947.0 L1460.3,947.0 L1461.0,946.9 L1461.7,947.0 L1462.4,947.1 L1463.1,947.4 L1463.7,947.6 L1464.4,947.8 L1465.1,947.7 L1465.8,947.5 L1466.5,947.2 L1467.1,947.5 L1467.8,948.3 L1468.5,948.6 L1469.2,948.6 L1469.9,948.0 L1470.6,948.1 L1471.2,948.2 L1471.9,948.4 L1472.6,948.5 L1473.3,948.6 L1474.0,948.4 L1474.7,947.8 L1475.3,947.7 L1476.0,948.2 L1476.7,949.0 L1477.4,949.1 L1478.1,949.2 L1478.8,948.9 L1479.4,949.3 L1480.1,949.4 L1480.8,949.6 L1481.5,949.4 L1482.2,949.0 L1482.8,948.9 L1483.5,949.5 L1484.2,950.3 L1484.9,951.0 L1485.6,950.8 L1486.3,950.4 L1486.9,949.8 L1487.6,949.8 L1488.3,949.9 L1489.0,950.3 L1489.7,950.6 L1490.4,951.2 L1491.0,951.2 L1491.7,950.4 L1492.4,950.4 L1493.1,949.8 L1493.8,949.8 L1494.5,949.5 L1495.1,949.9 L1495.8,950.5 L1496.5,950.5 L1497.2,950.3 L1497.9,950.1 L1498.6,949.8 L1499.2,949.7 L1499.9,949.6 L1500.6,949.8 L1501.3,950.2 L1502.0,950.2 L1502.6,950.6 L1503.3,950.5 L1504.0,950.5 L1504.7,950.4 L1505.4,949.9 L1506.1,950.3 L1506.7,950.3 L1507.4,950.8 L1508.1,951.1 L1508.8,951.1 L1509.5,951.6 L1510.2,951.4 L1510.8,951.1 L1511.5,950.6 L1512.2,950.0 L1512.9,949.7 L1513.6,949.4 L1514.3,949.6 L1514.9,950.0 L1515.6,950.0 L1516.3,950.3 L1517.0,950.3 L1517.7,950.2 L1518.3,949.8 L1519.0,949.6 L1519.7,949.8 L1520.4,949.8 L1521.1,950.3 L1521.8,950.5 L1522.4,951.2 L1523.1,950.7 L1523.8,950.9 L1524.5,950.1 L1525.2,950.0 L1525.9,950.0 L1526.5,950.4 L1527.2,951.0 L1527.9,950.7 L1528.6,950.5 L1529.3,950.1 L1530.0,950.7 L1530.6,951.0 L1531.3,950.9 L1532.0,950.2 L1532.7,949.7 L1533.4,950.3 L1534.1,950.2 L1534.7,950.8 L1535.4,950.3 L1536.1,950.4 L1536.8,950.0 L1537.5,950.2 L1538.1,950.3 L1538.8,950.8 L1539.5,951.1 L1540.2,951.0 L1540.9,950.6 L1541.6,950.7 L1542.2,951.1 L1542.9,951.1 L1543.6,950.1 L1544.3,949.6 L1545.0,949.3 L1545.7,950.3 L1546.3,950.7 L1547.0,950.8 L1547.7,950.1 L1548.4,950.0 L1549.1,950.2 L1549.8,949.8 L1550.4,949.4 L1551.1,949.4 L1551.8,950.2 L1552.5,950.1 L1553.2,950.2 L1553.9,949.5 L1554.5,949.6 L1555.2,949.7 L1555.9,950.0 L1556.6,950.7 L1557.3,950.2 L1557.9,950.2 L1558.6,949.5 L1559.3,949.5 L1560.0,949.6 L1560.7,949.8 L1561.4,950.1 L1562.0,950.2 L1562.7,949.9 L1563.4,950.0 L1564.1,950.1 L1564.8,950.7 L1565.5,950.8 L1566.1,951.3 L1566.8,951.0 L1567.5,950.9 L1568.2,950.4 L1568.9,950.9 L1569.6,950.9 L1570.2,951.1 L1570.9,950.9 L1571.6,949.9 L1572.3,949.4 L1573.0,949.2 L1573.6,950.4 L1574.3,950.6 L1575.0,951.2 L1575.7,950.5 L1576.4,950.6 L1577.1,950.2 L1577.7,950.5 L1578.4,950.6 L1579.1,951.1 L1579.8,950.9 L1580.5,951.1 L1581.2,951.0 L1581.8,951.3 L1582.5,951.1 L1583.2,950.7 L1583.9,950.3 L1584.6,950.0 L1585.3,950.0 L1585.9,950.3 L1586.6,950.2 L1587.3,950.8 L1588.0,950.7 L1588.7,951.3 L1589.4,951.1 L1590.0,951.2 L1590.7,951.1 L1591.4,950.5 L1592.1,950.2 L1592.8,950.8 L1593.4,951.0 L1594.1,950.8 L1594.8,949.8 L1595.5,949.3 L1596.2,949.9 L1596.9,950.6 L1597.5,951.4 L1598.2,951.3 L1598.9,950.6 L1599.6,950.5 L1600.3,950.8 L1601.0,951.0 L1601.6,951.3 L1602.3,951.4 L1603.0,951.0 L1603.7,949.8 L1604.4,949.7 L1605.1,949.7 L1605.7,950.5 L1606.4,950.7 L1607.1,952.0 L1607.8,951.6 L1608.5,951.4 L1609.1,950.1 L1609.8,950.3 L1610.5,950.1 L1611.2,951.4 L1611.9,951.1 L1612.6,951.2 L1613.2,950.8 L1613.9,951.9 L1614.6,951.5 L1615.3,951.2 L1616.0,950.7 L1616.7,951.0 L1617.3,951.2 L1618.0,950.7 L1618.7,950.7 L1619.4,950.3 L1620.1,950.7 L1620.8,951.0" fill="none" stroke="#0000ff" stroke-width="3.8" stroke-linejoin="round" stroke-linecap="butt"/>
<path d="M1007.0,951.8 L1007.7,951.8 L1008.4,950.9 L1009.0,951.1 L1009.7,951.0 L1010.4,950.6 L1011.1,950.5 L1011.8,950.5 L1012.5,951.6 L1013.1,952.0 L1013.8,952.1 L1014.5,951.6 L1015.2,950.9 L1015.9,951.3 L1016.6,951.4 L1017.2,951.2 L1017.9,950.5 L1018.6,950.4 L1019.3,951.2 L1020.0,951.3 L1020.7,951.1 L1021.3,950.4 L1022.0,950.7 L1022.7,950.2 L1023.4,950.3 L1024.1,950.2 L1024.8,951.5 L1025.4,951.7 L1026.1,952.1 L1026.8,951.5 L1027.5,951.2 L1028.2,951.2 L1028.8,950.7 L1029.5,951.1 L1030.2,951.0 L1030.9,951.5 L1031.6,951.5 L1032.3,951.2 L1032.9,951.1 L1033.6,950.8 L1034.3,950.4 L1035.0,950.5 L1035.7,950.4 L1036.4,951.2 L1037.0,951.8 L1037.7,952.0 L1038.4,951.8 L1039.1,951.5 L1039.8,951.0 L1040.5,951.7 L1041.1,951.9 L1041.8,952.6 L1042.5,951.5 L1043.2,951.3 L1043.9,950.9 L1044.5,951.7 L1045.2,951.2 L1045.9,951.2 L1046.6,950.8 L1047.3,951.7 L1048.0,951.2 L1048.6,951.1 L1049.3,950.3 L1050.0,950.3 L1050.7,950.5 L1051.4,950.7 L1052.1,950.8 L1052.7,950.7 L1053.4,950.7 L1054.1,950.9 L1054.8,951.2 L1055.5,950.9 L1056.2,950.6 L1056.8,950.4 L1057.5,950.1 L1058.2,950.8 L1058.9,950.9 L1059.6,950.9 L1060.3,950.6 L1060.9,951.0 L1061.6,951.1 L1062.3,950.8 L1063.0,950.7 L1063.7,950.9 L1064.3,951.3 L1065.0,951.4 L1065.7,951.7 L1066.4,951.5 L1067.1,951.4 L1067.8,951.5 L1068.4,951.6 L1069.1,951.3 L1069.8,951.2 L1070.5,950.6 L1071.2,950.8 L1071.9,951.2 L1072.5,951.8 L1073.2,951.7 L1073.9,950.9 L1074.6,950.2 L1075.3,950.3 L1076.0,950.5 L1076.6,951.1 L1077.3,950.6 L1078.0,951.0 L1078.7,950.4 L1079.4,950.5 L1080.0,950.5 L1080.7,950.6 L1081.4,951.1 L1082.1,951.1 L1082.8,950.8 L1083.5,949.3 L1084.1,949.0 L1084.8,949.3 L1085.5,950.9 L1086.2,950.8 L1086.9,951.3 L1087.6,951.2 L1088.2,951.5 L1088.9,951.3 L1089.6,950.6 L1090.3,950.4 L1091.0,950.2 L1091.7,950.8 L1092.3,951.6 L1093.0,951.8 L1093.7,951.5 L1094.4,950.9 L1095.1,950.4 L1095.8,950.4 L1096.4,950.8 L1097.1,950.8 L1097.8,951.3 L1098.5,951.1 L1099.2,950.8 L1099.8,949.9 L1100.5,950.1 L1101.2,950.6 L1101.9,950.6 L1102.6,949.9 L1103.3,950.3 L1103.9,950.8 L1104.6,951.3 L1105.3,950.5 L1106.0,950.6 L1106.7,950.5 L1107.4,950.9 L1108.0,949.9 L1108.7,950.0 L1109.4,950.0 L1110.1,950.8 L1110.8,950.6 L1111.5,950.4 L1112.1,950.6 L1112.8,950.8 L1113.5,951.5 L1114.2,951.4 L1114.9,951.8 L1115.6,951.8 L1116.2,951.8 L1116.9,951.7 L1117.6,951.1 L1118.3,950.7 L1119.0,950.4 L1119.6,951.0 L1120.3,951.0 L1121.0,951.5 L1121.7,951.8 L1122.4,951.8 L1123.1,951.0 L1123.7,950.1 L1124.4,950.3 L1125.1,950.9 L1125.8,951.4 L1126.5,951.2 L1127.2,951.0 L1127.8,951.1 L1128.5,951.7 L1129.2,951.8 L1129.9,951.3 L1130.6,950.7 L1131.3,950.7 L1131.9,951.3 L1132.6,951.6 L1133.3,951.1 L1134.0,951.1 L1134.7,951.0 L1135.3,951.9 L1136.0,951.9 L1136.7,951.7 L1137.4,950.8 L1138.1,950.7 L1138.8,951.1 L1139.4,951.1 L1140.1,950.9 L1140.8,950.8 L1141.5,950.9 L1142.2,950.7 L1142.9,950.2 L1143.5,950.1 L1144.2,950.4 L1144.9,950.8 L1145.6,951.0 L1146.3,951.3 L1147.0,951.5 L1147.6,951.2 L1148.3,951.3 L1149.0,950.7 L1149.7,950.9 L1150.4,950.4 L1151.1,950.6 L1151.7,950.5 L1152.4,950.1 L1153.1,950.4 L1153.8,950.6 L1154.5,951.0 L1155.1,950.3 L1155.8,950.0 L1156.5,950.2 L1157.2,950.9 L1157.9,951.4 L1158.6,951.1 L1159.2,950.9 L1159.9,950.0 L1160.6,950.6 L1161.3,950.3 L1162.0,950.9 L1162.7,950.5 L1163.3,950.9 L1164.0,951.2 L1164.7,951.0 L1165.4,950.6 L1166.1,950.9 L1166.8,950.5 L1167.4,951.0 L1168.1,950.0 L1168.8,950.3 L1169.5,949.8 L1170.2,950.1 L1170.9,949.9 L1171.5,950.3 L1172.2,950.7 L1172.9,950.8 L1173.6,950.6 L1174.3,949.7 L1174.9,950.5 L1175.6,950.8 L1176.3,951.1 L1177.0,950.9 L1177.7,950.9 L1178.4,950.6 L1179.0,949.8 L1179.7,950.0 L1180.4,950.2 L1181.1,950.2 L1181.8,949.7 L1182.5,950.1 L1183.1,950.3 L1183.8,950.8 L1184.5,951.1 L1185.2,951.0 L1185.9,950.7 L1186.6,949.9 L1187.2,950.3 L1187.9,951.0 L1188.6,951.7 L1189.3,951.5 L1190.0,950.7 L1190.6,950.5 L1191.3,950.9 L1192.0,950.5 L1192.7,950.8 L1193.4,950.3 L1194.1,950.8 L1194.7,951.0 L1195.4,950.8 L1196.1,951.5 L1196.8,951.4 L1197.5,951.7 L1198.2,951.0 L1198.8,950.5 L1199.5,950.7 L1200.2,950.7 L1200.9,950.3 L1201.6,950.3 L1202.3,950.2 L1202.9,951.2 L1203.6,951.4 L1204.3,951.1 L1205.0,950.6 L1205.7,950.4 L1206.4,950.8 L1207.0,950.8 L1207.7,951.3 L1208.4,951.2 L1209.1,951.5 L1209.8,951.2 L1210.4,951.0 L1211.1,951.2 L1211.8,951.2 L1212.5,950.7 L1213.2,950.2 L1213.9,949.6 L1214.5,950.1 L1215.2,950.1 L1215.9,950.2 L1216.6,949.9 L1217.3,949.4 L1218.0,949.7 L1218.6,950.0 L1219.3,950.8 L1220.0,951.8 L1220.7,952.3 L1221.4,952.3 L1222.1,951.0 L1222.7,950.7 L1223.4,950.4 L1224.1,950.2 L1224.8,950.1 L1225.5,950.1 L1226.1,949.9 L1226.8,949.7 L1227.5,950.4 L1228.2,950.5 L1228.9,950.7 L1229.6,950.5 L1230.2,950.9 L1230.9,951.0 L1231.6,950.6 L1232.3,950.4 L1233.0,949.8 L1233.7,950.0 L1234.3,950.5 L1235.0,950.9 L1235.7,950.8 L1236.4,950.7 L1237.1,949.7 L1237.8,950.1 L1238.4,950.1 L1239.1,950.7 L1239.8,950.4 L1240.5,950.2 L1241.2,950.6 L1241.9,950.7 L1242.5,950.5 L1243.2,950.2 L1243.9,950.4 L1244.6,950.5 L1245.3,950.5 L1245.9,950.2 L1246.6,951.3 L1247.3,951.8 L1248.0,952.3 L1248.7,951.4 L1249.4,951.1 L1250.0,950.6 L1250.7,950.3 L1251.4,950.4 L1252.1,950.7 L1252.8,950.3 L1253.5,950.5 L1254.1,950.4 L1254.8,950.5 L1255.5,950.2 L1256.2,950.9 L1256.9,951.3 L1257.6,951.5 L1258.2,950.9 L1258.9,950.7 L1259.6,950.4 L1260.3,950.5 L1261.0,950.5 L1261.7,950.6 L1262.3,950.5 L1263.0,950.6 L1263.7,950.7 L1264.4,950.8 L1265.1,951.1 L1265.7,951.1 L1266.4,951.3 L1267.1,951.6 L1267.8,951.2 L1268.5,951.0 L1269.2,950.6 L1269.8,951.1 L1270.5,951.0 L1271.2,951.0 L1271.9,950.9 L1272.6,951.2 L1273.3,950.9 L1273.9,951.1 L1274.6,950.6 L1275.3,951.4 L1276.0,951.6 L1276.7,951.6 L1277.4,951.0 L1278.0,950.9 L1278.7,951.1 L1279.4,951.4 L1280.1,951.2 L1280.8,952.0 L1281.4,951.8 L1282.1,952.0 L1282.8,951.2 L1283.5,950.8 L1284.2,950.8 L1284.9,950.5 L1285.5,951.0 L1286.2,951.3 L1286.9,952.6 L1287.6,951.9 L1288.3,951.3 L1289.0,950.8 L1289.6,951.5 L1290.3,951.8 L1291.0,951.2 L1291.7,951.0 L1292.4,950.1 L1293.1,950.6 L1293.7,951.3 L1294.4,951.6 L1295.1,951.7 L1295.8,951.0 L1296.5,950.8 L1297.2,950.8 L1297.8,950.3 L1298.5,950.8 L1299.2,951.0 L1299.9,951.2 L1300.6,951.4 L1301.2,950.8 L1301.9,950.6 L1302.6,950.4 L1303.3,950.6 L1304.0,950.8 L1304.7,950.9 L1305.3,950.8 L1306.0,951.0 L1306.7,950.8 L1307.4,951.3 L1308.1,951.2 L1308.8,951.3 L1309.4,951.2 L1310.1,951.4 L1310.8,951.7 L1311.5,951.2 L1312.2,951.3 L1312.9,951.0 L1313.5,950.8 L1314.2,950.5 L1314.9,951.1 L1315.6,951.5 L1316.3,951.3 L1317.0,950.9 L1317.6,950.6 L1318.3,950.8 L1319.0,950.6 L1319.7,951.0 L1320.4,951.3 L1321.0,951.5 L1321.7,951.5 L1322.4,951.1 L1323.1,950.9 L1323.8,951.1 L1324.5,951.2 L1325.1,951.2 L1325.8,951.6 L1326.5,951.9 L1327.2,952.3 L1327.9,951.8 L1328.6,951.7 L1329.2,951.5 L1329.9,951.7 L1330.6,951.5 L1331.3,951.3 L1332.0,951.5 L1332.7,951.7 L1333.3,952.2 L1334.0,951.2 L1334.7,951.3 L1335.4,951.1 L1336.1,951.6 L1336.7,951.5 L1337.4,951.4 L1338.1,951.0 L1338.8,950.9 L1339.5,950.6 L1340.2,950.7 L1340.8,951.1 L1341.5,950.9 L1342.2,951.0 L1342.9,950.4 L1343.6,951.2 L1344.3,951.2 L1344.9,951.3 L1345.6,951.2 L1346.3,950.8 L1347.0,950.8 L1347.7,950.7 L1348.4,951.3 L1349.0,951.2 L1349.7,950.8 L1350.4,950.7 L1351.1,950.6 L1351.8,950.5 L1352.5,951.1 L1353.1,951.6 L1353.8,952.3 L1354.5,951.9 L1355.2,951.4 L1355.9,950.9 L1356.5,951.2 L1357.2,951.8 L1357.9,951.7 L1358.6,951.5 L1359.3,951.4 L1360.0,951.7 L1360.6,952.1 L1361.3,951.8 L1362.0,951.8 L1362.7,951.1 L1363.4,951.6 L1364.1,951.9 L1364.7,952.3 L1365.4,951.9 L1366.1,951.7 L1366.8,951.5 L1367.5,951.0 L1368.2,950.6 L1368.8,950.9 L1369.5,951.6 L1370.2,951.5 L1370.9,951.4 L1371.6,950.8 L1372.2,950.8 L1372.9,950.9 L1373.6,951.4 L1374.3,951.8 L1375.0,951.9 L1375.7,952.1 L1376.3,952.2 L1377.0,951.7 L1377.7,951.5 L1378.4,951.4 L1379.1,951.8 L1379.8,952.0 L1380.4,951.5 L1381.1,952.0 L1381.8,951.8 L1382.5,952.0 L1383.2,951.7 L1383.9,951.2 L1384.5,951.0 L1385.2,950.8 L1385.9,950.8 L1386.6,951.5 L1387.3,951.0 L1388.0,951.0 L1388.6,950.5 L1389.3,950.2 L1390.0,950.0 L1390.7,949.6 L1391.4,949.8 L1392.0,950.2 L1392.7,950.5 L1393.4,950.4 L1394.1,950.4 L1394.8,950.0 L1395.5,950.1 L1396.1,949.4 L1396.8,950.0 L1397.5,949.9 L1398.2,949.9 L1398.9,949.6 L1399.6,949.5 L1400.2,950.2 L1400.9,949.5 L1401.6,949.8 L1402.3,949.7 L1403.0,950.3 L1403.7,950.1 L1404.3,949.1 L1405.0,948.9 L1405.7,948.4 L1406.4,948.7 L1407.1,947.5 L1407.8,947.2 L1408.4,946.1 L1409.1,946.8 L1409.8,946.5 L1410.5,947.2 L1411.2,946.4 L1411.8,946.0 L1412.5,945.9 L1413.2,946.1 L1413.9,946.2 L1414.6,945.7 L1415.3,945.1 L1415.9,944.4 L1416.6,943.6 L1417.3,942.5 L1418.0,940.9 L1418.7,939.7 L1419.4,938.5 L1420.0,937.1 L1420.7,935.0 L1421.4,932.8 L1422.1,929.9 L1422.8,926.3 L1423.5,922.1 L1424.1,918.2 L1424.8,913.3 L1425.5,908.1 L1426.2,903.1 L1426.9,898.3 L1427.5,892.7 L1428.2,886.8 L1428.9,880.2 L1429.6,873.7 L1430.3,866.4 L1431.0,858.9 L1431.6,851.6 L1432.3,843.8 L1433.0,836.9 L1433.7,828.7 L1434.4,821.8 L1435.1,815.0 L1435.7,810.3 L1436.4,805.5 L1437.1,800.8 L1437.8,796.2 L1438.5,792.1 L1439.2,788.7 L1439.8,784.8 L1440.5,781.3 L1441.2,777.4 L1441.9,774.0 L1442.6,770.0 L1443.3,766.0 L1443.9,763.3 L1444.6,761.0 L1445.3,759.7 L1446.0,759.3 L1446.7,760.8 L1447.3,763.0 L1448.0,765.0 L1448.7,768.0 L1449.4,771.8 L1450.1,775.7 L1450.8,780.1 L1451.4,783.7 L1452.1,787.5 L1452.8,791.0 L1453.5,795.3 L1454.2,800.1 L1454.9,804.7 L1455.5,809.7 L1456.2,814.8 L1456.9,819.8 L1457.6,824.3 L1458.3,827.9 L1459.0,831.4 L1459.6,835.2 L1460.3,839.7 L1461.0,844.3 L1461.7,848.2 L1462.4,851.3 L1463.1,854.8 L1463.7,858.5 L1464.4,863.1 L1465.1,866.8 L1465.8,870.8 L1466.5,874.7 L1467.1,879.1 L1467.8,882.9 L1468.5,887.0 L1469.2,890.6 L1469.9,894.6 L1470.6,898.2 L1471.2,902.0 L1471.9,905.7 L1472.6,909.1 L1473.3,912.5 L1474.0,915.6 L1474.7,918.0 L1475.3,920.6 L1476.0,922.7 L1476.7,925.1 L1477.4,928.3 L1478.1,930.5 L1478.8,933.2 L1479.4,934.0 L1480.1,935.9 L1480.8,936.9 L1481.5,937.9 L1482.2,939.5 L1482.8,940.8 L1483.5,942.5 L1484.2,943.8 L1484.9,944.7 L1485.6,945.7 L1486.3,946.2 L1486.9,947.4 L1487.6,947.1 L1488.3,947.5 L1489.0,948.3 L1489.7,949.8 L1490.4,950.0 L1491.0,949.7 L1491.7,949.6 L1492.4,949.9 L1493.1,949.7 L1493.8,949.9 L1494.5,950.1 L1495.1,950.5 L1495.8,950.6 L1496.5,950.0 L1497.2,949.6 L1497.9,949.7 L1498.6,950.0 L1499.2,950.1 L1499.9,949.4 L1500.6,949.6 L1501.3,949.6 L1502.0,950.0 L1502.6,950.2 L1503.3,950.3 L1504.0,950.5 L1504.7,950.3 L1505.4,950.2 L1506.1,950.0 L1506.7,949.5 L1507.4,949.8 L1508.1,950.0 L1508.8,949.7 L1509.5,950.0 L1510.2,950.0 L1510.8,950.4 L1511.5,950.1 L1512.2,950.0 L1512.9,950.2 L1513.6,950.0 L1514.3,949.9 L1514.9,950.0 L1515.6,950.2 L1516.3,950.6 L1517.0,950.7 L1517.7,950.8 L1518.3,951.1 L1519.0,950.8 L1519.7,950.2 L1520.4,949.4 L1521.1,949.2 L1521.8,950.1 L1522.4,950.1 L1523.1,950.8 L1523.8,950.5 L1524.5,950.4 L1525.2,950.5 L1525.9,950.3 L1526.5,950.8 L1527.2,950.5 L1527.9,951.0 L1528.6,951.0 L1529.3,951.1 L1530.0,950.5 L1530.6,950.3 L1531.3,950.6 L1532.0,951.1 L1532.7,951.6 L1533.4,951.5 L1534.1,951.7 L1534.7,951.6 L1535.4,951.3 L1536.1,951.5 L1536.8,951.7 L1537.5,951.5 L1538.1,951.4 L1538.8,951.5 L1539.5,951.2 L1540.2,950.4 L1540.9,950.6 L1541.6,951.6 L1542.2,951.9 L1542.9,951.7 L1543.6,951.4 L1544.3,951.7 L1545.0,951.1 L1545.7,951.9 L1546.3,952.4 L1547.0,953.0 L1547.7,951.9 L1548.4,951.3 L1549.1,951.4 L1549.8,951.6 L1550.4,951.3 L1551.1,950.9 L1551.8,951.2 L1552.5,951.2 L1553.2,950.8 L1553.9,950.7 L1554.5,950.7 L1555.2,951.0 L1555.9,951.2 L1556.6,951.7 L1557.3,951.6 L1557.9,951.6 L1558.6,951.4 L1559.3,951.2 L1560.0,950.9 L1560.7,950.6 L1561.4,951.4 L1562.0,951.4 L1562.7,951.8 L1563.4,951.6 L1564.1,952.0 L1564.8,951.5 L1565.5,951.0 L1566.1,951.0 L1566.8,951.7 L1567.5,951.9 L1568.2,951.9 L1568.9,951.0 L1569.6,951.5 L1570.2,951.9 L1570.9,952.5 L1571.6,952.0 L1572.3,951.5 L1573.0,951.2 L1573.6,950.5 L1574.3,950.7 L1575.0,951.1 L1575.7,952.3 L1576.4,952.1 L1577.1,951.7 L1577.7,951.2 L1578.4,950.9 L1579.1,951.2 L1579.8,950.6 L1580.5,950.9 L1581.2,951.2 L1581.8,951.9 L1582.5,952.5 L1583.2,952.7 L1583.9,952.4 L1584.6,951.7 L1585.3,950.6 L1585.9,950.7 L1586.6,951.0 L1587.3,952.0 L1588.0,951.6 L1588.7,951.5 L1589.4,951.3 L1590.0,951.4 L1590.7,951.3 L1591.4,951.7 L1592.1,951.7 L1592.8,951.9 L1593.4,951.4 L1594.1,951.8 L1594.8,951.3 L1595.5,950.7 L1596.2,950.0 L1596.9,950.9 L1597.5,951.6 L1598.2,951.9 L1598.9,951.9 L1599.6,951.9 L1600.3,952.7 L1601.0,951.8 L1601.6,951.3 L1602.3,950.6 L1603.0,951.1 L1603.7,951.5 L1604.4,951.8 L1605.1,951.7 L1605.7,951.8 L1606.4,951.3 L1607.1,951.6 L1607.8,951.7 L1608.5,951.6 L1609.1,951.5 L1609.8,951.1 L1610.5,951.6 L1611.2,952.3 L1611.9,952.3 L1612.6,952.6 L1613.2,951.5 L1613.9,952.2 L1614.6,952.3 L1615.3,952.6 L1616.0,952.0 L1616.7,951.4 L1617.3,951.8 L1618.0,951.7 L1618.7,952.2 L1619.4,951.9 L1620.1,952.5 L1620.8,952.1" fill="none" stroke="#00ffff" stroke-width="3.8" stroke-linejoin="round" stroke-linecap="butt"/>
<rect x="1478.8" y="511.7" width="282.4" height="102.4" fill="#fff" stroke="#000" stroke-width="1.6"/>
<line x1="1487.30" y1="538.00" x2="1518.60" y2="538.00" stroke="#ff0000" stroke-width="2.7" stroke-linecap="round"/>
<text x="1531.2" y="546.0" font-size="25.3">KSHV gHgL+LBD</text>
<line x1="1487.30" y1="568.80" x2="1518.60" y2="568.80" stroke="#0000ff" stroke-width="2.7" stroke-linecap="round"/>
<text x="1531.2" y="576.9" font-size="25.3">KSHV gHgL</text>
<line x1="1487.30" y1="599.30" x2="1518.60" y2="599.30" stroke="#00ffff" stroke-width="2.7" stroke-linecap="round"/>
<text x="1531.2" y="607.0" font-size="25.3">LBD</text>
<text transform="translate(1330.4,538.9) scale(1,1.03)" font-size="29" text-anchor="middle" fill="#ff0000">1</text>
<text transform="translate(1361.8,539.3) scale(1,1.03)" font-size="29" text-anchor="middle" fill="#0000ff">3</text>
<line x1="1334.00" y1="544.30" x2="1336.18" y2="558.01" stroke="#ff0000" stroke-width="3.3"/>
<path d="M1337.60,566.90 L1329.57,556.53 L1336.18,558.01 L1342.01,554.55Z" fill="#ff0000"/>
<line x1="1354.90" y1="544.30" x2="1349.23" y2="558.54" stroke="#0000ff" stroke-width="3.3"/>
<path d="M1345.90,566.90 L1344.30,553.89 L1349.23,558.54 L1356.01,558.55Z" fill="#0000ff"/>
<text transform="translate(1464.0,725.8) scale(1,1.03)" font-size="29" text-anchor="middle" fill="#00ffff">4</text>
<line x1="1452.70" y1="731.50" x2="1446.86" y2="745.49" stroke="#00ffff" stroke-width="3.3"/>
<path d="M1443.40,753.80 L1442.01,740.76 L1446.86,745.49 L1453.64,745.61Z" fill="#00ffff"/>
<text transform="translate(1417.2,781.7) scale(1,1.03)" font-size="29" text-anchor="middle" fill="#ff0000">2</text>
<line x1="1418.80" y1="786.30" x2="1424.00" y2="799.07" stroke="#ff0000" stroke-width="3.3"/>
<path d="M1427.40,807.40 L1417.23,799.13 L1424.00,799.07 L1428.89,794.37Z" fill="#ff0000"/>
</svg></body></html>
